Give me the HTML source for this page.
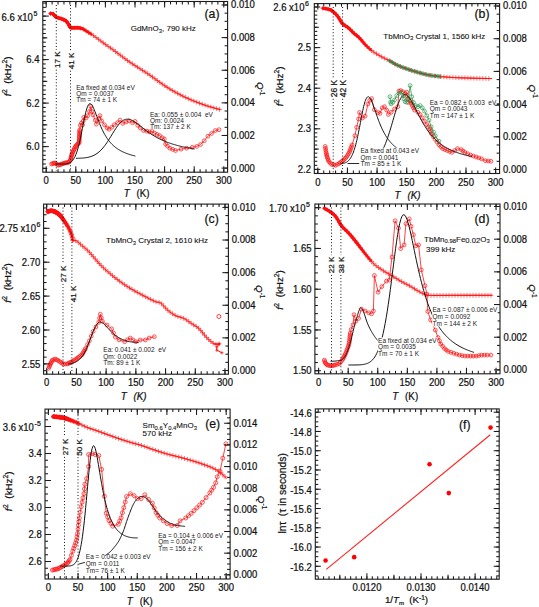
<!DOCTYPE html><html><head><meta charset="utf-8"><style>html,body{margin:0;padding:0;background:#fff;overflow:hidden}svg{display:block}text{white-space:pre;font-family:"Liberation Sans",sans-serif;fill:#111;stroke:#111;stroke-width:0.22px}text.sm{stroke:none;fill:#222}text.md{stroke-width:0.1px}</style></head><body>
<svg xmlns="http://www.w3.org/2000/svg" width="539" height="607" viewBox="0 0 539 607">
<rect width="539" height="607" fill="#fff"/>
<line x1="50.5" y1="13.6" x2="50.67" y2="13.59" stroke="#ff1010" stroke-width="3" stroke-linecap="round"/>
<line x1="50.67" y1="13.59" x2="50.89" y2="13.57" stroke="#ff1010" stroke-width="3" stroke-linecap="round"/>
<line x1="50.89" y1="13.57" x2="51.15" y2="13.53" stroke="#ff1010" stroke-width="3" stroke-linecap="round"/>
<line x1="51.15" y1="13.53" x2="51.44" y2="13.5" stroke="#ff1010" stroke-width="3" stroke-linecap="round"/>
<line x1="51.44" y1="13.5" x2="51.76" y2="13.5" stroke="#ff1010" stroke-width="3" stroke-linecap="round"/>
<line x1="51.76" y1="13.5" x2="52.1" y2="13.53" stroke="#ff1010" stroke-width="3" stroke-linecap="round"/>
<line x1="52.1" y1="13.53" x2="52.45" y2="13.63" stroke="#ff1010" stroke-width="3" stroke-linecap="round"/>
<line x1="52.45" y1="13.63" x2="52.8" y2="13.8" stroke="#ff1010" stroke-width="3" stroke-linecap="round"/>
<line x1="52.8" y1="13.8" x2="53.15" y2="14.07" stroke="#ff1010" stroke-width="3" stroke-linecap="round"/>
<line x1="53.15" y1="14.07" x2="53.5" y2="14.42" stroke="#ff1010" stroke-width="3" stroke-linecap="round"/>
<line x1="53.5" y1="14.42" x2="53.86" y2="14.84" stroke="#ff1010" stroke-width="3" stroke-linecap="round"/>
<line x1="53.86" y1="14.84" x2="54.24" y2="15.29" stroke="#ff1010" stroke-width="3" stroke-linecap="round"/>
<line x1="54.24" y1="15.29" x2="54.65" y2="15.76" stroke="#ff1010" stroke-width="3" stroke-linecap="round"/>
<line x1="54.65" y1="15.76" x2="55.09" y2="16.22" stroke="#ff1010" stroke-width="3" stroke-linecap="round"/>
<line x1="55.09" y1="16.22" x2="55.57" y2="16.64" stroke="#ff1010" stroke-width="3" stroke-linecap="round"/>
<line x1="55.57" y1="16.64" x2="56.1" y2="17" stroke="#ff1010" stroke-width="3" stroke-linecap="round"/>
<line x1="56.1" y1="17" x2="56.7" y2="17.3" stroke="#ff1010" stroke-width="3" stroke-linecap="round"/>
<line x1="56.7" y1="17.3" x2="57.36" y2="17.56" stroke="#ff1010" stroke-width="3" stroke-linecap="round"/>
<line x1="57.36" y1="17.56" x2="58.08" y2="17.79" stroke="#ff1010" stroke-width="3" stroke-linecap="round"/>
<line x1="58.08" y1="17.79" x2="58.83" y2="18.01" stroke="#ff1010" stroke-width="3" stroke-linecap="round"/>
<line x1="58.83" y1="18.01" x2="59.58" y2="18.22" stroke="#ff1010" stroke-width="3" stroke-linecap="round"/>
<line x1="59.58" y1="18.22" x2="60.32" y2="18.43" stroke="#ff1010" stroke-width="3" stroke-linecap="round"/>
<line x1="60.32" y1="18.43" x2="61.04" y2="18.66" stroke="#ff1010" stroke-width="3" stroke-linecap="round"/>
<line x1="61.04" y1="18.66" x2="61.7" y2="18.9" stroke="#ff1010" stroke-width="3" stroke-linecap="round"/>
<line x1="61.7" y1="18.9" x2="62.33" y2="19.15" stroke="#ff1010" stroke-width="3" stroke-linecap="round"/>
<line x1="62.33" y1="19.15" x2="62.94" y2="19.39" stroke="#ff1010" stroke-width="3" stroke-linecap="round"/>
<line x1="62.94" y1="19.39" x2="63.55" y2="19.63" stroke="#ff1010" stroke-width="3" stroke-linecap="round"/>
<line x1="63.55" y1="19.63" x2="64.13" y2="19.87" stroke="#ff1010" stroke-width="3" stroke-linecap="round"/>
<line x1="64.13" y1="19.87" x2="64.69" y2="20.14" stroke="#ff1010" stroke-width="3" stroke-linecap="round"/>
<line x1="64.69" y1="20.14" x2="65.23" y2="20.42" stroke="#ff1010" stroke-width="3" stroke-linecap="round"/>
<line x1="65.23" y1="20.42" x2="65.73" y2="20.74" stroke="#ff1010" stroke-width="3" stroke-linecap="round"/>
<line x1="65.73" y1="20.74" x2="66.2" y2="21.1" stroke="#ff1010" stroke-width="3" stroke-linecap="round"/>
<line x1="66.2" y1="21.1" x2="66.63" y2="21.52" stroke="#ff1010" stroke-width="3" stroke-linecap="round"/>
<line x1="66.63" y1="21.52" x2="67.03" y2="21.99" stroke="#ff1010" stroke-width="3" stroke-linecap="round"/>
<line x1="67.03" y1="21.99" x2="67.39" y2="22.5" stroke="#ff1010" stroke-width="3" stroke-linecap="round"/>
<line x1="67.39" y1="22.5" x2="67.73" y2="23.02" stroke="#ff1010" stroke-width="3" stroke-linecap="round"/>
<line x1="67.73" y1="23.02" x2="68.04" y2="23.56" stroke="#ff1010" stroke-width="3" stroke-linecap="round"/>
<line x1="68.04" y1="23.56" x2="68.34" y2="24.08" stroke="#ff1010" stroke-width="3" stroke-linecap="round"/>
<line x1="68.34" y1="24.08" x2="68.62" y2="24.56" stroke="#ff1010" stroke-width="3" stroke-linecap="round"/>
<line x1="68.62" y1="24.56" x2="68.9" y2="25" stroke="#ff1010" stroke-width="3" stroke-linecap="round"/>
<line x1="68.9" y1="25" x2="69.15" y2="25.4" stroke="#ff1010" stroke-width="3" stroke-linecap="round"/>
<line x1="69.15" y1="25.4" x2="69.36" y2="25.8" stroke="#ff1010" stroke-width="3" stroke-linecap="round"/>
<line x1="69.36" y1="25.8" x2="69.54" y2="26.18" stroke="#ff1010" stroke-width="3" stroke-linecap="round"/>
<line x1="69.54" y1="26.18" x2="69.71" y2="26.53" stroke="#ff1010" stroke-width="3" stroke-linecap="round"/>
<line x1="69.71" y1="26.53" x2="69.89" y2="26.86" stroke="#ff1010" stroke-width="3" stroke-linecap="round"/>
<line x1="69.89" y1="26.86" x2="70.09" y2="27.15" stroke="#ff1010" stroke-width="3" stroke-linecap="round"/>
<line x1="70.09" y1="27.15" x2="70.32" y2="27.4" stroke="#ff1010" stroke-width="3" stroke-linecap="round"/>
<line x1="70.32" y1="27.4" x2="70.6" y2="27.6" stroke="#ff1010" stroke-width="3" stroke-linecap="round"/>
<line x1="70.6" y1="27.6" x2="70.93" y2="27.74" stroke="#ff1010" stroke-width="3" stroke-linecap="round"/>
<line x1="70.93" y1="27.74" x2="71.28" y2="27.82" stroke="#ff1010" stroke-width="3" stroke-linecap="round"/>
<line x1="71.28" y1="27.82" x2="71.67" y2="27.86" stroke="#ff1010" stroke-width="3" stroke-linecap="round"/>
<line x1="71.67" y1="27.86" x2="72.07" y2="27.86" stroke="#ff1010" stroke-width="3" stroke-linecap="round"/>
<line x1="72.07" y1="27.86" x2="72.5" y2="27.85" stroke="#ff1010" stroke-width="3" stroke-linecap="round"/>
<line x1="72.5" y1="27.85" x2="72.95" y2="27.82" stroke="#ff1010" stroke-width="3" stroke-linecap="round"/>
<line x1="72.95" y1="27.82" x2="73.42" y2="27.8" stroke="#ff1010" stroke-width="3" stroke-linecap="round"/>
<line x1="73.42" y1="27.8" x2="73.9" y2="27.8" stroke="#ff1010" stroke-width="3" stroke-linecap="round"/>
<line x1="73.9" y1="27.8" x2="74.41" y2="27.8" stroke="#ff1010" stroke-width="3" stroke-linecap="round"/>
<line x1="74.41" y1="27.8" x2="74.94" y2="27.79" stroke="#ff1010" stroke-width="3" stroke-linecap="round"/>
<line x1="74.94" y1="27.79" x2="75.5" y2="27.77" stroke="#ff1010" stroke-width="3" stroke-linecap="round"/>
<line x1="75.5" y1="27.77" x2="76.08" y2="27.74" stroke="#ff1010" stroke-width="3" stroke-linecap="round"/>
<line x1="76.08" y1="27.74" x2="76.67" y2="27.73" stroke="#ff1010" stroke-width="3" stroke-linecap="round"/>
<line x1="76.67" y1="27.73" x2="77.25" y2="27.73" stroke="#ff1010" stroke-width="3" stroke-linecap="round"/>
<line x1="77.25" y1="27.73" x2="77.83" y2="27.75" stroke="#ff1010" stroke-width="3" stroke-linecap="round"/>
<line x1="77.83" y1="27.75" x2="78.4" y2="27.8" stroke="#ff1010" stroke-width="3" stroke-linecap="round"/>
<line x1="78.4" y1="27.8" x2="78.95" y2="27.87" stroke="#ff1010" stroke-width="2.91" stroke-linecap="round"/>
<line x1="78.95" y1="27.87" x2="79.5" y2="27.96" stroke="#ff1010" stroke-width="2.84" stroke-linecap="round"/>
<line x1="79.5" y1="27.96" x2="80.05" y2="28.06" stroke="#ff1010" stroke-width="2.76" stroke-linecap="round"/>
<line x1="80.05" y1="28.06" x2="80.6" y2="28.18" stroke="#ff1010" stroke-width="2.68" stroke-linecap="round"/>
<line x1="80.6" y1="28.18" x2="81.15" y2="28.31" stroke="#ff1010" stroke-width="2.6" stroke-linecap="round"/>
<line x1="81.15" y1="28.31" x2="81.7" y2="28.48" stroke="#ff1010" stroke-width="2.52" stroke-linecap="round"/>
<line x1="81.7" y1="28.48" x2="82.25" y2="28.67" stroke="#ff1010" stroke-width="2.44" stroke-linecap="round"/>
<line x1="82.25" y1="28.67" x2="82.8" y2="28.9" stroke="#ff1010" stroke-width="2.36" stroke-linecap="round"/>
<line x1="82.8" y1="28.9" x2="83.36" y2="29.17" stroke="#ff1010" stroke-width="2.29" stroke-linecap="round"/>
<line x1="83.36" y1="29.17" x2="83.92" y2="29.48" stroke="#ff1010" stroke-width="2.21" stroke-linecap="round"/>
<line x1="83.92" y1="29.48" x2="84.48" y2="29.83" stroke="#ff1010" stroke-width="2.13" stroke-linecap="round"/>
<line x1="84.48" y1="29.83" x2="85.04" y2="30.19" stroke="#ff1010" stroke-width="2.05" stroke-linecap="round"/>
<line x1="85.04" y1="30.19" x2="85.61" y2="30.58" stroke="#ff1010" stroke-width="1.97" stroke-linecap="round"/>
<line x1="85.61" y1="30.58" x2="86.17" y2="30.96" stroke="#ff1010" stroke-width="1.88" stroke-linecap="round"/>
<line x1="86.17" y1="30.96" x2="86.74" y2="31.34" stroke="#ff1010" stroke-width="1.8" stroke-linecap="round"/>
<line x1="86.74" y1="31.34" x2="87.3" y2="31.7" stroke="#ff1010" stroke-width="1.72" stroke-linecap="round"/>
<line x1="87.3" y1="31.7" x2="87.86" y2="32.04" stroke="#ff1010" stroke-width="1.64" stroke-linecap="round"/>
<line x1="87.86" y1="32.04" x2="88.4" y2="32.37" stroke="#ff1010" stroke-width="1.56" stroke-linecap="round"/>
<line x1="88.4" y1="32.37" x2="88.94" y2="32.7" stroke="#ff1010" stroke-width="1.49" stroke-linecap="round"/>
<line x1="88.94" y1="32.7" x2="89.49" y2="33.03" stroke="#ff1010" stroke-width="1.41" stroke-linecap="round"/>
<line x1="89.49" y1="33.03" x2="90.04" y2="33.37" stroke="#ff1010" stroke-width="1.33" stroke-linecap="round"/>
<line x1="90.04" y1="33.37" x2="90.6" y2="33.72" stroke="#ff1010" stroke-width="1.25" stroke-linecap="round"/>
<line x1="90.6" y1="33.72" x2="91.19" y2="34.1" stroke="#ff1010" stroke-width="1.17" stroke-linecap="round"/>
<line x1="91.19" y1="34.1" x2="91.8" y2="34.5" stroke="#ff1010" stroke-width="1.09" stroke-linecap="round"/>
<path d="M48.75 13.6h3.5M50.5 11.85v3.5M49.94 13.5h3.5M51.69 11.75v3.5M51.08 13.82h3.5M52.83 12.07v3.5M51.95 14.65h3.5M53.7 12.9v3.5M52.73 15.56h3.5M54.48 13.81v3.5M53.57 16.42h3.5M55.32 14.67v3.5M54.55 17.1h3.5M56.3 15.35v3.5M55.65 17.57h3.5M57.4 15.82v3.5M56.79 17.93h3.5M58.54 16.18v3.5M57.95 18.26h3.5M59.7 16.51v3.5M59.1 18.6h3.5M60.85 16.85v3.5M60.23 19.01h3.5M61.98 17.26v3.5M61.34 19.45h3.5M63.09 17.7v3.5M62.45 19.91h3.5M64.2 18.16v3.5M63.52 20.45h3.5M65.27 18.7v3.5M64.5 21.15h3.5M66.25 19.4v3.5M65.31 22.03h3.5M67.06 20.28v3.5M65.98 23.03h3.5M67.73 21.28v3.5M66.58 24.06h3.5M68.33 22.31v3.5M67.2 25.09h3.5M68.95 23.34v3.5M67.77 26.14h3.5M69.52 24.39v3.5M68.37 27.18h3.5M70.12 25.43v3.5M69.37 27.79h3.5M71.12 26.04v3.5M70.57 27.85h3.5M72.32 26.1v3.5M71.76 27.8h3.5M73.51 26.05v3.5M72.96 27.79h3.5M74.71 26.04v3.5M74.16 27.75h3.5M75.91 26v3.5M75.36 27.73h3.5M77.11 25.98v3.5M76.56 27.79h3.5M78.31 26.04v3.5M77.75 27.96h3.5M79.5 26.21v3.5M78.93 28.19h3.5M80.68 26.44v3.5M80.08 28.53h3.5M81.83 26.78v3.5M81.19 28.97h3.5M82.94 27.22v3.5M82.25 29.53h3.5M84 27.78v3.5M83.27 30.17h3.5M85.02 28.42v3.5M84.26 30.85h3.5M86.01 29.1v3.5M85.26 31.51h3.5M87.01 29.76v3.5M86.28 32.15h3.5M88.03 30.4v3.5M87.3 32.77h3.5M89.05 31.02v3.5M88.33 33.39h3.5M90.08 31.64v3.5M89.34 34.03h3.5M91.09 32.28v3.5" stroke="#ff1010" stroke-width="0.6" fill="none"/>
<polyline points="50.5,13.6 50.67,13.59 50.89,13.57 51.15,13.53 51.44,13.5 51.76,13.5 52.1,13.53 52.45,13.63 52.8,13.8 53.15,14.07 53.5,14.42 53.86,14.84 54.24,15.29 54.65,15.76 55.09,16.22 55.57,16.64 56.1,17 56.7,17.3 57.36,17.56 58.08,17.79 58.83,18.01 59.58,18.22 60.32,18.43 61.04,18.66 61.7,18.9 62.33,19.15 62.94,19.39 63.55,19.63 64.13,19.87 64.69,20.14 65.23,20.42 65.73,20.74 66.2,21.1 66.63,21.52 67.03,21.99 67.39,22.5 67.73,23.02 68.04,23.56 68.34,24.08 68.62,24.56 68.9,25 69.15,25.4 69.36,25.8 69.54,26.18 69.71,26.53 69.89,26.86 70.09,27.15 70.32,27.4 70.6,27.6 70.93,27.74 71.28,27.82 71.67,27.86 72.07,27.86 72.5,27.85 72.95,27.82 73.42,27.8 73.9,27.8 74.41,27.8 74.94,27.79 75.5,27.77 76.08,27.74 76.67,27.73 77.25,27.73 77.83,27.75 78.4,27.8 78.95,27.87 79.5,27.96 80.05,28.06 80.6,28.18 81.15,28.31 81.7,28.48 82.25,28.67 82.8,28.9 83.36,29.17 83.92,29.48 84.48,29.83 85.04,30.19 85.61,30.58 86.17,30.96 86.74,31.34 87.3,31.7 87.86,32.04 88.4,32.37 88.94,32.7 89.49,33.03 90.04,33.37 90.6,33.72 91.19,34.1 91.8,34.5 92.43,34.93 93.08,35.37 93.74,35.83 94.41,36.31 95.11,36.81 95.82,37.32 96.55,37.85 97.3,38.4 98.06,38.96 98.81,39.52 99.57,40.1 100.36,40.69 101.18,41.32 102.05,41.97 102.99,42.66 104,43.4 105.07,44.16 106.17,44.94 107.32,45.74 108.53,46.58 109.81,47.47 111.17,48.43 112.63,49.47 114.2,50.6 115.89,51.85 117.69,53.2 119.59,54.64 121.58,56.15 123.62,57.69 125.72,59.25 127.85,60.79 130,62.3 132.19,63.78 134.46,65.26 136.77,66.73 139.13,68.22 141.51,69.71 143.89,71.22 146.26,72.75 148.6,74.3 150.92,75.9 153.23,77.55 155.54,79.22 157.85,80.91 160.16,82.59 162.47,84.22 164.78,85.8 167.1,87.3 169.42,88.73 171.75,90.11 174.07,91.45 176.4,92.75 178.73,94 181.05,95.21 183.38,96.38 185.7,97.5 188.04,98.58 190.4,99.61 192.76,100.6 195.12,101.54 197.46,102.45 199.77,103.31 202.02,104.12 204.2,104.9 206.41,105.65 208.71,106.38 211.02,107.07 213.26,107.71 215.35,108.3 217.22,108.82 218.8,109.26 220,109.6" fill="none" stroke="#ff1010" stroke-width="1.0" stroke-linejoin="round" stroke-linecap="round" />
<path d="M48.1 13.6h4.8M50.5 11.2v4.8M50.89 14.21h4.8M53.29 11.81v4.8M52.92 16.42h4.8M55.32 14.02v4.8M55.57 17.76h4.8M57.97 15.36v4.8M58.45 18.6h4.8M60.85 16.2v4.8M61.25 19.67h4.8M63.65 17.27v4.8M63.85 21.15h4.8M66.25 18.75v4.8M65.63 23.54h4.8M68.03 21.14v4.8M67.12 26.14h4.8M69.52 23.74v4.8M69.32 27.86h4.8M71.72 25.46v4.8M72.31 27.79h4.8M74.71 25.39v4.8M75.31 27.74h4.8M77.71 25.34v4.8M78.28 28.19h4.8M80.68 25.79v4.8M81.08 29.24h4.8M83.48 26.84v4.8M83.61 30.85h4.8M86.01 28.45v4.8M86.14 32.46h4.8M88.54 30.06v4.8M88.69 34.03h4.8M91.09 31.63v4.8M91.17 35.72h4.8M93.57 33.32v4.8M93.61 37.46h4.8M96.01 35.06v4.8M96.03 39.24h4.8M98.43 36.84v4.8M98.43 41.05h4.8M100.83 38.65v4.8M100.83 42.84h4.8M103.23 40.44v4.8M103.27 44.59h4.8M105.67 42.19v4.8M105.73 46.3h4.8M108.13 43.9v4.8M108.19 48.02h4.8M110.59 45.62v4.8M110.64 49.76h4.8M113.04 47.36v4.8M113.06 51.53h4.8M115.46 49.13v4.8M115.46 53.33h4.8M117.86 50.93v4.8M117.85 55.14h4.8M120.25 52.74v4.8M120.24 56.95h4.8M122.64 54.55v4.8M122.64 58.75h4.8M125.04 56.35v4.8M125.07 60.51h4.8M127.47 58.11v4.8M127.52 62.24h4.8M129.92 59.84v4.8M130.01 63.92h4.8M132.41 61.52v4.8M132.52 65.55h4.8M134.92 63.15v4.8M135.06 67.16h4.8M137.46 64.76v4.8M137.59 68.76h4.8M139.99 66.36v4.8M140.13 70.36h4.8M142.53 67.96v4.8M142.66 71.98h4.8M145.06 69.58v4.8M145.17 73.62h4.8M147.57 71.22v4.8M147.65 75.3h4.8M150.05 72.9v4.8M150.11 77.03h4.8M152.51 74.63v4.8M152.54 78.79h4.8M154.94 76.39v4.8M154.96 80.56h4.8M157.36 78.16v4.8M157.39 82.32h4.8M159.79 79.92v4.8M159.83 84.06h4.8M162.23 81.66v4.8M162.31 85.75h4.8M164.71 83.35v4.8M164.83 87.38h4.8M167.23 84.98v4.8M167.39 88.95h4.8M169.79 86.55v4.8M169.97 90.47h4.8M172.37 88.07v4.8M172.58 91.96h4.8M174.98 89.56v4.8M175.21 93.4h4.8M177.61 91v4.8M177.86 94.8h4.8M180.26 92.4v4.8M180.54 96.16h4.8M182.94 93.76v4.8M183.23 97.47h4.8M185.63 95.07v4.8M185.96 98.72h4.8M188.36 96.32v4.8M188.71 99.91h4.8M191.11 97.51v4.8M191.49 101.05h4.8M193.89 98.65v4.8M194.28 102.14h4.8M196.68 99.74v4.8M197.09 103.2h4.8M199.49 100.8v4.8M199.91 104.23h4.8M202.31 101.83v4.8M202.74 105.22h4.8M205.14 102.82v4.8M205.59 106.15h4.8M207.99 103.75v4.8M208.46 107.02h4.8M210.86 104.62v4.8M211.35 107.85h4.8M213.75 105.45v4.8M214.23 108.66h4.8M216.63 106.26v4.8M217.12 109.46h4.8M219.52 107.06v4.8" stroke="#ff1010" stroke-width="0.6" fill="none"/>
<polyline points="51.5,164 54.9,162.9 58.4,165.2 61.8,164 65.3,162.9 68.8,162.3 70.5,160 71.6,155.4 72.8,151.9 74,149.6 75.7,146.1 77.4,144.4 79.1,142.7 79.7,130 80.3,125.4 81.4,123.1 82.6,124.8 83.8,117.3 86.1,117.9 87.8,115.6 89.5,111.5 90.9,106.3 91.8,111.5 93,115 95.3,120.2 96.4,124.2 98.7,119 99.9,115.6 101.6,120.8 104.5,124.8 107.1,127.9 109.1,129.2 111.7,127.3 114.3,124.7 117.5,122.7 120.1,120.1 122.7,123.4 126,122.1 129.2,120.8 132.5,122.7 135.1,121.4 137.7,125.3 140.3,127.9 143.5,130.5 146.8,131.2 149.4,131.8 151.9,131.2 154.5,133.1 157.1,134.4 159.7,135.7 162.3,137.7 164.3,139 165.6,144.2 167.5,146.1 169.9,148.2 175.5,150.5 181,149.2 186.6,148.2 192.2,147.3 196.8,146.4 200.5,144.5 204.2,140.8 207.9,136.2 211.6,133.4 215.3,130.6 219,129.7" fill="none" stroke="#ff1010" stroke-width="0.8" stroke-linejoin="round" stroke-linecap="round" />
<circle cx="51.5" cy="164" r="1.9" fill="none" stroke="#ff1010" stroke-width="0.7"/>
<circle cx="52.63" cy="163.63" r="1.9" fill="none" stroke="#ff1010" stroke-width="0.7"/>
<circle cx="53.77" cy="163.27" r="1.9" fill="none" stroke="#ff1010" stroke-width="0.7"/>
<circle cx="54.9" cy="162.9" r="1.9" fill="none" stroke="#ff1010" stroke-width="0.7"/>
<circle cx="56.07" cy="163.67" r="1.9" fill="none" stroke="#ff1010" stroke-width="0.7"/>
<circle cx="57.23" cy="164.43" r="1.9" fill="none" stroke="#ff1010" stroke-width="0.7"/>
<circle cx="58.4" cy="165.2" r="1.9" fill="none" stroke="#ff1010" stroke-width="0.7"/>
<circle cx="59.53" cy="164.8" r="1.9" fill="none" stroke="#ff1010" stroke-width="0.7"/>
<circle cx="60.67" cy="164.4" r="1.9" fill="none" stroke="#ff1010" stroke-width="0.7"/>
<circle cx="61.8" cy="164" r="1.9" fill="none" stroke="#ff1010" stroke-width="0.7"/>
<circle cx="62.97" cy="163.63" r="1.9" fill="none" stroke="#ff1010" stroke-width="0.7"/>
<circle cx="64.13" cy="163.27" r="1.9" fill="none" stroke="#ff1010" stroke-width="0.7"/>
<circle cx="65.3" cy="162.9" r="1.9" fill="none" stroke="#ff1010" stroke-width="0.7"/>
<circle cx="66.47" cy="162.7" r="1.9" fill="none" stroke="#ff1010" stroke-width="0.7"/>
<circle cx="67.63" cy="162.5" r="1.9" fill="none" stroke="#ff1010" stroke-width="0.7"/>
<circle cx="68.8" cy="162.3" r="1.9" fill="none" stroke="#ff1010" stroke-width="0.7"/>
<circle cx="69.65" cy="161.15" r="1.9" fill="none" stroke="#ff1010" stroke-width="0.7"/>
<circle cx="70.5" cy="160" r="1.9" fill="none" stroke="#ff1010" stroke-width="0.7"/>
<circle cx="70.78" cy="158.85" r="1.9" fill="none" stroke="#ff1010" stroke-width="0.7"/>
<circle cx="71.05" cy="157.7" r="1.9" fill="none" stroke="#ff1010" stroke-width="0.7"/>
<circle cx="71.32" cy="156.55" r="1.9" fill="none" stroke="#ff1010" stroke-width="0.7"/>
<circle cx="71.6" cy="155.4" r="1.9" fill="none" stroke="#ff1010" stroke-width="0.7"/>
<circle cx="72" cy="154.23" r="1.9" fill="none" stroke="#ff1010" stroke-width="0.7"/>
<circle cx="72.4" cy="153.07" r="1.9" fill="none" stroke="#ff1010" stroke-width="0.7"/>
<circle cx="72.8" cy="151.9" r="1.9" fill="none" stroke="#ff1010" stroke-width="0.7"/>
<circle cx="73.4" cy="150.75" r="1.9" fill="none" stroke="#ff1010" stroke-width="0.7"/>
<circle cx="74" cy="149.6" r="1.9" fill="none" stroke="#ff1010" stroke-width="0.7"/>
<circle cx="74.57" cy="148.43" r="1.9" fill="none" stroke="#ff1010" stroke-width="0.7"/>
<circle cx="75.13" cy="147.27" r="1.9" fill="none" stroke="#ff1010" stroke-width="0.7"/>
<circle cx="75.7" cy="146.1" r="1.9" fill="none" stroke="#ff1010" stroke-width="0.7"/>
<circle cx="76.55" cy="145.25" r="1.9" fill="none" stroke="#ff1010" stroke-width="0.7"/>
<circle cx="77.4" cy="144.4" r="1.9" fill="none" stroke="#ff1010" stroke-width="0.7"/>
<circle cx="78.25" cy="143.55" r="1.9" fill="none" stroke="#ff1010" stroke-width="0.7"/>
<circle cx="79.1" cy="142.7" r="1.9" fill="none" stroke="#ff1010" stroke-width="0.7"/>
<circle cx="79.17" cy="141.29" r="1.9" fill="none" stroke="#ff1010" stroke-width="0.7"/>
<circle cx="79.23" cy="139.88" r="1.9" fill="none" stroke="#ff1010" stroke-width="0.7"/>
<circle cx="79.3" cy="138.47" r="1.9" fill="none" stroke="#ff1010" stroke-width="0.7"/>
<circle cx="79.37" cy="137.06" r="1.9" fill="none" stroke="#ff1010" stroke-width="0.7"/>
<circle cx="79.43" cy="135.64" r="1.9" fill="none" stroke="#ff1010" stroke-width="0.7"/>
<circle cx="79.5" cy="134.23" r="1.9" fill="none" stroke="#ff1010" stroke-width="0.7"/>
<circle cx="79.57" cy="132.82" r="1.9" fill="none" stroke="#ff1010" stroke-width="0.7"/>
<circle cx="79.63" cy="131.41" r="1.9" fill="none" stroke="#ff1010" stroke-width="0.7"/>
<circle cx="79.7" cy="130" r="1.9" fill="none" stroke="#ff1010" stroke-width="0.7"/>
<circle cx="80.3" cy="125.4" r="1.9" fill="none" stroke="#ff1010" stroke-width="0.7"/>
<circle cx="81.4" cy="123.1" r="1.9" fill="none" stroke="#ff1010" stroke-width="0.7"/>
<circle cx="82.6" cy="124.8" r="1.9" fill="none" stroke="#ff1010" stroke-width="0.7"/>
<circle cx="83.2" cy="121.05" r="1.9" fill="none" stroke="#ff1010" stroke-width="0.7"/>
<circle cx="83.8" cy="117.3" r="1.9" fill="none" stroke="#ff1010" stroke-width="0.7"/>
<circle cx="86.1" cy="117.9" r="1.9" fill="none" stroke="#ff1010" stroke-width="0.7"/>
<circle cx="87.8" cy="115.6" r="1.9" fill="none" stroke="#ff1010" stroke-width="0.7"/>
<circle cx="89.5" cy="111.5" r="1.9" fill="none" stroke="#ff1010" stroke-width="0.7"/>
<circle cx="90.9" cy="106.3" r="1.9" fill="none" stroke="#ff1010" stroke-width="0.7"/>
<circle cx="91.8" cy="111.5" r="1.9" fill="none" stroke="#ff1010" stroke-width="0.7"/>
<circle cx="93" cy="115" r="1.9" fill="none" stroke="#ff1010" stroke-width="0.7"/>
<circle cx="95.3" cy="120.2" r="1.9" fill="none" stroke="#ff1010" stroke-width="0.7"/>
<circle cx="96.4" cy="124.2" r="1.9" fill="none" stroke="#ff1010" stroke-width="0.7"/>
<circle cx="98.7" cy="119" r="1.9" fill="none" stroke="#ff1010" stroke-width="0.7"/>
<circle cx="99.9" cy="115.6" r="1.9" fill="none" stroke="#ff1010" stroke-width="0.7"/>
<circle cx="101.6" cy="120.8" r="1.9" fill="none" stroke="#ff1010" stroke-width="0.7"/>
<circle cx="104.5" cy="124.8" r="1.9" fill="none" stroke="#ff1010" stroke-width="0.7"/>
<circle cx="107.1" cy="127.9" r="1.9" fill="none" stroke="#ff1010" stroke-width="0.7"/>
<circle cx="109.1" cy="129.2" r="1.9" fill="none" stroke="#ff1010" stroke-width="0.7"/>
<circle cx="111.7" cy="127.3" r="1.9" fill="none" stroke="#ff1010" stroke-width="0.7"/>
<circle cx="114.3" cy="124.7" r="1.9" fill="none" stroke="#ff1010" stroke-width="0.7"/>
<circle cx="117.5" cy="122.7" r="1.9" fill="none" stroke="#ff1010" stroke-width="0.7"/>
<circle cx="120.1" cy="120.1" r="1.9" fill="none" stroke="#ff1010" stroke-width="0.7"/>
<circle cx="122.7" cy="123.4" r="1.9" fill="none" stroke="#ff1010" stroke-width="0.7"/>
<circle cx="126" cy="122.1" r="1.9" fill="none" stroke="#ff1010" stroke-width="0.7"/>
<circle cx="129.2" cy="120.8" r="1.9" fill="none" stroke="#ff1010" stroke-width="0.7"/>
<circle cx="132.5" cy="122.7" r="1.9" fill="none" stroke="#ff1010" stroke-width="0.7"/>
<circle cx="135.1" cy="121.4" r="1.9" fill="none" stroke="#ff1010" stroke-width="0.7"/>
<circle cx="137.7" cy="125.3" r="1.9" fill="none" stroke="#ff1010" stroke-width="0.7"/>
<circle cx="140.3" cy="127.9" r="1.9" fill="none" stroke="#ff1010" stroke-width="0.7"/>
<circle cx="143.5" cy="130.5" r="1.9" fill="none" stroke="#ff1010" stroke-width="0.7"/>
<circle cx="146.8" cy="131.2" r="1.9" fill="none" stroke="#ff1010" stroke-width="0.7"/>
<circle cx="149.4" cy="131.8" r="1.9" fill="none" stroke="#ff1010" stroke-width="0.7"/>
<circle cx="151.9" cy="131.2" r="1.9" fill="none" stroke="#ff1010" stroke-width="0.7"/>
<circle cx="154.5" cy="133.1" r="1.9" fill="none" stroke="#ff1010" stroke-width="0.7"/>
<circle cx="157.1" cy="134.4" r="1.9" fill="none" stroke="#ff1010" stroke-width="0.7"/>
<circle cx="159.7" cy="135.7" r="1.9" fill="none" stroke="#ff1010" stroke-width="0.7"/>
<circle cx="162.3" cy="137.7" r="1.9" fill="none" stroke="#ff1010" stroke-width="0.7"/>
<circle cx="164.3" cy="139" r="1.9" fill="none" stroke="#ff1010" stroke-width="0.7"/>
<circle cx="165.6" cy="144.2" r="1.9" fill="none" stroke="#ff1010" stroke-width="0.7"/>
<circle cx="167.5" cy="146.1" r="1.9" fill="none" stroke="#ff1010" stroke-width="0.7"/>
<circle cx="169.9" cy="148.2" r="1.9" fill="none" stroke="#ff1010" stroke-width="0.7"/>
<circle cx="172.7" cy="149.35" r="1.9" fill="none" stroke="#ff1010" stroke-width="0.7"/>
<circle cx="175.5" cy="150.5" r="1.9" fill="none" stroke="#ff1010" stroke-width="0.7"/>
<circle cx="181" cy="149.2" r="1.9" fill="none" stroke="#ff1010" stroke-width="0.7"/>
<circle cx="186.6" cy="148.2" r="1.9" fill="none" stroke="#ff1010" stroke-width="0.7"/>
<circle cx="192.2" cy="147.3" r="1.9" fill="none" stroke="#ff1010" stroke-width="0.7"/>
<circle cx="196.8" cy="146.4" r="1.9" fill="none" stroke="#ff1010" stroke-width="0.7"/>
<circle cx="200.5" cy="144.5" r="1.9" fill="none" stroke="#ff1010" stroke-width="0.7"/>
<circle cx="204.2" cy="140.8" r="1.9" fill="none" stroke="#ff1010" stroke-width="0.7"/>
<circle cx="207.9" cy="136.2" r="1.9" fill="none" stroke="#ff1010" stroke-width="0.7"/>
<circle cx="211.6" cy="133.4" r="1.9" fill="none" stroke="#ff1010" stroke-width="0.7"/>
<circle cx="215.3" cy="130.6" r="1.9" fill="none" stroke="#ff1010" stroke-width="0.7"/>
<circle cx="219" cy="129.7" r="1.9" fill="none" stroke="#ff1010" stroke-width="0.7"/>
<line x1="322.9" y1="8.2" x2="323.4" y2="8.29" stroke="#ff1010" stroke-width="2.8" stroke-linecap="round"/>
<line x1="323.4" y1="8.29" x2="324.08" y2="8.4" stroke="#ff1010" stroke-width="2.8" stroke-linecap="round"/>
<line x1="324.08" y1="8.4" x2="324.89" y2="8.54" stroke="#ff1010" stroke-width="2.8" stroke-linecap="round"/>
<line x1="324.89" y1="8.54" x2="325.78" y2="8.69" stroke="#ff1010" stroke-width="2.8" stroke-linecap="round"/>
<line x1="325.78" y1="8.69" x2="326.7" y2="8.85" stroke="#ff1010" stroke-width="2.8" stroke-linecap="round"/>
<line x1="326.7" y1="8.85" x2="327.59" y2="9.03" stroke="#ff1010" stroke-width="2.8" stroke-linecap="round"/>
<line x1="327.59" y1="9.03" x2="328.41" y2="9.21" stroke="#ff1010" stroke-width="2.8" stroke-linecap="round"/>
<line x1="328.41" y1="9.21" x2="329.1" y2="9.4" stroke="#ff1010" stroke-width="2.8" stroke-linecap="round"/>
<line x1="329.1" y1="9.4" x2="329.65" y2="9.57" stroke="#ff1010" stroke-width="2.8" stroke-linecap="round"/>
<line x1="329.65" y1="9.57" x2="330.12" y2="9.73" stroke="#ff1010" stroke-width="2.8" stroke-linecap="round"/>
<line x1="330.12" y1="9.73" x2="330.53" y2="9.88" stroke="#ff1010" stroke-width="2.8" stroke-linecap="round"/>
<line x1="330.53" y1="9.88" x2="330.91" y2="10.04" stroke="#ff1010" stroke-width="2.8" stroke-linecap="round"/>
<line x1="330.91" y1="10.04" x2="331.27" y2="10.24" stroke="#ff1010" stroke-width="2.8" stroke-linecap="round"/>
<line x1="331.27" y1="10.24" x2="331.66" y2="10.49" stroke="#ff1010" stroke-width="2.8" stroke-linecap="round"/>
<line x1="331.66" y1="10.49" x2="332.09" y2="10.8" stroke="#ff1010" stroke-width="2.8" stroke-linecap="round"/>
<line x1="332.09" y1="10.8" x2="332.6" y2="11.2" stroke="#ff1010" stroke-width="2.8" stroke-linecap="round"/>
<line x1="332.6" y1="11.2" x2="333.18" y2="11.68" stroke="#ff1010" stroke-width="2.8" stroke-linecap="round"/>
<line x1="333.18" y1="11.68" x2="333.82" y2="12.24" stroke="#ff1010" stroke-width="2.8" stroke-linecap="round"/>
<line x1="333.82" y1="12.24" x2="334.5" y2="12.86" stroke="#ff1010" stroke-width="2.8" stroke-linecap="round"/>
<line x1="334.5" y1="12.86" x2="335.19" y2="13.52" stroke="#ff1010" stroke-width="2.8" stroke-linecap="round"/>
<line x1="335.19" y1="13.52" x2="335.9" y2="14.23" stroke="#ff1010" stroke-width="2.8" stroke-linecap="round"/>
<line x1="335.9" y1="14.23" x2="336.6" y2="14.97" stroke="#ff1010" stroke-width="2.8" stroke-linecap="round"/>
<line x1="336.6" y1="14.97" x2="337.27" y2="15.73" stroke="#ff1010" stroke-width="2.8" stroke-linecap="round"/>
<line x1="337.27" y1="15.73" x2="337.9" y2="16.5" stroke="#ff1010" stroke-width="2.8" stroke-linecap="round"/>
<line x1="337.9" y1="16.5" x2="338.48" y2="17.31" stroke="#ff1010" stroke-width="2.8" stroke-linecap="round"/>
<line x1="338.48" y1="17.31" x2="339.02" y2="18.19" stroke="#ff1010" stroke-width="2.8" stroke-linecap="round"/>
<line x1="339.02" y1="18.19" x2="339.54" y2="19.11" stroke="#ff1010" stroke-width="2.8" stroke-linecap="round"/>
<line x1="339.54" y1="19.11" x2="340.04" y2="20.06" stroke="#ff1010" stroke-width="2.8" stroke-linecap="round"/>
<line x1="340.04" y1="20.06" x2="340.56" y2="20.99" stroke="#ff1010" stroke-width="2.8" stroke-linecap="round"/>
<line x1="340.56" y1="20.99" x2="341.09" y2="21.89" stroke="#ff1010" stroke-width="2.8" stroke-linecap="round"/>
<line x1="341.09" y1="21.89" x2="341.67" y2="22.74" stroke="#ff1010" stroke-width="2.8" stroke-linecap="round"/>
<line x1="341.67" y1="22.74" x2="342.3" y2="23.5" stroke="#ff1010" stroke-width="2.8" stroke-linecap="round"/>
<line x1="342.3" y1="23.5" x2="343" y2="24.17" stroke="#ff1010" stroke-width="2.8" stroke-linecap="round"/>
<line x1="343" y1="24.17" x2="343.74" y2="24.76" stroke="#ff1010" stroke-width="2.8" stroke-linecap="round"/>
<line x1="343.74" y1="24.76" x2="344.53" y2="25.3" stroke="#ff1010" stroke-width="2.8" stroke-linecap="round"/>
<line x1="344.53" y1="25.3" x2="345.34" y2="25.81" stroke="#ff1010" stroke-width="2.8" stroke-linecap="round"/>
<line x1="345.34" y1="25.81" x2="346.16" y2="26.3" stroke="#ff1010" stroke-width="2.8" stroke-linecap="round"/>
<line x1="346.16" y1="26.3" x2="346.97" y2="26.8" stroke="#ff1010" stroke-width="2.8" stroke-linecap="round"/>
<line x1="346.97" y1="26.8" x2="347.76" y2="27.32" stroke="#ff1010" stroke-width="2.8" stroke-linecap="round"/>
<line x1="347.76" y1="27.32" x2="348.5" y2="27.9" stroke="#ff1010" stroke-width="2.8" stroke-linecap="round"/>
<line x1="348.5" y1="27.9" x2="349.21" y2="28.53" stroke="#ff1010" stroke-width="2.8" stroke-linecap="round"/>
<line x1="349.21" y1="28.53" x2="349.89" y2="29.18" stroke="#ff1010" stroke-width="2.8" stroke-linecap="round"/>
<line x1="349.89" y1="29.18" x2="350.55" y2="29.86" stroke="#ff1010" stroke-width="2.8" stroke-linecap="round"/>
<line x1="350.55" y1="29.86" x2="351.21" y2="30.55" stroke="#ff1010" stroke-width="2.8" stroke-linecap="round"/>
<line x1="351.21" y1="30.55" x2="351.85" y2="31.24" stroke="#ff1010" stroke-width="2.8" stroke-linecap="round"/>
<line x1="351.85" y1="31.24" x2="352.5" y2="31.92" stroke="#ff1010" stroke-width="2.8" stroke-linecap="round"/>
<line x1="352.5" y1="31.92" x2="353.14" y2="32.57" stroke="#ff1010" stroke-width="2.8" stroke-linecap="round"/>
<line x1="353.14" y1="32.57" x2="353.8" y2="33.2" stroke="#ff1010" stroke-width="2.8" stroke-linecap="round"/>
<line x1="353.8" y1="33.2" x2="354.45" y2="33.77" stroke="#ff1010" stroke-width="2.8" stroke-linecap="round"/>
<line x1="354.45" y1="33.77" x2="355.09" y2="34.28" stroke="#ff1010" stroke-width="2.8" stroke-linecap="round"/>
<line x1="355.09" y1="34.28" x2="355.71" y2="34.76" stroke="#ff1010" stroke-width="2.8" stroke-linecap="round"/>
<line x1="355.71" y1="34.76" x2="356.34" y2="35.24" stroke="#ff1010" stroke-width="2.8" stroke-linecap="round"/>
<line x1="356.34" y1="35.24" x2="356.99" y2="35.73" stroke="#ff1010" stroke-width="2.8" stroke-linecap="round"/>
<line x1="356.99" y1="35.73" x2="357.66" y2="36.28" stroke="#ff1010" stroke-width="2.8" stroke-linecap="round"/>
<line x1="357.66" y1="36.28" x2="358.36" y2="36.89" stroke="#ff1010" stroke-width="2.75" stroke-linecap="round"/>
<line x1="358.36" y1="36.89" x2="359.1" y2="37.6" stroke="#ff1010" stroke-width="2.66" stroke-linecap="round"/>
<line x1="359.1" y1="37.6" x2="359.89" y2="38.43" stroke="#ff1010" stroke-width="2.57" stroke-linecap="round"/>
<line x1="359.89" y1="38.43" x2="360.73" y2="39.37" stroke="#ff1010" stroke-width="2.47" stroke-linecap="round"/>
<line x1="360.73" y1="39.37" x2="361.6" y2="40.38" stroke="#ff1010" stroke-width="2.36" stroke-linecap="round"/>
<line x1="361.6" y1="40.38" x2="362.49" y2="41.44" stroke="#ff1010" stroke-width="2.25" stroke-linecap="round"/>
<line x1="362.49" y1="41.44" x2="363.39" y2="42.51" stroke="#ff1010" stroke-width="2.13" stroke-linecap="round"/>
<line x1="363.39" y1="42.51" x2="364.3" y2="43.56" stroke="#ff1010" stroke-width="2.02" stroke-linecap="round"/>
<line x1="364.3" y1="43.56" x2="365.21" y2="44.57" stroke="#ff1010" stroke-width="1.9" stroke-linecap="round"/>
<line x1="365.21" y1="44.57" x2="366.1" y2="45.5" stroke="#ff1010" stroke-width="1.78" stroke-linecap="round"/>
<line x1="366.1" y1="45.5" x2="366.97" y2="46.36" stroke="#ff1010" stroke-width="1.67" stroke-linecap="round"/>
<line x1="366.97" y1="46.36" x2="367.83" y2="47.19" stroke="#ff1010" stroke-width="1.56" stroke-linecap="round"/>
<line x1="367.83" y1="47.19" x2="368.68" y2="47.99" stroke="#ff1010" stroke-width="1.45" stroke-linecap="round"/>
<line x1="368.68" y1="47.99" x2="369.54" y2="48.76" stroke="#ff1010" stroke-width="1.34" stroke-linecap="round"/>
<line x1="369.54" y1="48.76" x2="370.41" y2="49.52" stroke="#ff1010" stroke-width="1.23" stroke-linecap="round"/>
<line x1="370.41" y1="49.52" x2="371.3" y2="50.25" stroke="#ff1010" stroke-width="1.12" stroke-linecap="round"/>
<path d="M321.25 8.2h3.3M322.9 6.55v3.3M322.43 8.4h3.3M324.08 6.75v3.3M323.62 8.6h3.3M325.27 6.95v3.3M324.8 8.81h3.3M326.45 7.16v3.3M325.98 9.04h3.3M327.63 7.39v3.3M327.14 9.32h3.3M328.79 7.67v3.3M328.29 9.67h3.3M329.94 8.02v3.3M329.4 10.12h3.3M331.05 8.47v3.3M330.4 10.77h3.3M332.05 9.12v3.3M331.34 11.52h3.3M332.99 9.87v3.3M332.25 12.31h3.3M333.9 10.66v3.3M333.13 13.13h3.3M334.78 11.48v3.3M333.98 13.97h3.3M335.63 12.32v3.3M334.81 14.83h3.3M336.46 13.18v3.3M335.61 15.73h3.3M337.26 14.08v3.3M336.37 16.66h3.3M338.02 15.01v3.3M337.04 17.65h3.3M338.69 16v3.3M337.65 18.69h3.3M339.3 17.04v3.3M338.22 19.74h3.3M339.87 18.09v3.3M338.8 20.79h3.3M340.45 19.14v3.3M339.41 21.83h3.3M341.06 20.18v3.3M340.09 22.82h3.3M341.74 21.17v3.3M340.88 23.72h3.3M342.53 22.07v3.3M341.78 24.51h3.3M343.43 22.86v3.3M342.75 25.21h3.3M344.4 23.56v3.3M343.77 25.85h3.3M345.42 24.2v3.3M344.79 26.47h3.3M346.44 24.82v3.3M345.8 27.12h3.3M347.45 25.47v3.3M346.76 27.83h3.3M348.41 26.18v3.3M347.66 28.63h3.3M349.31 26.98v3.3M348.52 29.47h3.3M350.17 27.82v3.3M349.35 30.33h3.3M351 28.68v3.3M350.17 31.21h3.3M351.82 29.56v3.3M351 32.08h3.3M352.65 30.43v3.3M351.86 32.92h3.3M353.51 31.27v3.3M352.75 33.72h3.3M354.4 32.07v3.3M353.68 34.47h3.3M355.33 32.82v3.3M354.64 35.2h3.3M356.29 33.55v3.3M355.59 35.93h3.3M357.24 34.28v3.3M356.5 36.71h3.3M358.15 35.06v3.3M357.38 37.53h3.3M359.03 35.88v3.3M358.21 38.4h3.3M359.86 36.75v3.3M359.01 39.29h3.3M360.66 37.64v3.3M359.79 40.2h3.3M361.44 38.55v3.3M360.57 41.12h3.3M362.22 39.47v3.3M361.34 42.03h3.3M362.99 40.38v3.3M362.12 42.94h3.3M363.77 41.29v3.3M362.91 43.85h3.3M364.56 42.2v3.3M363.72 44.74h3.3M365.37 43.09v3.3M364.55 45.6h3.3M366.2 43.95v3.3M365.4 46.44h3.3M367.05 44.79v3.3M366.27 47.28h3.3M367.92 45.63v3.3M367.15 48.09h3.3M368.8 46.44v3.3M368.04 48.89h3.3M369.69 47.24v3.3M368.95 49.67h3.3M370.6 48.02v3.3" stroke="#ff1010" stroke-width="0.6" fill="none"/>
<polyline points="322.9,8.2 323.4,8.29 324.08,8.4 324.89,8.54 325.78,8.69 326.7,8.85 327.59,9.03 328.41,9.21 329.1,9.4 329.65,9.57 330.12,9.73 330.53,9.88 330.91,10.04 331.27,10.24 331.66,10.49 332.09,10.8 332.6,11.2 333.18,11.68 333.82,12.24 334.5,12.86 335.19,13.52 335.9,14.23 336.6,14.97 337.27,15.73 337.9,16.5 338.48,17.31 339.02,18.19 339.54,19.11 340.04,20.06 340.56,20.99 341.09,21.89 341.67,22.74 342.3,23.5 343,24.17 343.74,24.76 344.53,25.3 345.34,25.81 346.16,26.3 346.97,26.8 347.76,27.32 348.5,27.9 349.21,28.53 349.89,29.18 350.55,29.86 351.21,30.55 351.85,31.24 352.5,31.92 353.14,32.57 353.8,33.2 354.45,33.77 355.09,34.28 355.71,34.76 356.34,35.24 356.99,35.73 357.66,36.28 358.36,36.89 359.1,37.6 359.89,38.43 360.73,39.37 361.6,40.38 362.49,41.44 363.39,42.51 364.3,43.56 365.21,44.57 366.1,45.5 366.97,46.36 367.83,47.19 368.68,47.99 369.54,48.76 370.41,49.52 371.3,50.25 372.23,50.98 373.2,51.7 374.23,52.42 375.32,53.13 376.45,53.83 377.61,54.52 378.76,55.18 379.89,55.82 380.97,56.43 382,57 382.95,57.51 383.83,57.97 384.68,58.38 385.5,58.78 386.32,59.16 387.17,59.57 388.05,60.01 389,60.5 390,61.05 391.01,61.64 392.05,62.26 393.12,62.9 394.22,63.54 395.37,64.18 396.56,64.81 397.8,65.4 399.12,65.98 400.54,66.55 402.01,67.12 403.52,67.68 405.03,68.22 406.52,68.74 407.95,69.24 409.3,69.7 410.57,70.12 411.78,70.51 412.95,70.88 414.09,71.22 415.22,71.55 416.33,71.86 417.46,72.18 418.6,72.5 419.75,72.83 420.9,73.15 422.05,73.48 423.2,73.79 424.35,74.1 425.5,74.39 426.65,74.66 427.8,74.9 428.98,75.12 430.2,75.32 431.44,75.5 432.68,75.66 433.88,75.81 435.03,75.95 436.11,76.08 437.1,76.2 437.93,76.31 438.6,76.39 439.18,76.47 439.71,76.53 440.27,76.59 440.92,76.65 441.7,76.72 442.7,76.8 443.9,76.89 445.24,76.99 446.7,77.1 448.26,77.21 449.9,77.31 451.58,77.42 453.29,77.51 455,77.6 456.7,77.68 458.4,77.75 460.13,77.81 461.91,77.87 463.76,77.93 465.71,77.98 467.78,78.04 470,78.1 472.55,78.17 475.48,78.24 478.63,78.31 481.84,78.38 484.92,78.45 487.72,78.51 490.07,78.56 491.8,78.6" fill="none" stroke="#ff1010" stroke-width="1.0" stroke-linejoin="round" stroke-linecap="round" />
<path d="M320.5 8.2h4.8M322.9 5.8v4.8M323.46 8.7h4.8M325.86 6.3v4.8M326.39 9.32h4.8M328.79 6.92v4.8M329.16 10.43h4.8M331.56 8.03v4.8M331.5 12.31h4.8M333.9 9.91v4.8M333.65 14.4h4.8M336.05 12v4.8M335.62 16.66h4.8M338.02 14.26v4.8M337.19 19.21h4.8M339.59 16.81v4.8M338.66 21.83h4.8M341.06 19.43v4.8M340.56 24.13h4.8M342.96 21.73v4.8M343.02 25.85h4.8M345.42 23.45v4.8M345.54 27.47h4.8M347.94 25.07v4.8M347.77 29.47h4.8M350.17 27.07v4.8M349.84 31.64h4.8M352.24 29.24v4.8M352 33.72h4.8M354.4 31.32v4.8M354.37 35.56h4.8M356.77 33.16v4.8M356.63 37.53h4.8M359.03 35.13v4.8M358.65 39.74h4.8M361.05 37.34v4.8M360.59 42.03h4.8M362.99 39.63v4.8M362.56 44.29h4.8M364.96 41.89v4.8M364.65 46.44h4.8M367.05 44.04v4.8M366.84 48.5h4.8M369.24 46.1v4.8M369.13 50.43h4.8M371.53 48.03v4.8M371.54 52.22h4.8M373.94 49.82v4.8M374.07 53.84h4.8M376.47 51.44v4.8M376.66 55.35h4.8M379.06 52.95v4.8M379.27 56.82h4.8M381.67 54.42v4.8M381.93 58.21h4.8M384.33 55.81v4.8M384.64 59.51h4.8M387.04 57.11v4.8M387.3 60.89h4.8M389.7 58.49v4.8M389.89 62.4h4.8M392.29 60v4.8M392.48 63.91h4.8M394.88 61.51v4.8M395.15 65.28h4.8M397.55 62.88v4.8M397.91 66.46h4.8M400.31 64.06v4.8M400.71 67.53h4.8M403.11 65.13v4.8M403.53 68.54h4.8M405.93 66.14v4.8M406.37 69.52h4.8M408.77 67.12v4.8M409.22 70.46h4.8M411.62 68.06v4.8M412.09 71.33h4.8M414.49 68.93v4.8M414.97 72.16h4.8M417.37 69.76v4.8M417.86 72.97h4.8M420.26 70.57v4.8M420.75 73.78h4.8M423.15 71.38v4.8M423.66 74.52h4.8M426.06 72.12v4.8M426.59 75.12h4.8M428.99 72.72v4.8M429.56 75.57h4.8M431.96 73.17v4.8M432.54 75.94h4.8M434.94 73.54v4.8M435.52 76.31h4.8M437.92 73.91v4.8M438.5 76.65h4.8M440.9 74.25v4.8M441.49 76.89h4.8M443.89 74.49v4.8M444.48 77.11h4.8M446.88 74.71v4.8M447.47 77.31h4.8M449.87 74.91v4.8M450.47 77.49h4.8M452.87 75.09v4.8M453.46 77.64h4.8M455.86 75.24v4.8M456.46 77.76h4.8M458.86 75.36v4.8M459.46 77.87h4.8M461.86 75.47v4.8M462.46 77.96h4.8M464.86 75.56v4.8M465.46 78.04h4.8M467.86 75.64v4.8M468.45 78.12h4.8M470.85 75.72v4.8M471.45 78.2h4.8M473.85 75.8v4.8M474.45 78.27h4.8M476.85 75.87v4.8M477.45 78.34h4.8M479.85 75.94v4.8M480.45 78.4h4.8M482.85 76v4.8M483.45 78.47h4.8M485.85 76.07v4.8M486.45 78.53h4.8M488.85 76.13v4.8" stroke="#ff1010" stroke-width="0.6" fill="none"/>
<path d="M387 60.5h4M389 58.5v4M388.14 61.13h4M390.14 59.13v4M389.26 61.79h4M391.26 59.79v4M390.37 62.46h4M392.37 60.46v4M391.49 63.12h4M393.49 61.12v4M392.62 63.77h4M394.62 61.77v4M393.76 64.39h4M395.76 62.39v4M394.92 64.98h4M396.92 62.98v4M396.1 65.53h4M398.1 63.53v4M397.29 66.04h4M399.29 64.04v4M398.49 66.53h4M400.49 64.53v4M399.71 67h4M401.71 65v4M400.92 67.46h4M402.92 65.46v4M402.14 67.91h4M404.14 65.91v4M403.37 68.34h4M405.37 66.34v4M404.6 68.77h4M406.6 66.77v4M405.82 69.2h4M407.82 67.2v4M407.05 69.62h4M409.05 67.62v4M408.29 70.03h4M410.29 68.03v4M409.52 70.43h4M411.52 68.43v4M410.76 70.82h4M412.76 68.82v4M412.01 71.19h4M414.01 69.19v4M413.26 71.56h4M415.26 69.56v4M414.51 71.91h4M416.51 69.91v4M415.76 72.26h4M417.76 70.26v4M417.01 72.62h4M419.01 70.62v4M418.26 72.97h4M420.26 70.97v4M419.51 73.33h4M421.51 71.33v4M420.76 73.67h4M422.76 71.67v4M422.02 74.01h4M424.02 72.01v4M423.28 74.33h4M425.28 72.33v4M424.55 74.63h4M426.55 72.63v4M425.82 74.9h4M427.82 72.9v4M427.09 75.14h4M429.09 73.14v4M428.38 75.34h4M430.38 73.34v4M429.67 75.53h4M431.67 73.53v4M430.95 75.7h4M432.95 73.7v4M432.24 75.86h4M434.24 73.86v4M433.54 76.01h4M435.54 74.01v4M434.83 76.17h4M436.83 74.17v4M436.12 76.33h4M438.12 74.33v4M437.41 76.49h4M439.41 74.49v4M438.7 76.63h4M440.7 74.63v4" stroke="#3daa66" stroke-width="1.0" fill="none"/>
<polyline points="389,60.5 390,61.05 391.01,61.64 392.05,62.26 393.12,62.9 394.22,63.54 395.37,64.18 396.56,64.81 397.8,65.4 399.12,65.98 400.54,66.55 402.01,67.12 403.52,67.68 405.03,68.22 406.52,68.74 407.95,69.24 409.3,69.7 410.57,70.12 411.78,70.51 412.95,70.88 414.09,71.22 415.22,71.55 416.33,71.86 417.46,72.18 418.6,72.5 419.75,72.83 420.9,73.15 422.05,73.48 423.2,73.79 424.35,74.1 425.5,74.39 426.65,74.66 427.8,74.9 428.98,75.12 430.2,75.32 431.44,75.5 432.68,75.66 433.88,75.81 435.03,75.95 436.11,76.08 437.1,76.2 437.93,76.31 438.6,76.39 439.18,76.47 439.71,76.53 440.27,76.59 440.92,76.65" fill="none" stroke="#1f6b3a" stroke-width="1.0" stroke-linejoin="round" stroke-linecap="round" />
<path d="M389.11 61.58h3.6M390.91 59.78v3.6M393.6 64.2h3.6M395.4 62.4v3.6M398.32 66.38h3.6M400.12 64.58v3.6M403.19 68.21h3.6M404.99 66.41v3.6M408.11 69.9h3.6M409.91 68.1v3.6M413.07 71.45h3.6M414.87 69.65v3.6M418.08 72.86h3.6M419.88 71.06v3.6M423.09 74.23h3.6M424.89 72.43v3.6M428.18 75.28h3.6M429.98 73.48v3.6M433.34 75.96h3.6M435.14 74.16v3.6M438.5 76.59h3.6M440.3 74.79v3.6" stroke="#e03030" stroke-width="0.7" fill="none"/>
<polyline points="325.2,146.4 326.1,152.4 327.1,157 328.9,161.6 331.7,164.4 335.4,165.3 339.1,163.5 342.8,160.7 346.5,157 349.3,152.4 352.1,144.9 354.9,135.7 356.7,127.3 358.6,119 359.5,112.5 362.3,118 365.1,116.2 367.9,104.1 369.7,100.4 371.6,98.6 374.4,109.7 378.1,112.5 380,113.4 382.2,107.8 384.5,106.7 386.7,110.1 388.4,114.5 391.1,112.3 394.5,109 397.8,106.7 398.9,91.1 400.6,90.6 402.8,91.7 405.1,93.4 406.7,92.2 408.4,102.3 410.1,101.2 412.3,105.6 414.5,110.1 417.9,112.3 420.1,114.5 422.3,117.9 424.5,121.2 426.8,124.5 430.1,128.9 431.5,133.8 435.3,139.4 439,144.9 442.7,148.6 447.3,150.5 451.9,152.4 457.5,148.6 461.2,149.6 464.9,152.4 470.5,155.1 476.1,157 481.6,158.8 485.3,160.7 490.9,161.3" fill="none" stroke="#ff1010" stroke-width="0.8" stroke-linejoin="round" stroke-linecap="round" />
<circle cx="325.2" cy="146.4" r="1.9" fill="none" stroke="#ff1010" stroke-width="0.7"/>
<circle cx="325.5" cy="148.4" r="1.9" fill="none" stroke="#ff1010" stroke-width="0.7"/>
<circle cx="325.8" cy="150.4" r="1.9" fill="none" stroke="#ff1010" stroke-width="0.7"/>
<circle cx="326.1" cy="152.4" r="1.9" fill="none" stroke="#ff1010" stroke-width="0.7"/>
<circle cx="326.43" cy="153.93" r="1.9" fill="none" stroke="#ff1010" stroke-width="0.7"/>
<circle cx="326.77" cy="155.47" r="1.9" fill="none" stroke="#ff1010" stroke-width="0.7"/>
<circle cx="327.1" cy="157" r="1.9" fill="none" stroke="#ff1010" stroke-width="0.7"/>
<circle cx="327.7" cy="158.53" r="1.9" fill="none" stroke="#ff1010" stroke-width="0.7"/>
<circle cx="328.3" cy="160.07" r="1.9" fill="none" stroke="#ff1010" stroke-width="0.7"/>
<circle cx="328.9" cy="161.6" r="1.9" fill="none" stroke="#ff1010" stroke-width="0.7"/>
<circle cx="330.3" cy="163" r="1.9" fill="none" stroke="#ff1010" stroke-width="0.7"/>
<circle cx="331.7" cy="164.4" r="1.9" fill="none" stroke="#ff1010" stroke-width="0.7"/>
<circle cx="333.55" cy="164.85" r="1.9" fill="none" stroke="#ff1010" stroke-width="0.7"/>
<circle cx="335.4" cy="165.3" r="1.9" fill="none" stroke="#ff1010" stroke-width="0.7"/>
<circle cx="337.25" cy="164.4" r="1.9" fill="none" stroke="#ff1010" stroke-width="0.7"/>
<circle cx="339.1" cy="163.5" r="1.9" fill="none" stroke="#ff1010" stroke-width="0.7"/>
<circle cx="340.33" cy="162.57" r="1.9" fill="none" stroke="#ff1010" stroke-width="0.7"/>
<circle cx="341.57" cy="161.63" r="1.9" fill="none" stroke="#ff1010" stroke-width="0.7"/>
<circle cx="342.8" cy="160.7" r="1.9" fill="none" stroke="#ff1010" stroke-width="0.7"/>
<circle cx="344.03" cy="159.47" r="1.9" fill="none" stroke="#ff1010" stroke-width="0.7"/>
<circle cx="345.27" cy="158.23" r="1.9" fill="none" stroke="#ff1010" stroke-width="0.7"/>
<circle cx="346.5" cy="157" r="1.9" fill="none" stroke="#ff1010" stroke-width="0.7"/>
<circle cx="347.43" cy="155.47" r="1.9" fill="none" stroke="#ff1010" stroke-width="0.7"/>
<circle cx="348.37" cy="153.93" r="1.9" fill="none" stroke="#ff1010" stroke-width="0.7"/>
<circle cx="349.3" cy="152.4" r="1.9" fill="none" stroke="#ff1010" stroke-width="0.7"/>
<circle cx="350" cy="150.53" r="1.9" fill="none" stroke="#ff1010" stroke-width="0.7"/>
<circle cx="350.7" cy="148.65" r="1.9" fill="none" stroke="#ff1010" stroke-width="0.7"/>
<circle cx="351.4" cy="146.78" r="1.9" fill="none" stroke="#ff1010" stroke-width="0.7"/>
<circle cx="352.1" cy="144.9" r="1.9" fill="none" stroke="#ff1010" stroke-width="0.7"/>
<circle cx="354.9" cy="135.7" r="1.9" fill="none" stroke="#ff1010" stroke-width="0.7"/>
<circle cx="356.7" cy="127.3" r="1.9" fill="none" stroke="#ff1010" stroke-width="0.7"/>
<circle cx="358.6" cy="119" r="1.9" fill="none" stroke="#ff1010" stroke-width="0.7"/>
<circle cx="359.5" cy="112.5" r="1.9" fill="none" stroke="#ff1010" stroke-width="0.7"/>
<circle cx="362.3" cy="118" r="1.9" fill="none" stroke="#ff1010" stroke-width="0.7"/>
<circle cx="365.1" cy="116.2" r="1.9" fill="none" stroke="#ff1010" stroke-width="0.7"/>
<circle cx="367.9" cy="104.1" r="1.9" fill="none" stroke="#ff1010" stroke-width="0.7"/>
<circle cx="369.7" cy="100.4" r="1.9" fill="none" stroke="#ff1010" stroke-width="0.7"/>
<circle cx="371.6" cy="98.6" r="1.9" fill="none" stroke="#ff1010" stroke-width="0.7"/>
<circle cx="374.4" cy="109.7" r="1.9" fill="none" stroke="#ff1010" stroke-width="0.7"/>
<circle cx="378.1" cy="112.5" r="1.9" fill="none" stroke="#ff1010" stroke-width="0.7"/>
<circle cx="380" cy="113.4" r="1.9" fill="none" stroke="#ff1010" stroke-width="0.7"/>
<circle cx="382.2" cy="107.8" r="1.9" fill="none" stroke="#ff1010" stroke-width="0.7"/>
<circle cx="384.5" cy="106.7" r="1.9" fill="none" stroke="#ff1010" stroke-width="0.7"/>
<circle cx="386.7" cy="110.1" r="1.9" fill="none" stroke="#ff1010" stroke-width="0.7"/>
<circle cx="388.4" cy="114.5" r="1.9" fill="none" stroke="#ff1010" stroke-width="0.7"/>
<circle cx="391.1" cy="112.3" r="1.9" fill="none" stroke="#ff1010" stroke-width="0.7"/>
<circle cx="394.5" cy="109" r="1.9" fill="none" stroke="#ff1010" stroke-width="0.7"/>
<circle cx="397.8" cy="106.7" r="1.9" fill="none" stroke="#ff1010" stroke-width="0.7"/>
<circle cx="398.9" cy="91.1" r="1.9" fill="none" stroke="#ff1010" stroke-width="0.7"/>
<circle cx="400.6" cy="90.6" r="1.9" fill="none" stroke="#ff1010" stroke-width="0.7"/>
<circle cx="402.8" cy="91.7" r="1.9" fill="none" stroke="#ff1010" stroke-width="0.7"/>
<circle cx="405.1" cy="93.4" r="1.9" fill="none" stroke="#ff1010" stroke-width="0.7"/>
<circle cx="406.7" cy="92.2" r="1.9" fill="none" stroke="#ff1010" stroke-width="0.7"/>
<circle cx="407.27" cy="95.57" r="1.9" fill="none" stroke="#ff1010" stroke-width="0.7"/>
<circle cx="407.83" cy="98.93" r="1.9" fill="none" stroke="#ff1010" stroke-width="0.7"/>
<circle cx="408.4" cy="102.3" r="1.9" fill="none" stroke="#ff1010" stroke-width="0.7"/>
<circle cx="410.1" cy="101.2" r="1.9" fill="none" stroke="#ff1010" stroke-width="0.7"/>
<circle cx="411.2" cy="103.4" r="1.9" fill="none" stroke="#ff1010" stroke-width="0.7"/>
<circle cx="412.3" cy="105.6" r="1.9" fill="none" stroke="#ff1010" stroke-width="0.7"/>
<circle cx="413.4" cy="107.85" r="1.9" fill="none" stroke="#ff1010" stroke-width="0.7"/>
<circle cx="414.5" cy="110.1" r="1.9" fill="none" stroke="#ff1010" stroke-width="0.7"/>
<circle cx="417.9" cy="112.3" r="1.9" fill="none" stroke="#ff1010" stroke-width="0.7"/>
<circle cx="420.1" cy="114.5" r="1.9" fill="none" stroke="#ff1010" stroke-width="0.7"/>
<circle cx="422.3" cy="117.9" r="1.9" fill="none" stroke="#ff1010" stroke-width="0.7"/>
<circle cx="424.5" cy="121.2" r="1.9" fill="none" stroke="#ff1010" stroke-width="0.7"/>
<circle cx="426.8" cy="124.5" r="1.9" fill="none" stroke="#ff1010" stroke-width="0.7"/>
<circle cx="428.45" cy="126.7" r="1.9" fill="none" stroke="#ff1010" stroke-width="0.7"/>
<circle cx="430.1" cy="128.9" r="1.9" fill="none" stroke="#ff1010" stroke-width="0.7"/>
<circle cx="430.8" cy="131.35" r="1.9" fill="none" stroke="#ff1010" stroke-width="0.7"/>
<circle cx="431.5" cy="133.8" r="1.9" fill="none" stroke="#ff1010" stroke-width="0.7"/>
<circle cx="433.4" cy="136.6" r="1.9" fill="none" stroke="#ff1010" stroke-width="0.7"/>
<circle cx="435.3" cy="139.4" r="1.9" fill="none" stroke="#ff1010" stroke-width="0.7"/>
<circle cx="437.15" cy="142.15" r="1.9" fill="none" stroke="#ff1010" stroke-width="0.7"/>
<circle cx="439" cy="144.9" r="1.9" fill="none" stroke="#ff1010" stroke-width="0.7"/>
<circle cx="440.85" cy="146.75" r="1.9" fill="none" stroke="#ff1010" stroke-width="0.7"/>
<circle cx="442.7" cy="148.6" r="1.9" fill="none" stroke="#ff1010" stroke-width="0.7"/>
<circle cx="445" cy="149.55" r="1.9" fill="none" stroke="#ff1010" stroke-width="0.7"/>
<circle cx="447.3" cy="150.5" r="1.9" fill="none" stroke="#ff1010" stroke-width="0.7"/>
<circle cx="449.6" cy="151.45" r="1.9" fill="none" stroke="#ff1010" stroke-width="0.7"/>
<circle cx="451.9" cy="152.4" r="1.9" fill="none" stroke="#ff1010" stroke-width="0.7"/>
<circle cx="454.7" cy="150.5" r="1.9" fill="none" stroke="#ff1010" stroke-width="0.7"/>
<circle cx="457.5" cy="148.6" r="1.9" fill="none" stroke="#ff1010" stroke-width="0.7"/>
<circle cx="461.2" cy="149.6" r="1.9" fill="none" stroke="#ff1010" stroke-width="0.7"/>
<circle cx="463.05" cy="151" r="1.9" fill="none" stroke="#ff1010" stroke-width="0.7"/>
<circle cx="464.9" cy="152.4" r="1.9" fill="none" stroke="#ff1010" stroke-width="0.7"/>
<circle cx="467.7" cy="153.75" r="1.9" fill="none" stroke="#ff1010" stroke-width="0.7"/>
<circle cx="470.5" cy="155.1" r="1.9" fill="none" stroke="#ff1010" stroke-width="0.7"/>
<circle cx="473.3" cy="156.05" r="1.9" fill="none" stroke="#ff1010" stroke-width="0.7"/>
<circle cx="476.1" cy="157" r="1.9" fill="none" stroke="#ff1010" stroke-width="0.7"/>
<circle cx="478.85" cy="157.9" r="1.9" fill="none" stroke="#ff1010" stroke-width="0.7"/>
<circle cx="481.6" cy="158.8" r="1.9" fill="none" stroke="#ff1010" stroke-width="0.7"/>
<circle cx="485.3" cy="160.7" r="1.9" fill="none" stroke="#ff1010" stroke-width="0.7"/>
<circle cx="488.1" cy="161" r="1.9" fill="none" stroke="#ff1010" stroke-width="0.7"/>
<circle cx="490.9" cy="161.3" r="1.9" fill="none" stroke="#ff1010" stroke-width="0.7"/>
<polyline points="390,96.7 390.6,102.3 391.1,103.9 392.8,102.3 394.5,100 396.7,95.6 398.9,93.4 401.2,92.2 403.4,95.6 403.9,98.9 405.1,101.7 406.7,102.3 408.4,98.9 410.1,85.6 411.7,96.7 413.4,102.3 415.6,105.6 417.9,106.7 420.1,105.6 422.3,107.8 424.5,111.2 426.8,115.6 429,120.1 431.2,126.8 433.5,132 435.3,135.7 439,141.2" fill="none" stroke="#2e9a50" stroke-width="0.8" stroke-linejoin="round" stroke-linecap="round" />
<circle cx="390" cy="96.7" r="1.9" fill="none" stroke="#2e9a50" stroke-width="0.7"/>
<circle cx="390.6" cy="102.3" r="1.9" fill="none" stroke="#2e9a50" stroke-width="0.7"/>
<circle cx="391.1" cy="103.9" r="1.9" fill="none" stroke="#2e9a50" stroke-width="0.7"/>
<circle cx="392.8" cy="102.3" r="1.9" fill="none" stroke="#2e9a50" stroke-width="0.7"/>
<circle cx="394.5" cy="100" r="1.9" fill="none" stroke="#2e9a50" stroke-width="0.7"/>
<circle cx="396.7" cy="95.6" r="1.9" fill="none" stroke="#2e9a50" stroke-width="0.7"/>
<circle cx="398.9" cy="93.4" r="1.9" fill="none" stroke="#2e9a50" stroke-width="0.7"/>
<circle cx="401.2" cy="92.2" r="1.9" fill="none" stroke="#2e9a50" stroke-width="0.7"/>
<circle cx="403.4" cy="95.6" r="1.9" fill="none" stroke="#2e9a50" stroke-width="0.7"/>
<circle cx="403.9" cy="98.9" r="1.9" fill="none" stroke="#2e9a50" stroke-width="0.7"/>
<circle cx="405.1" cy="101.7" r="1.9" fill="none" stroke="#2e9a50" stroke-width="0.7"/>
<circle cx="406.7" cy="102.3" r="1.9" fill="none" stroke="#2e9a50" stroke-width="0.7"/>
<circle cx="408.4" cy="98.9" r="1.9" fill="none" stroke="#2e9a50" stroke-width="0.7"/>
<circle cx="410.1" cy="85.6" r="1.9" fill="none" stroke="#2e9a50" stroke-width="0.7"/>
<circle cx="411.7" cy="96.7" r="1.9" fill="none" stroke="#2e9a50" stroke-width="0.7"/>
<circle cx="413.4" cy="102.3" r="1.9" fill="none" stroke="#2e9a50" stroke-width="0.7"/>
<circle cx="415.6" cy="105.6" r="1.9" fill="none" stroke="#2e9a50" stroke-width="0.7"/>
<circle cx="417.9" cy="106.7" r="1.9" fill="none" stroke="#2e9a50" stroke-width="0.7"/>
<circle cx="420.1" cy="105.6" r="1.9" fill="none" stroke="#2e9a50" stroke-width="0.7"/>
<circle cx="422.3" cy="107.8" r="1.9" fill="none" stroke="#2e9a50" stroke-width="0.7"/>
<circle cx="424.5" cy="111.2" r="1.9" fill="none" stroke="#2e9a50" stroke-width="0.7"/>
<circle cx="426.8" cy="115.6" r="1.9" fill="none" stroke="#2e9a50" stroke-width="0.7"/>
<circle cx="429" cy="120.1" r="1.9" fill="none" stroke="#2e9a50" stroke-width="0.7"/>
<circle cx="431.2" cy="126.8" r="1.9" fill="none" stroke="#2e9a50" stroke-width="0.7"/>
<circle cx="433.5" cy="132" r="1.9" fill="none" stroke="#2e9a50" stroke-width="0.7"/>
<circle cx="435.3" cy="135.7" r="1.9" fill="none" stroke="#2e9a50" stroke-width="0.7"/>
<circle cx="439" cy="141.2" r="1.9" fill="none" stroke="#2e9a50" stroke-width="0.7"/>
<line x1="47.9" y1="211.5" x2="48.16" y2="211.43" stroke="#ff1010" stroke-width="4.2" stroke-linecap="round"/>
<line x1="48.16" y1="211.43" x2="48.49" y2="211.33" stroke="#ff1010" stroke-width="4.2" stroke-linecap="round"/>
<line x1="48.49" y1="211.33" x2="48.89" y2="211.21" stroke="#ff1010" stroke-width="4.2" stroke-linecap="round"/>
<line x1="48.89" y1="211.21" x2="49.34" y2="211.07" stroke="#ff1010" stroke-width="4.2" stroke-linecap="round"/>
<line x1="49.34" y1="211.07" x2="49.82" y2="210.95" stroke="#ff1010" stroke-width="4.2" stroke-linecap="round"/>
<line x1="49.82" y1="210.95" x2="50.31" y2="210.86" stroke="#ff1010" stroke-width="4.2" stroke-linecap="round"/>
<line x1="50.31" y1="210.86" x2="50.81" y2="210.8" stroke="#ff1010" stroke-width="4.2" stroke-linecap="round"/>
<line x1="50.81" y1="210.8" x2="51.3" y2="210.8" stroke="#ff1010" stroke-width="4.2" stroke-linecap="round"/>
<line x1="51.3" y1="210.8" x2="51.79" y2="210.85" stroke="#ff1010" stroke-width="4.2" stroke-linecap="round"/>
<line x1="51.79" y1="210.85" x2="52.29" y2="210.92" stroke="#ff1010" stroke-width="4.2" stroke-linecap="round"/>
<line x1="52.29" y1="210.92" x2="52.82" y2="211.03" stroke="#ff1010" stroke-width="4.2" stroke-linecap="round"/>
<line x1="52.82" y1="211.03" x2="53.35" y2="211.17" stroke="#ff1010" stroke-width="4.2" stroke-linecap="round"/>
<line x1="53.35" y1="211.17" x2="53.89" y2="211.33" stroke="#ff1010" stroke-width="4.2" stroke-linecap="round"/>
<line x1="53.89" y1="211.33" x2="54.43" y2="211.53" stroke="#ff1010" stroke-width="4.2" stroke-linecap="round"/>
<line x1="54.43" y1="211.53" x2="54.97" y2="211.75" stroke="#ff1010" stroke-width="4.2" stroke-linecap="round"/>
<line x1="54.97" y1="211.75" x2="55.5" y2="212" stroke="#ff1010" stroke-width="4.2" stroke-linecap="round"/>
<line x1="55.5" y1="212" x2="56.03" y2="212.28" stroke="#ff1010" stroke-width="4.2" stroke-linecap="round"/>
<line x1="56.03" y1="212.28" x2="56.57" y2="212.6" stroke="#ff1010" stroke-width="4.2" stroke-linecap="round"/>
<line x1="56.57" y1="212.6" x2="57.11" y2="212.94" stroke="#ff1010" stroke-width="4.2" stroke-linecap="round"/>
<line x1="57.11" y1="212.94" x2="57.66" y2="213.31" stroke="#ff1010" stroke-width="4.2" stroke-linecap="round"/>
<line x1="57.66" y1="213.31" x2="58.19" y2="213.71" stroke="#ff1010" stroke-width="4.2" stroke-linecap="round"/>
<line x1="58.19" y1="213.71" x2="58.71" y2="214.12" stroke="#ff1010" stroke-width="4.2" stroke-linecap="round"/>
<line x1="58.71" y1="214.12" x2="59.22" y2="214.56" stroke="#ff1010" stroke-width="4.2" stroke-linecap="round"/>
<line x1="59.22" y1="214.56" x2="59.7" y2="215" stroke="#ff1010" stroke-width="4.2" stroke-linecap="round"/>
<line x1="59.7" y1="215" x2="60.15" y2="215.46" stroke="#ff1010" stroke-width="4.11" stroke-linecap="round"/>
<line x1="60.15" y1="215.46" x2="60.59" y2="215.95" stroke="#ff1010" stroke-width="4" stroke-linecap="round"/>
<line x1="60.59" y1="215.95" x2="61" y2="216.45" stroke="#ff1010" stroke-width="3.9" stroke-linecap="round"/>
<line x1="61" y1="216.45" x2="61.4" y2="216.97" stroke="#ff1010" stroke-width="3.81" stroke-linecap="round"/>
<line x1="61.4" y1="216.97" x2="61.79" y2="217.51" stroke="#ff1010" stroke-width="3.72" stroke-linecap="round"/>
<line x1="61.79" y1="217.51" x2="62.19" y2="218.07" stroke="#ff1010" stroke-width="3.63" stroke-linecap="round"/>
<line x1="62.19" y1="218.07" x2="62.59" y2="218.63" stroke="#ff1010" stroke-width="3.54" stroke-linecap="round"/>
<line x1="62.59" y1="218.63" x2="63" y2="219.2" stroke="#ff1010" stroke-width="3.45" stroke-linecap="round"/>
<line x1="63" y1="219.2" x2="63.42" y2="219.78" stroke="#ff1010" stroke-width="3.35" stroke-linecap="round"/>
<line x1="63.42" y1="219.78" x2="63.85" y2="220.38" stroke="#ff1010" stroke-width="3.26" stroke-linecap="round"/>
<line x1="63.85" y1="220.38" x2="64.27" y2="220.98" stroke="#ff1010" stroke-width="3.16" stroke-linecap="round"/>
<line x1="64.27" y1="220.98" x2="64.7" y2="221.6" stroke="#ff1010" stroke-width="3.06" stroke-linecap="round"/>
<line x1="64.7" y1="221.6" x2="65.13" y2="222.23" stroke="#ff1010" stroke-width="2.96" stroke-linecap="round"/>
<line x1="65.13" y1="222.23" x2="65.55" y2="222.87" stroke="#ff1010" stroke-width="2.87" stroke-linecap="round"/>
<line x1="65.55" y1="222.87" x2="65.98" y2="223.53" stroke="#ff1010" stroke-width="2.77" stroke-linecap="round"/>
<line x1="65.98" y1="223.53" x2="66.4" y2="224.2" stroke="#ff1010" stroke-width="2.67" stroke-linecap="round"/>
<line x1="66.4" y1="224.2" x2="66.82" y2="224.88" stroke="#ff1010" stroke-width="2.57" stroke-linecap="round"/>
<line x1="66.82" y1="224.88" x2="67.25" y2="225.57" stroke="#ff1010" stroke-width="2.48" stroke-linecap="round"/>
<line x1="67.25" y1="225.57" x2="67.68" y2="226.28" stroke="#ff1010" stroke-width="2.38" stroke-linecap="round"/>
<line x1="67.68" y1="226.28" x2="68.11" y2="226.99" stroke="#ff1010" stroke-width="2.28" stroke-linecap="round"/>
<line x1="68.11" y1="226.99" x2="68.53" y2="227.72" stroke="#ff1010" stroke-width="2.18" stroke-linecap="round"/>
<line x1="68.53" y1="227.72" x2="68.93" y2="228.47" stroke="#ff1010" stroke-width="2.09" stroke-linecap="round"/>
<line x1="68.93" y1="228.47" x2="69.33" y2="229.23" stroke="#ff1010" stroke-width="2" stroke-linecap="round"/>
<line x1="69.33" y1="229.23" x2="69.7" y2="230" stroke="#ff1010" stroke-width="1.91" stroke-linecap="round"/>
<line x1="69.7" y1="230" x2="70.06" y2="230.81" stroke="#ff1010" stroke-width="1.82" stroke-linecap="round"/>
<line x1="70.06" y1="230.81" x2="70.42" y2="231.68" stroke="#ff1010" stroke-width="1.74" stroke-linecap="round"/>
<line x1="70.42" y1="231.68" x2="70.77" y2="232.57" stroke="#ff1010" stroke-width="1.66" stroke-linecap="round"/>
<line x1="70.77" y1="232.57" x2="71.11" y2="233.47" stroke="#ff1010" stroke-width="1.58" stroke-linecap="round"/>
<line x1="71.11" y1="233.47" x2="71.42" y2="234.36" stroke="#ff1010" stroke-width="1.5" stroke-linecap="round"/>
<line x1="71.42" y1="234.36" x2="71.71" y2="235.21" stroke="#ff1010" stroke-width="1.43" stroke-linecap="round"/>
<line x1="71.71" y1="235.21" x2="71.97" y2="236" stroke="#ff1010" stroke-width="1.36" stroke-linecap="round"/>
<line x1="71.97" y1="236" x2="72.2" y2="236.7" stroke="#ff1010" stroke-width="1.3" stroke-linecap="round"/>
<line x1="72.2" y1="236.7" x2="72.36" y2="237.34" stroke="#ff1010" stroke-width="1.25" stroke-linecap="round"/>
<line x1="72.36" y1="237.34" x2="72.46" y2="237.93" stroke="#ff1010" stroke-width="1.21" stroke-linecap="round"/>
<line x1="72.46" y1="237.93" x2="72.51" y2="238.49" stroke="#ff1010" stroke-width="1.19" stroke-linecap="round"/>
<line x1="72.51" y1="238.49" x2="72.54" y2="238.99" stroke="#ff1010" stroke-width="1.18" stroke-linecap="round"/>
<line x1="72.54" y1="238.99" x2="72.58" y2="239.45" stroke="#ff1010" stroke-width="1.17" stroke-linecap="round"/>
<line x1="72.58" y1="239.45" x2="72.66" y2="239.86" stroke="#ff1010" stroke-width="1.16" stroke-linecap="round"/>
<line x1="72.66" y1="239.86" x2="72.79" y2="240.21" stroke="#ff1010" stroke-width="1.14" stroke-linecap="round"/>
<line x1="72.79" y1="240.21" x2="73" y2="240.5" stroke="#ff1010" stroke-width="1.11" stroke-linecap="round"/>
<line x1="73" y1="240.5" x2="73.29" y2="240.69" stroke="#ff1010" stroke-width="1.07" stroke-linecap="round"/>
<path d="M45.55 211.5h4.7M47.9 209.15v4.7M46.7 211.16h4.7M49.05 208.81v4.7M47.87 210.88h4.7M50.22 208.53v4.7M49.06 210.81h4.7M51.41 208.46v4.7M50.25 210.99h4.7M52.6 208.64v4.7M51.41 211.29h4.7M53.76 208.94v4.7M52.53 211.71h4.7M54.88 209.36v4.7M53.61 212.24h4.7M55.96 209.89v4.7M54.64 212.86h4.7M56.99 210.51v4.7M55.62 213.54h4.7M57.97 211.19v4.7M56.56 214.29h4.7M58.91 211.94v4.7M57.45 215.1h4.7M59.8 212.75v4.7M58.26 215.98h4.7M60.61 213.63v4.7M59.01 216.92h4.7M61.36 214.57v4.7M59.71 217.89h4.7M62.06 215.54v4.7M60.41 218.87h4.7M62.76 216.52v4.7M61.11 219.84h4.7M63.46 217.49v4.7M61.81 220.82h4.7M64.16 218.47v4.7M62.49 221.8h4.7M64.84 219.45v4.7M63.16 222.8h4.7M65.51 220.45v4.7M63.8 223.81h4.7M66.15 221.46v4.7M64.44 224.83h4.7M66.79 222.48v4.7M65.07 225.85h4.7M67.42 223.5v4.7M65.69 226.88h4.7M68.04 224.53v4.7M66.28 227.92h4.7M68.63 225.57v4.7M66.85 228.98h4.7M69.2 226.63v4.7M67.38 230.06h4.7M69.73 227.71v4.7M67.85 231.16h4.7M70.2 228.81v4.7M68.3 232.27h4.7M70.65 229.92v4.7M68.73 233.39h4.7M71.08 231.04v4.7M69.13 234.52h4.7M71.48 232.17v4.7M69.51 235.66h4.7M71.86 233.31v4.7M69.88 236.8h4.7M72.23 234.45v4.7M70.11 237.98h4.7M72.46 235.63v4.7M70.21 239.17h4.7M72.56 236.82v4.7M70.52 240.32h4.7M72.87 237.97v4.7" stroke="#ff1010" stroke-width="0.6" fill="none"/>
<polyline points="47.9,211.5 48.16,211.43 48.49,211.33 48.89,211.21 49.34,211.07 49.82,210.95 50.31,210.86 50.81,210.8 51.3,210.8 51.79,210.85 52.29,210.92 52.82,211.03 53.35,211.17 53.89,211.33 54.43,211.53 54.97,211.75 55.5,212 56.03,212.28 56.57,212.6 57.11,212.94 57.66,213.31 58.19,213.71 58.71,214.12 59.22,214.56 59.7,215 60.15,215.46 60.59,215.95 61,216.45 61.4,216.97 61.79,217.51 62.19,218.07 62.59,218.63 63,219.2 63.42,219.78 63.85,220.38 64.27,220.98 64.7,221.6 65.13,222.23 65.55,222.87 65.98,223.53 66.4,224.2 66.82,224.88 67.25,225.57 67.68,226.28 68.11,226.99 68.53,227.72 68.93,228.47 69.33,229.23 69.7,230 70.06,230.81 70.42,231.68 70.77,232.57 71.11,233.47 71.42,234.36 71.71,235.21 71.97,236 72.2,236.7 72.36,237.34 72.46,237.93 72.51,238.49 72.54,238.99 72.58,239.45 72.66,239.86 72.79,240.21 73,240.5 73.29,240.69 73.63,240.75 74.01,240.73 74.44,240.68 74.89,240.62 75.38,240.61 75.88,240.69 76.4,240.9 76.94,241.23 77.5,241.65 78.08,242.13 78.69,242.66 79.33,243.24 79.99,243.85 80.68,244.47 81.4,245.1 82.16,245.74 82.96,246.4 83.79,247.08 84.64,247.79 85.51,248.53 86.39,249.29 87.25,250.08 88.1,250.9 88.94,251.76 89.78,252.66 90.62,253.59 91.46,254.54 92.29,255.51 93.13,256.49 93.97,257.45 94.8,258.4 95.62,259.34 96.41,260.27 97.2,261.21 97.99,262.15 98.8,263.09 99.63,264.02 100.49,264.96 101.4,265.9 102.36,266.84 103.38,267.79 104.42,268.75 105.49,269.7 106.58,270.65 107.66,271.58 108.74,272.5 109.8,273.4 110.82,274.27 111.8,275.1 112.76,275.91 113.73,276.71 114.73,277.52 115.77,278.35 116.89,279.2 118.1,280.1 119.41,281.05 120.8,282.05 122.26,283.08 123.77,284.12 125.31,285.17 126.88,286.21 128.44,287.23 130,288.2 131.56,289.14 133.14,290.06 134.74,290.97 136.35,291.86 137.97,292.73 139.59,293.6 141.2,294.45 142.8,295.3 144.44,296.17 146.16,297.07 147.9,297.98 149.63,298.86 151.3,299.7 152.86,300.48 154.28,301.15 155.5,301.7 156.48,302.06 157.25,302.23 157.85,302.28 158.36,302.27 158.83,302.27 159.32,302.34 159.89,302.57 160.6,303 161.44,303.67 162.34,304.54 163.3,305.53 164.29,306.61 165.3,307.72 166.31,308.81 167.32,309.82 168.3,310.7 169.26,311.48 170.23,312.22 171.19,312.92 172.16,313.57 173.12,314.19 174.08,314.77 175.04,315.3 176,315.8 176.95,316.22 177.9,316.55 178.85,316.81 179.8,317.05 180.75,317.29 181.7,317.55 182.65,317.88 183.6,318.3 184.56,318.81 185.52,319.39 186.48,320.02 187.45,320.69 188.42,321.37 189.38,322.06 190.34,322.74 191.3,323.4 192.25,324.01 193.2,324.58 194.15,325.14 195.1,325.71 196.05,326.3 197,326.95 197.95,327.68 198.9,328.5 199.86,329.46 200.82,330.54 201.78,331.7 202.74,332.92 203.71,334.14 204.67,335.34 205.64,336.47 206.6,337.5 207.58,338.47 208.59,339.43 209.6,340.37 210.61,341.26 211.6,342.08 212.56,342.81 213.46,343.42 214.3,343.9 215.1,344.21 215.88,344.35 216.63,344.37 217.33,344.3 217.98,344.18 218.54,344.05 219.02,343.94 219.4,343.9" fill="none" stroke="#ff1010" stroke-width="1.0" stroke-linejoin="round" stroke-linecap="round" />
<path d="M45.5 211.5h4.8M47.9 209.1v4.8M48.41 210.8h4.8M50.81 208.4v4.8M51.36 211.29h4.8M53.76 208.89v4.8M54.08 212.54h4.8M56.48 210.14v4.8M56.51 214.29h4.8M58.91 211.89v4.8M58.59 216.44h4.8M60.99 214.04v4.8M60.36 218.87h4.8M62.76 216.47v4.8M62.1 221.31h4.8M64.5 218.91v4.8M63.75 223.81h4.8M66.15 221.41v4.8M65.33 226.36h4.8M67.73 223.96v4.8M66.8 228.98h4.8M69.2 226.58v4.8M68.03 231.71h4.8M70.43 229.31v4.8M69.08 234.52h4.8M71.48 232.12v4.8M69.97 237.39h4.8M72.37 234.99v4.8M70.47 240.32h4.8M72.87 237.92v4.8M73.3 240.66h4.8M75.7 238.26v4.8M75.81 242.24h4.8M78.21 239.84v4.8M78.04 244.25h4.8M80.44 241.85v4.8M80.32 246.2h4.8M82.72 243.8v4.8M82.63 248.12h4.8M85.03 245.72v4.8M84.87 250.11h4.8M87.27 247.71v4.8M86.99 252.24h4.8M89.39 249.84v4.8M88.99 254.47h4.8M91.39 252.07v4.8M90.95 256.74h4.8M93.35 254.34v4.8M92.92 259h4.8M95.32 256.6v4.8M94.87 261.29h4.8M97.27 258.89v4.8M96.82 263.56h4.8M99.22 261.16v4.8M98.86 265.76h4.8M101.26 263.36v4.8M101.02 267.84h4.8M103.42 265.44v4.8M103.26 269.84h4.8M105.66 267.44v4.8M105.53 271.8h4.8M107.93 269.4v4.8M107.81 273.75h4.8M110.21 271.35v4.8M110.1 275.69h4.8M112.5 273.29v4.8M112.42 277.59h4.8M114.82 275.19v4.8M114.79 279.42h4.8M117.19 277.02v4.8M117.21 281.2h4.8M119.61 278.8v4.8M119.66 282.94h4.8M122.06 280.54v4.8M122.13 284.64h4.8M124.53 282.24v4.8M124.62 286.31h4.8M127.02 283.91v4.8M127.15 287.92h4.8M129.55 285.52v4.8M129.72 289.47h4.8M132.12 287.07v4.8M132.32 290.96h4.8M134.72 288.56v4.8M134.95 292.4h4.8M137.35 290v4.8M137.6 293.82h4.8M140 291.42v4.8M140.25 295.22h4.8M142.65 292.82v4.8M142.9 296.62h4.8M145.3 294.22v4.8M145.56 298.01h4.8M147.96 295.61v4.8M148.24 299.37h4.8M150.64 296.97v4.8M150.93 300.7h4.8M153.33 298.3v4.8M153.67 301.91h4.8M156.07 299.51v4.8M156.62 302.3h4.8M159.02 299.9v4.8M159.16 303.79h4.8M161.56 301.39v4.8M161.27 305.93h4.8M163.67 303.53v4.8M163.29 308.15h4.8M165.69 305.75v4.8M165.42 310.26h4.8M167.82 307.86v4.8M167.74 312.15h4.8M170.14 309.75v4.8M170.21 313.86h4.8M172.61 311.46v4.8M172.79 315.38h4.8M175.19 312.98v4.8M175.55 316.56h4.8M177.95 314.16v4.8M178.45 317.32h4.8M180.85 314.92v4.8M181.27 318.34h4.8M183.67 315.94v4.8M183.84 319.87h4.8M186.24 317.47v4.8M186.31 321.58h4.8M188.71 319.18v4.8M188.76 323.3h4.8M191.16 320.9v4.8M191.31 324.88h4.8M193.71 322.48v4.8M193.87 326.45h4.8M196.27 324.05v4.8M196.24 328.28h4.8M198.64 325.88v4.8M198.33 330.43h4.8M200.73 328.03v4.8M200.22 332.76h4.8M202.62 330.36v4.8M202.09 335.11h4.8M204.49 332.71v4.8M204.07 337.36h4.8M206.47 334.96v4.8M206.21 339.46h4.8M208.61 337.06v4.8M208.45 341.46h4.8M210.85 339.06v4.8M210.84 343.27h4.8M213.24 340.87v4.8M213.59 344.35h4.8M215.99 341.95v4.8M216.55 343.96h4.8M218.95 341.56v4.8" stroke="#ff1010" stroke-width="0.6" fill="none"/>
<polyline points="214.3,343.9 219.4,343.9 216.8,346.9 216.8,350.2 221.9,352.8" fill="none" stroke="#ff1010" stroke-width="1.0" stroke-linejoin="round" stroke-linecap="round" />
<path d="M217.7 343.9h3.4M219.4 342.2v3.4M215.1 346.9h3.4M216.8 345.2v3.4M215.1 350.2h3.4M216.8 348.5v3.4M220.2 352.8h3.4M221.9 351.1v3.4" stroke="#ff1010" stroke-width="0.7" fill="none"/>
<circle cx="218.9" cy="316.5" r="2.0" fill="none" stroke="#ff1010" stroke-width="0.8"/>
<polyline points="48.6,368.3 50.4,364 52.3,360.3 55.1,359 57.8,360.3 60.6,362.2 63.4,364 67.1,364 70.8,362.2 74.5,360.3 78.3,357.5 82,354.7 85.7,348.2 89.4,340.8 93.1,331.5 95.9,326.9 98.7,322.3 100.3,314.2 102.4,321.3 107,325 111.6,328.8 115.4,337.1 119.1,339.9 124.6,341.7 130.2,338 135.8,341.7 140.2,340 145.3,340 149.2,338 154.3,336.7" fill="none" stroke="#ff1010" stroke-width="0.8" stroke-linejoin="round" stroke-linecap="round" />
<circle cx="48.6" cy="368.3" r="1.9" fill="none" stroke="#ff1010" stroke-width="0.7"/>
<circle cx="49.2" cy="366.87" r="1.9" fill="none" stroke="#ff1010" stroke-width="0.7"/>
<circle cx="49.8" cy="365.43" r="1.9" fill="none" stroke="#ff1010" stroke-width="0.7"/>
<circle cx="50.4" cy="364" r="1.9" fill="none" stroke="#ff1010" stroke-width="0.7"/>
<circle cx="51.03" cy="362.77" r="1.9" fill="none" stroke="#ff1010" stroke-width="0.7"/>
<circle cx="51.67" cy="361.53" r="1.9" fill="none" stroke="#ff1010" stroke-width="0.7"/>
<circle cx="52.3" cy="360.3" r="1.9" fill="none" stroke="#ff1010" stroke-width="0.7"/>
<circle cx="53.7" cy="359.65" r="1.9" fill="none" stroke="#ff1010" stroke-width="0.7"/>
<circle cx="55.1" cy="359" r="1.9" fill="none" stroke="#ff1010" stroke-width="0.7"/>
<circle cx="56.45" cy="359.65" r="1.9" fill="none" stroke="#ff1010" stroke-width="0.7"/>
<circle cx="57.8" cy="360.3" r="1.9" fill="none" stroke="#ff1010" stroke-width="0.7"/>
<circle cx="59.2" cy="361.25" r="1.9" fill="none" stroke="#ff1010" stroke-width="0.7"/>
<circle cx="60.6" cy="362.2" r="1.9" fill="none" stroke="#ff1010" stroke-width="0.7"/>
<circle cx="62" cy="363.1" r="1.9" fill="none" stroke="#ff1010" stroke-width="0.7"/>
<circle cx="63.4" cy="364" r="1.9" fill="none" stroke="#ff1010" stroke-width="0.7"/>
<circle cx="65.25" cy="364" r="1.9" fill="none" stroke="#ff1010" stroke-width="0.7"/>
<circle cx="67.1" cy="364" r="1.9" fill="none" stroke="#ff1010" stroke-width="0.7"/>
<circle cx="68.33" cy="363.4" r="1.9" fill="none" stroke="#ff1010" stroke-width="0.7"/>
<circle cx="69.57" cy="362.8" r="1.9" fill="none" stroke="#ff1010" stroke-width="0.7"/>
<circle cx="70.8" cy="362.2" r="1.9" fill="none" stroke="#ff1010" stroke-width="0.7"/>
<circle cx="72.03" cy="361.57" r="1.9" fill="none" stroke="#ff1010" stroke-width="0.7"/>
<circle cx="73.27" cy="360.93" r="1.9" fill="none" stroke="#ff1010" stroke-width="0.7"/>
<circle cx="74.5" cy="360.3" r="1.9" fill="none" stroke="#ff1010" stroke-width="0.7"/>
<circle cx="75.77" cy="359.37" r="1.9" fill="none" stroke="#ff1010" stroke-width="0.7"/>
<circle cx="77.03" cy="358.43" r="1.9" fill="none" stroke="#ff1010" stroke-width="0.7"/>
<circle cx="78.3" cy="357.5" r="1.9" fill="none" stroke="#ff1010" stroke-width="0.7"/>
<circle cx="79.53" cy="356.57" r="1.9" fill="none" stroke="#ff1010" stroke-width="0.7"/>
<circle cx="80.77" cy="355.63" r="1.9" fill="none" stroke="#ff1010" stroke-width="0.7"/>
<circle cx="82" cy="354.7" r="1.9" fill="none" stroke="#ff1010" stroke-width="0.7"/>
<circle cx="82.92" cy="353.07" r="1.9" fill="none" stroke="#ff1010" stroke-width="0.7"/>
<circle cx="83.85" cy="351.45" r="1.9" fill="none" stroke="#ff1010" stroke-width="0.7"/>
<circle cx="84.78" cy="349.82" r="1.9" fill="none" stroke="#ff1010" stroke-width="0.7"/>
<circle cx="85.7" cy="348.2" r="1.9" fill="none" stroke="#ff1010" stroke-width="0.7"/>
<circle cx="87.55" cy="344.5" r="1.9" fill="none" stroke="#ff1010" stroke-width="0.7"/>
<circle cx="89.4" cy="340.8" r="1.9" fill="none" stroke="#ff1010" stroke-width="0.7"/>
<circle cx="91.25" cy="336.15" r="1.9" fill="none" stroke="#ff1010" stroke-width="0.7"/>
<circle cx="93.1" cy="331.5" r="1.9" fill="none" stroke="#ff1010" stroke-width="0.7"/>
<circle cx="95.9" cy="326.9" r="1.9" fill="none" stroke="#ff1010" stroke-width="0.7"/>
<circle cx="98.7" cy="322.3" r="1.9" fill="none" stroke="#ff1010" stroke-width="0.7"/>
<circle cx="99.5" cy="318.25" r="1.9" fill="none" stroke="#ff1010" stroke-width="0.7"/>
<circle cx="100.3" cy="314.2" r="1.9" fill="none" stroke="#ff1010" stroke-width="0.7"/>
<circle cx="101.35" cy="317.75" r="1.9" fill="none" stroke="#ff1010" stroke-width="0.7"/>
<circle cx="102.4" cy="321.3" r="1.9" fill="none" stroke="#ff1010" stroke-width="0.7"/>
<circle cx="107" cy="325" r="1.9" fill="none" stroke="#ff1010" stroke-width="0.7"/>
<circle cx="111.6" cy="328.8" r="1.9" fill="none" stroke="#ff1010" stroke-width="0.7"/>
<circle cx="113.5" cy="332.95" r="1.9" fill="none" stroke="#ff1010" stroke-width="0.7"/>
<circle cx="115.4" cy="337.1" r="1.9" fill="none" stroke="#ff1010" stroke-width="0.7"/>
<circle cx="119.1" cy="339.9" r="1.9" fill="none" stroke="#ff1010" stroke-width="0.7"/>
<circle cx="124.6" cy="341.7" r="1.9" fill="none" stroke="#ff1010" stroke-width="0.7"/>
<circle cx="127.4" cy="339.85" r="1.9" fill="none" stroke="#ff1010" stroke-width="0.7"/>
<circle cx="130.2" cy="338" r="1.9" fill="none" stroke="#ff1010" stroke-width="0.7"/>
<circle cx="133" cy="339.85" r="1.9" fill="none" stroke="#ff1010" stroke-width="0.7"/>
<circle cx="135.8" cy="341.7" r="1.9" fill="none" stroke="#ff1010" stroke-width="0.7"/>
<circle cx="140.2" cy="340" r="1.9" fill="none" stroke="#ff1010" stroke-width="0.7"/>
<circle cx="145.3" cy="340" r="1.9" fill="none" stroke="#ff1010" stroke-width="0.7"/>
<circle cx="149.2" cy="338" r="1.9" fill="none" stroke="#ff1010" stroke-width="0.7"/>
<circle cx="154.3" cy="336.7" r="1.9" fill="none" stroke="#ff1010" stroke-width="0.7"/>
<line x1="324.3" y1="208.3" x2="324.72" y2="208.54" stroke="#ff1010" stroke-width="2.8" stroke-linecap="round"/>
<line x1="324.72" y1="208.54" x2="325.29" y2="208.84" stroke="#ff1010" stroke-width="2.8" stroke-linecap="round"/>
<line x1="325.29" y1="208.84" x2="325.96" y2="209.2" stroke="#ff1010" stroke-width="2.8" stroke-linecap="round"/>
<line x1="325.96" y1="209.2" x2="326.7" y2="209.61" stroke="#ff1010" stroke-width="2.8" stroke-linecap="round"/>
<line x1="326.7" y1="209.61" x2="327.49" y2="210.06" stroke="#ff1010" stroke-width="2.8" stroke-linecap="round"/>
<line x1="327.49" y1="210.06" x2="328.29" y2="210.53" stroke="#ff1010" stroke-width="2.8" stroke-linecap="round"/>
<line x1="328.29" y1="210.53" x2="329.07" y2="211.01" stroke="#ff1010" stroke-width="2.8" stroke-linecap="round"/>
<line x1="329.07" y1="211.01" x2="329.8" y2="211.5" stroke="#ff1010" stroke-width="2.8" stroke-linecap="round"/>
<line x1="329.8" y1="211.5" x2="330.5" y2="211.99" stroke="#ff1010" stroke-width="2.8" stroke-linecap="round"/>
<line x1="330.5" y1="211.99" x2="331.22" y2="212.48" stroke="#ff1010" stroke-width="2.8" stroke-linecap="round"/>
<line x1="331.22" y1="212.48" x2="331.94" y2="213" stroke="#ff1010" stroke-width="2.8" stroke-linecap="round"/>
<line x1="331.94" y1="213" x2="332.66" y2="213.53" stroke="#ff1010" stroke-width="2.8" stroke-linecap="round"/>
<line x1="332.66" y1="213.53" x2="333.37" y2="214.1" stroke="#ff1010" stroke-width="2.8" stroke-linecap="round"/>
<line x1="333.37" y1="214.1" x2="334.07" y2="214.71" stroke="#ff1010" stroke-width="2.8" stroke-linecap="round"/>
<line x1="334.07" y1="214.71" x2="334.75" y2="215.38" stroke="#ff1010" stroke-width="2.8" stroke-linecap="round"/>
<line x1="334.75" y1="215.38" x2="335.4" y2="216.1" stroke="#ff1010" stroke-width="2.8" stroke-linecap="round"/>
<line x1="335.4" y1="216.1" x2="336.04" y2="216.92" stroke="#ff1010" stroke-width="2.8" stroke-linecap="round"/>
<line x1="336.04" y1="216.92" x2="336.66" y2="217.86" stroke="#ff1010" stroke-width="2.8" stroke-linecap="round"/>
<line x1="336.66" y1="217.86" x2="337.28" y2="218.87" stroke="#ff1010" stroke-width="2.8" stroke-linecap="round"/>
<line x1="337.28" y1="218.87" x2="337.88" y2="219.91" stroke="#ff1010" stroke-width="2.8" stroke-linecap="round"/>
<line x1="337.88" y1="219.91" x2="338.45" y2="220.94" stroke="#ff1010" stroke-width="2.8" stroke-linecap="round"/>
<line x1="338.45" y1="220.94" x2="339" y2="221.92" stroke="#ff1010" stroke-width="2.8" stroke-linecap="round"/>
<line x1="339" y1="221.92" x2="339.52" y2="222.82" stroke="#ff1010" stroke-width="2.8" stroke-linecap="round"/>
<line x1="339.52" y1="222.82" x2="340" y2="223.6" stroke="#ff1010" stroke-width="2.8" stroke-linecap="round"/>
<line x1="340" y1="223.6" x2="340.42" y2="224.23" stroke="#ff1010" stroke-width="2.8" stroke-linecap="round"/>
<line x1="340.42" y1="224.23" x2="340.76" y2="224.75" stroke="#ff1010" stroke-width="2.8" stroke-linecap="round"/>
<line x1="340.76" y1="224.75" x2="341.06" y2="225.19" stroke="#ff1010" stroke-width="2.8" stroke-linecap="round"/>
<line x1="341.06" y1="225.19" x2="341.34" y2="225.58" stroke="#ff1010" stroke-width="2.8" stroke-linecap="round"/>
<line x1="341.34" y1="225.58" x2="341.62" y2="225.95" stroke="#ff1010" stroke-width="2.8" stroke-linecap="round"/>
<line x1="341.62" y1="225.95" x2="341.95" y2="226.34" stroke="#ff1010" stroke-width="2.8" stroke-linecap="round"/>
<line x1="341.95" y1="226.34" x2="342.33" y2="226.78" stroke="#ff1010" stroke-width="2.8" stroke-linecap="round"/>
<line x1="342.33" y1="226.78" x2="342.8" y2="227.3" stroke="#ff1010" stroke-width="2.8" stroke-linecap="round"/>
<line x1="342.8" y1="227.3" x2="343.37" y2="227.89" stroke="#ff1010" stroke-width="2.8" stroke-linecap="round"/>
<line x1="343.37" y1="227.89" x2="344" y2="228.53" stroke="#ff1010" stroke-width="2.8" stroke-linecap="round"/>
<line x1="344" y1="228.53" x2="344.69" y2="229.19" stroke="#ff1010" stroke-width="2.8" stroke-linecap="round"/>
<line x1="344.69" y1="229.19" x2="345.42" y2="229.88" stroke="#ff1010" stroke-width="2.8" stroke-linecap="round"/>
<line x1="345.42" y1="229.88" x2="346.18" y2="230.59" stroke="#ff1010" stroke-width="2.8" stroke-linecap="round"/>
<line x1="346.18" y1="230.59" x2="346.93" y2="231.31" stroke="#ff1010" stroke-width="2.8" stroke-linecap="round"/>
<line x1="346.93" y1="231.31" x2="347.68" y2="232.05" stroke="#ff1010" stroke-width="2.8" stroke-linecap="round"/>
<line x1="347.68" y1="232.05" x2="348.4" y2="232.8" stroke="#ff1010" stroke-width="2.8" stroke-linecap="round"/>
<line x1="348.4" y1="232.8" x2="349.09" y2="233.55" stroke="#ff1010" stroke-width="2.8" stroke-linecap="round"/>
<line x1="349.09" y1="233.55" x2="349.78" y2="234.31" stroke="#ff1010" stroke-width="2.8" stroke-linecap="round"/>
<line x1="349.78" y1="234.31" x2="350.46" y2="235.08" stroke="#ff1010" stroke-width="2.8" stroke-linecap="round"/>
<line x1="350.46" y1="235.08" x2="351.14" y2="235.87" stroke="#ff1010" stroke-width="2.8" stroke-linecap="round"/>
<line x1="351.14" y1="235.87" x2="351.83" y2="236.68" stroke="#ff1010" stroke-width="2.8" stroke-linecap="round"/>
<line x1="351.83" y1="236.68" x2="352.54" y2="237.52" stroke="#ff1010" stroke-width="2.8" stroke-linecap="round"/>
<line x1="352.54" y1="237.52" x2="353.26" y2="238.39" stroke="#ff1010" stroke-width="2.8" stroke-linecap="round"/>
<line x1="353.26" y1="238.39" x2="354" y2="239.3" stroke="#ff1010" stroke-width="2.8" stroke-linecap="round"/>
<line x1="354" y1="239.3" x2="354.77" y2="240.26" stroke="#ff1010" stroke-width="2.8" stroke-linecap="round"/>
<line x1="354.77" y1="240.26" x2="355.56" y2="241.27" stroke="#ff1010" stroke-width="2.8" stroke-linecap="round"/>
<line x1="355.56" y1="241.27" x2="356.37" y2="242.32" stroke="#ff1010" stroke-width="2.8" stroke-linecap="round"/>
<line x1="356.37" y1="242.32" x2="357.19" y2="243.39" stroke="#ff1010" stroke-width="2.8" stroke-linecap="round"/>
<line x1="357.19" y1="243.39" x2="358.02" y2="244.47" stroke="#ff1010" stroke-width="2.8" stroke-linecap="round"/>
<line x1="358.02" y1="244.47" x2="358.85" y2="245.56" stroke="#ff1010" stroke-width="2.73" stroke-linecap="round"/>
<line x1="358.85" y1="245.56" x2="359.68" y2="246.64" stroke="#ff1010" stroke-width="2.62" stroke-linecap="round"/>
<line x1="359.68" y1="246.64" x2="360.5" y2="247.7" stroke="#ff1010" stroke-width="2.51" stroke-linecap="round"/>
<line x1="360.5" y1="247.7" x2="361.31" y2="248.74" stroke="#ff1010" stroke-width="2.41" stroke-linecap="round"/>
<line x1="361.31" y1="248.74" x2="362.1" y2="249.78" stroke="#ff1010" stroke-width="2.3" stroke-linecap="round"/>
<line x1="362.1" y1="249.78" x2="362.9" y2="250.82" stroke="#ff1010" stroke-width="2.2" stroke-linecap="round"/>
<line x1="362.9" y1="250.82" x2="363.69" y2="251.85" stroke="#ff1010" stroke-width="2.1" stroke-linecap="round"/>
<line x1="363.69" y1="251.85" x2="364.5" y2="252.88" stroke="#ff1010" stroke-width="2" stroke-linecap="round"/>
<line x1="364.5" y1="252.88" x2="365.31" y2="253.92" stroke="#ff1010" stroke-width="1.89" stroke-linecap="round"/>
<line x1="365.31" y1="253.92" x2="366.14" y2="254.96" stroke="#ff1010" stroke-width="1.79" stroke-linecap="round"/>
<line x1="366.14" y1="254.96" x2="367" y2="256" stroke="#ff1010" stroke-width="1.68" stroke-linecap="round"/>
<line x1="367" y1="256" x2="367.87" y2="257.06" stroke="#ff1010" stroke-width="1.57" stroke-linecap="round"/>
<line x1="367.87" y1="257.06" x2="368.74" y2="258.14" stroke="#ff1010" stroke-width="1.46" stroke-linecap="round"/>
<line x1="368.74" y1="258.14" x2="369.63" y2="259.23" stroke="#ff1010" stroke-width="1.35" stroke-linecap="round"/>
<line x1="369.63" y1="259.23" x2="370.53" y2="260.31" stroke="#ff1010" stroke-width="1.23" stroke-linecap="round"/>
<line x1="370.53" y1="260.31" x2="371.45" y2="261.38" stroke="#ff1010" stroke-width="1.12" stroke-linecap="round"/>
<path d="M322.65 208.3h3.3M324.3 206.65v3.3M323.7 208.88h3.3M325.35 207.23v3.3M324.76 209.45h3.3M326.41 207.8v3.3M325.8 210.04h3.3M327.45 208.39v3.3M326.84 210.65h3.3M328.49 209v3.3M327.85 211.3h3.3M329.5 209.65v3.3M328.83 211.98h3.3M330.48 210.33v3.3M329.82 212.66h3.3M331.47 211.01v3.3M330.79 213.37h3.3M332.44 211.72v3.3M331.73 214.11h3.3M333.38 212.46v3.3M332.62 214.91h3.3M334.27 213.26v3.3M333.46 215.78h3.3M335.11 214.13v3.3M334.22 216.7h3.3M335.87 215.05v3.3M334.9 217.69h3.3M336.55 216.04v3.3M335.53 218.71h3.3M337.18 217.06v3.3M336.13 219.75h3.3M337.78 218.1v3.3M336.72 220.79h3.3M338.37 219.14v3.3M337.3 221.84h3.3M338.95 220.19v3.3M337.9 222.88h3.3M339.55 221.23v3.3M338.55 223.9h3.3M340.2 222.25v3.3M339.21 224.9h3.3M340.86 223.25v3.3M339.91 225.87h3.3M341.56 224.22v3.3M340.69 226.79h3.3M342.34 225.14v3.3M341.5 227.67h3.3M343.15 226.02v3.3M342.35 228.52h3.3M344 226.87v3.3M343.21 229.35h3.3M344.86 227.7v3.3M344.09 230.17h3.3M345.74 228.52v3.3M344.96 231h3.3M346.61 229.35v3.3M345.81 231.84h3.3M347.46 230.19v3.3M346.65 232.7h3.3M348.3 231.05v3.3M347.47 233.58h3.3M349.12 231.93v3.3M348.27 234.47h3.3M349.92 232.82v3.3M349.06 235.37h3.3M350.71 233.72v3.3M349.84 236.28h3.3M351.49 234.63v3.3M350.62 237.2h3.3M352.27 235.55v3.3M351.38 238.12h3.3M353.03 236.47v3.3M352.14 239.05h3.3M353.79 237.4v3.3M352.9 239.98h3.3M354.55 238.33v3.3M353.64 240.92h3.3M355.29 239.27v3.3M354.38 241.87h3.3M356.03 240.22v3.3M355.11 242.82h3.3M356.76 241.17v3.3M355.84 243.77h3.3M357.49 242.12v3.3M356.57 244.73h3.3M358.22 243.08v3.3M357.3 245.68h3.3M358.95 244.03v3.3M358.03 246.63h3.3M359.68 244.98v3.3M358.76 247.58h3.3M360.41 245.93v3.3M359.49 248.53h3.3M361.14 246.88v3.3M360.23 249.48h3.3M361.88 247.83v3.3M360.96 250.44h3.3M362.61 248.79v3.3M361.69 251.39h3.3M363.34 249.74v3.3M362.42 252.34h3.3M364.07 250.69v3.3M363.16 253.28h3.3M364.81 251.63v3.3M363.91 254.22h3.3M365.56 252.57v3.3M364.66 255.16h3.3M366.31 253.51v3.3M365.42 256.09h3.3M367.07 254.44v3.3M366.18 257.01h3.3M367.83 255.36v3.3M366.94 257.94h3.3M368.59 256.29v3.3M367.69 258.88h3.3M369.34 257.23v3.3M368.46 259.8h3.3M370.11 258.15v3.3M369.23 260.72h3.3M370.88 259.07v3.3" stroke="#ff1010" stroke-width="0.6" fill="none"/>
<polyline points="324.3,208.3 324.72,208.54 325.29,208.84 325.96,209.2 326.7,209.61 327.49,210.06 328.29,210.53 329.07,211.01 329.8,211.5 330.5,211.99 331.22,212.48 331.94,213 332.66,213.53 333.37,214.1 334.07,214.71 334.75,215.38 335.4,216.1 336.04,216.92 336.66,217.86 337.28,218.87 337.88,219.91 338.45,220.94 339,221.92 339.52,222.82 340,223.6 340.42,224.23 340.76,224.75 341.06,225.19 341.34,225.58 341.62,225.95 341.95,226.34 342.33,226.78 342.8,227.3 343.37,227.89 344,228.53 344.69,229.19 345.42,229.88 346.18,230.59 346.93,231.31 347.68,232.05 348.4,232.8 349.09,233.55 349.78,234.31 350.46,235.08 351.14,235.87 351.83,236.68 352.54,237.52 353.26,238.39 354,239.3 354.77,240.26 355.56,241.27 356.37,242.32 357.19,243.39 358.02,244.47 358.85,245.56 359.68,246.64 360.5,247.7 361.31,248.74 362.1,249.78 362.9,250.82 363.69,251.85 364.5,252.88 365.31,253.92 366.14,254.96 367,256 367.87,257.06 368.74,258.14 369.63,259.23 370.53,260.31 371.45,261.38 372.4,262.43 373.38,263.44 374.4,264.4 375.46,265.31 376.57,266.18 377.71,267.02 378.88,267.83 380.06,268.62 381.25,269.39 382.43,270.15 383.6,270.9 384.76,271.63 385.92,272.34 387.08,273.03 388.24,273.71 389.41,274.37 390.57,275.04 391.74,275.71 392.9,276.4 394.08,277.11 395.28,277.84 396.48,278.58 397.69,279.31 398.87,280.03 400.03,280.73 401.14,281.39 402.2,282 403.18,282.54 404.08,283.01 404.93,283.44 405.75,283.85 406.57,284.26 407.42,284.69 408.32,285.16 409.3,285.7 410.38,286.33 411.56,287.03 412.79,287.78 414.05,288.56 415.29,289.32 416.49,290.05 417.6,290.72 418.6,291.3 419.48,291.79 420.29,292.23 421.03,292.63 421.72,292.98 422.36,293.29 422.96,293.58 423.54,293.85 424.1,294.1 424.6,294.33 425,294.54 425.35,294.72 425.68,294.87 426.02,295 426.41,295.11 426.89,295.21 427.5,295.3 428.12,295.37 428.68,295.41 429.24,295.43 429.9,295.43 430.73,295.43 431.8,295.41 433.2,295.4 435,295.4 437.24,295.4 439.86,295.39 442.79,295.37 445.98,295.36 449.36,295.34 452.86,295.32 456.43,295.31 460,295.3 463.87,295.3 468.22,295.29 472.82,295.29 477.46,295.29 481.91,295.3 485.93,295.3 489.3,295.3 491.8,295.3" fill="none" stroke="#ff1010" stroke-width="1.0" stroke-linejoin="round" stroke-linecap="round" />
<path d="M321.9 208.3h4.8M324.3 205.9v4.8M324.53 209.74h4.8M326.93 207.34v4.8M327.1 211.3h4.8M329.5 208.9v4.8M329.56 213.01h4.8M331.96 210.61v4.8M331.87 214.91h4.8M334.27 212.51v4.8M333.81 217.19h4.8M336.21 214.79v4.8M335.38 219.75h4.8M337.78 217.35v4.8M336.85 222.36h4.8M339.25 219.96v4.8M338.46 224.9h4.8M340.86 222.5v4.8M340.34 227.23h4.8M342.74 224.83v4.8M342.46 229.35h4.8M344.86 226.95v4.8M344.64 231.41h4.8M347.04 229.01v4.8M346.72 233.58h4.8M349.12 231.18v4.8M348.7 235.82h4.8M351.1 233.42v4.8M350.63 238.12h4.8M353.03 235.72v4.8M352.52 240.45h4.8M354.92 238.05v4.8M354.36 242.82h4.8M356.76 240.42v4.8M356.18 245.21h4.8M358.58 242.81v4.8M358.01 247.58h4.8M360.41 245.18v4.8M359.84 249.96h4.8M362.24 247.56v4.8M361.67 252.34h4.8M364.07 249.94v4.8M363.53 254.69h4.8M365.93 252.29v4.8M365.43 257.01h4.8M367.83 254.61v4.8M367.32 259.34h4.8M369.72 256.94v4.8M369.27 261.62h4.8M371.67 259.22v4.8M371.35 263.79h4.8M373.75 261.39v4.8M373.62 265.75h4.8M376.02 263.35v4.8M376.03 267.52h4.8M378.43 265.12v4.8M378.53 269.18h4.8M380.93 266.78v4.8M381.05 270.81h4.8M383.45 268.41v4.8M383.6 272.39h4.8M386 269.99v4.8M386.19 273.91h4.8M388.59 271.51v4.8M388.79 275.4h4.8M391.19 273v4.8M391.38 276.93h4.8M393.78 274.53v4.8M393.94 278.49h4.8M396.34 276.09v4.8M396.5 280.05h4.8M398.9 277.65v4.8M399.08 281.58h4.8M401.48 279.18v4.8M401.71 283.03h4.8M404.11 280.63v4.8M404.39 284.37h4.8M406.79 281.97v4.8M407.04 285.78h4.8M409.44 283.38v4.8M409.62 287.31h4.8M412.02 284.91v4.8M412.17 288.88h4.8M414.57 286.48v4.8M414.74 290.44h4.8M417.14 288.04v4.8M417.34 291.93h4.8M419.74 289.53v4.8M420 293.31h4.8M422.4 290.91v4.8M422.71 294.59h4.8M425.11 292.19v4.8M425.59 295.35h4.8M427.99 292.95v4.8M428.59 295.42h4.8M430.99 293.02v4.8M431.59 295.4h4.8M433.99 293v4.8M434.59 295.4h4.8M436.99 293v4.8M437.59 295.39h4.8M439.99 292.99v4.8M440.59 295.37h4.8M442.99 292.97v4.8M443.59 295.36h4.8M445.99 292.96v4.8M446.59 295.34h4.8M448.99 292.94v4.8M449.59 295.33h4.8M451.99 292.93v4.8M452.59 295.31h4.8M454.99 292.91v4.8M455.59 295.31h4.8M457.99 292.91v4.8M458.59 295.3h4.8M460.99 292.9v4.8M461.59 295.3h4.8M463.99 292.9v4.8M464.59 295.29h4.8M466.99 292.89v4.8M467.59 295.29h4.8M469.99 292.89v4.8M470.59 295.29h4.8M472.99 292.89v4.8M473.59 295.29h4.8M475.99 292.89v4.8M476.59 295.29h4.8M478.99 292.89v4.8M479.59 295.3h4.8M481.99 292.9v4.8M482.59 295.3h4.8M484.99 292.9v4.8M485.59 295.3h4.8M487.99 292.9v4.8M488.59 295.3h4.8M490.99 292.9v4.8" stroke="#ff1010" stroke-width="0.6" fill="none"/>
<polyline points="324.3,360.1 325.2,362.9 327.1,364.8 329.8,365.7 332.6,365.7 335.4,364.8 339.1,363.9 342.8,359.2 345.6,353.6 348.4,346.2 349.3,342.5 350.3,333.2 351.2,329.5 353,324.9 354,314.7 355.8,321.2 358.6,318.4 361.4,309.1 365.1,311 368.8,312.8 371.6,313.8 373.4,311 374.4,275.5 378.1,292.2 381.8,286.6 386.4,281.1 389.2,280.1 392,257 395.1,220.8 398.5,228.2 400.7,248.6 404.1,244.9 405.9,223.6 409.3,218.9 411.1,226.3 413.4,234.7 415.8,245.8 418.6,244.9 421.3,269.9 425,285.7 426.9,294.1 427.8,311.5 430.6,319.9 435.3,330.1 438,337.5 440.8,344 444.5,348.6 448.2,351.4 453.8,353.3 459.4,355.1 464.9,356.1 470.5,356.1 476.1,356.1 481.6,355.1 487.2,355.1 490.9,355.1" fill="none" stroke="#ff1010" stroke-width="0.8" stroke-linejoin="round" stroke-linecap="round" />
<circle cx="324.3" cy="360.1" r="1.9" fill="none" stroke="#ff1010" stroke-width="0.7"/>
<circle cx="324.75" cy="361.5" r="1.9" fill="none" stroke="#ff1010" stroke-width="0.7"/>
<circle cx="325.2" cy="362.9" r="1.9" fill="none" stroke="#ff1010" stroke-width="0.7"/>
<circle cx="326.15" cy="363.85" r="1.9" fill="none" stroke="#ff1010" stroke-width="0.7"/>
<circle cx="327.1" cy="364.8" r="1.9" fill="none" stroke="#ff1010" stroke-width="0.7"/>
<circle cx="328.45" cy="365.25" r="1.9" fill="none" stroke="#ff1010" stroke-width="0.7"/>
<circle cx="329.8" cy="365.7" r="1.9" fill="none" stroke="#ff1010" stroke-width="0.7"/>
<circle cx="331.2" cy="365.7" r="1.9" fill="none" stroke="#ff1010" stroke-width="0.7"/>
<circle cx="332.6" cy="365.7" r="1.9" fill="none" stroke="#ff1010" stroke-width="0.7"/>
<circle cx="334" cy="365.25" r="1.9" fill="none" stroke="#ff1010" stroke-width="0.7"/>
<circle cx="335.4" cy="364.8" r="1.9" fill="none" stroke="#ff1010" stroke-width="0.7"/>
<circle cx="337.25" cy="364.35" r="1.9" fill="none" stroke="#ff1010" stroke-width="0.7"/>
<circle cx="339.1" cy="363.9" r="1.9" fill="none" stroke="#ff1010" stroke-width="0.7"/>
<circle cx="340.33" cy="362.33" r="1.9" fill="none" stroke="#ff1010" stroke-width="0.7"/>
<circle cx="341.57" cy="360.77" r="1.9" fill="none" stroke="#ff1010" stroke-width="0.7"/>
<circle cx="342.8" cy="359.2" r="1.9" fill="none" stroke="#ff1010" stroke-width="0.7"/>
<circle cx="343.5" cy="357.8" r="1.9" fill="none" stroke="#ff1010" stroke-width="0.7"/>
<circle cx="344.2" cy="356.4" r="1.9" fill="none" stroke="#ff1010" stroke-width="0.7"/>
<circle cx="344.9" cy="355" r="1.9" fill="none" stroke="#ff1010" stroke-width="0.7"/>
<circle cx="345.6" cy="353.6" r="1.9" fill="none" stroke="#ff1010" stroke-width="0.7"/>
<circle cx="346.3" cy="351.75" r="1.9" fill="none" stroke="#ff1010" stroke-width="0.7"/>
<circle cx="347" cy="349.9" r="1.9" fill="none" stroke="#ff1010" stroke-width="0.7"/>
<circle cx="347.7" cy="348.05" r="1.9" fill="none" stroke="#ff1010" stroke-width="0.7"/>
<circle cx="348.4" cy="346.2" r="1.9" fill="none" stroke="#ff1010" stroke-width="0.7"/>
<circle cx="348.85" cy="344.35" r="1.9" fill="none" stroke="#ff1010" stroke-width="0.7"/>
<circle cx="349.3" cy="342.5" r="1.9" fill="none" stroke="#ff1010" stroke-width="0.7"/>
<circle cx="349.5" cy="340.64" r="1.9" fill="none" stroke="#ff1010" stroke-width="0.7"/>
<circle cx="349.7" cy="338.78" r="1.9" fill="none" stroke="#ff1010" stroke-width="0.7"/>
<circle cx="349.9" cy="336.92" r="1.9" fill="none" stroke="#ff1010" stroke-width="0.7"/>
<circle cx="350.1" cy="335.06" r="1.9" fill="none" stroke="#ff1010" stroke-width="0.7"/>
<circle cx="350.3" cy="333.2" r="1.9" fill="none" stroke="#ff1010" stroke-width="0.7"/>
<circle cx="351.2" cy="329.5" r="1.9" fill="none" stroke="#ff1010" stroke-width="0.7"/>
<circle cx="353" cy="324.9" r="1.9" fill="none" stroke="#ff1010" stroke-width="0.7"/>
<circle cx="354" cy="314.7" r="1.9" fill="none" stroke="#ff1010" stroke-width="0.7"/>
<circle cx="355.8" cy="321.2" r="1.9" fill="none" stroke="#ff1010" stroke-width="0.7"/>
<circle cx="358.6" cy="318.4" r="1.9" fill="none" stroke="#ff1010" stroke-width="0.7"/>
<circle cx="361.4" cy="309.1" r="1.9" fill="none" stroke="#ff1010" stroke-width="0.7"/>
<circle cx="365.1" cy="311" r="1.9" fill="none" stroke="#ff1010" stroke-width="0.7"/>
<circle cx="368.8" cy="312.8" r="1.9" fill="none" stroke="#ff1010" stroke-width="0.7"/>
<circle cx="371.6" cy="313.8" r="1.9" fill="none" stroke="#ff1010" stroke-width="0.7"/>
<circle cx="373.4" cy="311" r="1.9" fill="none" stroke="#ff1010" stroke-width="0.7"/>
<circle cx="374.4" cy="275.5" r="1.9" fill="none" stroke="#ff1010" stroke-width="0.7"/>
<circle cx="378.1" cy="292.2" r="1.9" fill="none" stroke="#ff1010" stroke-width="0.7"/>
<circle cx="381.8" cy="286.6" r="1.9" fill="none" stroke="#ff1010" stroke-width="0.7"/>
<circle cx="386.4" cy="281.1" r="1.9" fill="none" stroke="#ff1010" stroke-width="0.7"/>
<circle cx="389.2" cy="280.1" r="1.9" fill="none" stroke="#ff1010" stroke-width="0.7"/>
<circle cx="392" cy="257" r="1.9" fill="none" stroke="#ff1010" stroke-width="0.7"/>
<circle cx="395.1" cy="220.8" r="1.9" fill="none" stroke="#ff1010" stroke-width="0.7"/>
<circle cx="398.5" cy="228.2" r="1.9" fill="none" stroke="#ff1010" stroke-width="0.7"/>
<circle cx="400.7" cy="248.6" r="1.9" fill="none" stroke="#ff1010" stroke-width="0.7"/>
<circle cx="404.1" cy="244.9" r="1.9" fill="none" stroke="#ff1010" stroke-width="0.7"/>
<circle cx="405.9" cy="223.6" r="1.9" fill="none" stroke="#ff1010" stroke-width="0.7"/>
<circle cx="409.3" cy="218.9" r="1.9" fill="none" stroke="#ff1010" stroke-width="0.7"/>
<circle cx="411.1" cy="226.3" r="1.9" fill="none" stroke="#ff1010" stroke-width="0.7"/>
<circle cx="413.4" cy="234.7" r="1.9" fill="none" stroke="#ff1010" stroke-width="0.7"/>
<circle cx="415.8" cy="245.8" r="1.9" fill="none" stroke="#ff1010" stroke-width="0.7"/>
<circle cx="418.6" cy="244.9" r="1.9" fill="none" stroke="#ff1010" stroke-width="0.7"/>
<circle cx="421.3" cy="269.9" r="1.9" fill="none" stroke="#ff1010" stroke-width="0.7"/>
<circle cx="425" cy="285.7" r="1.9" fill="none" stroke="#ff1010" stroke-width="0.7"/>
<circle cx="426.9" cy="294.1" r="1.9" fill="none" stroke="#ff1010" stroke-width="0.7"/>
<circle cx="427.8" cy="311.5" r="1.9" fill="none" stroke="#ff1010" stroke-width="0.7"/>
<circle cx="430.6" cy="319.9" r="1.9" fill="none" stroke="#ff1010" stroke-width="0.7"/>
<circle cx="435.3" cy="330.1" r="1.9" fill="none" stroke="#ff1010" stroke-width="0.7"/>
<circle cx="438" cy="337.5" r="1.9" fill="none" stroke="#ff1010" stroke-width="0.7"/>
<circle cx="439.4" cy="340.75" r="1.9" fill="none" stroke="#ff1010" stroke-width="0.7"/>
<circle cx="440.8" cy="344" r="1.9" fill="none" stroke="#ff1010" stroke-width="0.7"/>
<circle cx="442.65" cy="346.3" r="1.9" fill="none" stroke="#ff1010" stroke-width="0.7"/>
<circle cx="444.5" cy="348.6" r="1.9" fill="none" stroke="#ff1010" stroke-width="0.7"/>
<circle cx="446.35" cy="350" r="1.9" fill="none" stroke="#ff1010" stroke-width="0.7"/>
<circle cx="448.2" cy="351.4" r="1.9" fill="none" stroke="#ff1010" stroke-width="0.7"/>
<circle cx="451" cy="352.35" r="1.9" fill="none" stroke="#ff1010" stroke-width="0.7"/>
<circle cx="453.8" cy="353.3" r="1.9" fill="none" stroke="#ff1010" stroke-width="0.7"/>
<circle cx="456.6" cy="354.2" r="1.9" fill="none" stroke="#ff1010" stroke-width="0.7"/>
<circle cx="459.4" cy="355.1" r="1.9" fill="none" stroke="#ff1010" stroke-width="0.7"/>
<circle cx="462.15" cy="355.6" r="1.9" fill="none" stroke="#ff1010" stroke-width="0.7"/>
<circle cx="464.9" cy="356.1" r="1.9" fill="none" stroke="#ff1010" stroke-width="0.7"/>
<circle cx="467.7" cy="356.1" r="1.9" fill="none" stroke="#ff1010" stroke-width="0.7"/>
<circle cx="470.5" cy="356.1" r="1.9" fill="none" stroke="#ff1010" stroke-width="0.7"/>
<circle cx="473.3" cy="356.1" r="1.9" fill="none" stroke="#ff1010" stroke-width="0.7"/>
<circle cx="476.1" cy="356.1" r="1.9" fill="none" stroke="#ff1010" stroke-width="0.7"/>
<circle cx="478.85" cy="355.6" r="1.9" fill="none" stroke="#ff1010" stroke-width="0.7"/>
<circle cx="481.6" cy="355.1" r="1.9" fill="none" stroke="#ff1010" stroke-width="0.7"/>
<circle cx="484.4" cy="355.1" r="1.9" fill="none" stroke="#ff1010" stroke-width="0.7"/>
<circle cx="487.2" cy="355.1" r="1.9" fill="none" stroke="#ff1010" stroke-width="0.7"/>
<circle cx="490.9" cy="355.1" r="1.9" fill="none" stroke="#ff1010" stroke-width="0.7"/>
<line x1="53.4" y1="416.6" x2="54.19" y2="416.68" stroke="#ff1010" stroke-width="4.2" stroke-linecap="round"/>
<line x1="54.19" y1="416.68" x2="55.26" y2="416.77" stroke="#ff1010" stroke-width="4.2" stroke-linecap="round"/>
<line x1="55.26" y1="416.77" x2="56.52" y2="416.87" stroke="#ff1010" stroke-width="4.2" stroke-linecap="round"/>
<line x1="56.52" y1="416.87" x2="57.93" y2="416.99" stroke="#ff1010" stroke-width="4.2" stroke-linecap="round"/>
<line x1="57.93" y1="416.99" x2="59.4" y2="417.14" stroke="#ff1010" stroke-width="4.2" stroke-linecap="round"/>
<line x1="59.4" y1="417.14" x2="60.88" y2="417.32" stroke="#ff1010" stroke-width="4.2" stroke-linecap="round"/>
<line x1="60.88" y1="417.32" x2="62.3" y2="417.54" stroke="#ff1010" stroke-width="4.2" stroke-linecap="round"/>
<line x1="62.3" y1="417.54" x2="63.6" y2="417.8" stroke="#ff1010" stroke-width="4.2" stroke-linecap="round"/>
<line x1="63.6" y1="417.8" x2="64.82" y2="418.12" stroke="#ff1010" stroke-width="4.2" stroke-linecap="round"/>
<line x1="64.82" y1="418.12" x2="66.05" y2="418.5" stroke="#ff1010" stroke-width="4.2" stroke-linecap="round"/>
<line x1="66.05" y1="418.5" x2="67.28" y2="418.93" stroke="#ff1010" stroke-width="4.05" stroke-linecap="round"/>
<line x1="67.28" y1="418.93" x2="68.49" y2="419.38" stroke="#ff1010" stroke-width="3.77" stroke-linecap="round"/>
<line x1="68.49" y1="419.38" x2="69.66" y2="419.84" stroke="#ff1010" stroke-width="3.49" stroke-linecap="round"/>
<line x1="69.66" y1="419.84" x2="70.78" y2="420.3" stroke="#ff1010" stroke-width="3.22" stroke-linecap="round"/>
<line x1="70.78" y1="420.3" x2="71.83" y2="420.72" stroke="#ff1010" stroke-width="2.97" stroke-linecap="round"/>
<line x1="71.83" y1="420.72" x2="72.8" y2="421.1" stroke="#ff1010" stroke-width="2.73" stroke-linecap="round"/>
<line x1="72.8" y1="421.1" x2="73.65" y2="421.42" stroke="#ff1010" stroke-width="2.51" stroke-linecap="round"/>
<line x1="73.65" y1="421.42" x2="74.37" y2="421.7" stroke="#ff1010" stroke-width="2.31" stroke-linecap="round"/>
<line x1="74.37" y1="421.7" x2="75" y2="421.95" stroke="#ff1010" stroke-width="2.15" stroke-linecap="round"/>
<line x1="75" y1="421.95" x2="75.59" y2="422.19" stroke="#ff1010" stroke-width="2" stroke-linecap="round"/>
<line x1="75.59" y1="422.19" x2="76.19" y2="422.44" stroke="#ff1010" stroke-width="1.87" stroke-linecap="round"/>
<line x1="76.19" y1="422.44" x2="76.82" y2="422.71" stroke="#ff1010" stroke-width="1.73" stroke-linecap="round"/>
<line x1="76.82" y1="422.71" x2="77.55" y2="423.03" stroke="#ff1010" stroke-width="1.59" stroke-linecap="round"/>
<line x1="77.55" y1="423.03" x2="78.4" y2="423.4" stroke="#ff1010" stroke-width="1.42" stroke-linecap="round"/>
<line x1="78.4" y1="423.4" x2="79.39" y2="423.84" stroke="#ff1010" stroke-width="1.23" stroke-linecap="round"/>
<path d="M51.05 416.6h4.7M53.4 414.25v4.7M52.24 416.71h4.7M54.59 414.36v4.7M53.44 416.81h4.7M55.79 414.46v4.7M54.64 416.91h4.7M56.99 414.56v4.7M55.83 417.02h4.7M58.18 414.67v4.7M57.03 417.14h4.7M59.38 414.79v4.7M58.22 417.29h4.7M60.57 414.94v4.7M59.4 417.46h4.7M61.75 415.11v4.7M60.59 417.67h4.7M62.94 415.32v4.7M61.76 417.93h4.7M64.11 415.58v4.7M62.91 418.25h4.7M65.26 415.9v4.7M64.05 418.62h4.7M66.4 416.27v4.7M65.18 419.02h4.7M67.53 416.67v4.7M66.31 419.45h4.7M68.66 417.1v4.7M67.42 419.89h4.7M69.77 417.54v4.7M68.53 420.34h4.7M70.88 417.99v4.7M69.65 420.79h4.7M72 418.44v4.7M70.77 421.22h4.7M73.12 418.87v4.7M71.89 421.65h4.7M74.24 419.3v4.7M73 422.1h4.7M75.35 419.75v4.7M74.11 422.56h4.7M76.46 420.21v4.7M75.21 423.03h4.7M77.56 420.68v4.7M76.31 423.52h4.7M78.66 421.17v4.7" stroke="#ff1010" stroke-width="0.6" fill="none"/>
<polyline points="53.4,416.6 54.19,416.68 55.26,416.77 56.52,416.87 57.93,416.99 59.4,417.14 60.88,417.32 62.3,417.54 63.6,417.8 64.82,418.12 66.05,418.5 67.28,418.93 68.49,419.38 69.66,419.84 70.78,420.3 71.83,420.72 72.8,421.1 73.65,421.42 74.37,421.7 75,421.95 75.59,422.19 76.19,422.44 76.82,422.71 77.55,423.03 78.4,423.4 79.39,423.84 80.46,424.34 81.62,424.88 82.82,425.44 84.05,426.01 85.29,426.58 86.51,427.11 87.7,427.6 88.86,428.05 90.03,428.47 91.19,428.87 92.36,429.26 93.52,429.64 94.68,430.02 95.84,430.4 97,430.8 98.15,431.21 99.3,431.62 100.45,432.03 101.6,432.44 102.75,432.85 103.9,433.27 105.05,433.68 106.2,434.1 107.36,434.52 108.52,434.95 109.68,435.38 110.84,435.81 112.01,436.24 113.17,436.67 114.34,437.09 115.5,437.5 116.66,437.9 117.83,438.3 118.99,438.7 120.15,439.09 121.31,439.47 122.47,439.85 123.64,440.23 124.8,440.6 125.98,440.97 127.18,441.34 128.39,441.71 129.59,442.08 130.78,442.43 131.94,442.77 133.05,443.1 134.1,443.4 135.04,443.66 135.87,443.87 136.63,444.06 137.37,444.24 138.14,444.43 138.98,444.66 139.95,444.94 141.1,445.3 142.44,445.75 143.93,446.27 145.54,446.85 147.22,447.46 148.96,448.09 150.71,448.72 152.43,449.33 154.1,449.9 155.72,450.44 157.35,450.98 158.97,451.51 160.6,452.03 162.22,452.54 163.85,453.04 165.47,453.53 167.1,454 168.72,454.45 170.35,454.87 171.97,455.28 173.6,455.68 175.22,456.07 176.85,456.47 178.47,456.87 180.1,457.3 181.74,457.74 183.39,458.2 185.06,458.66 186.72,459.13 188.36,459.59 189.98,460.07 191.57,460.53 193.1,461 194.59,461.46 196.05,461.93 197.48,462.39 198.88,462.85 200.25,463.31 201.6,463.77 202.91,464.24 204.2,464.7 205.46,465.16 206.7,465.6 207.9,466.04 209.08,466.49 210.23,466.94 211.35,467.4 212.44,467.89 213.5,468.4 214.53,468.94 215.53,469.49 216.49,470.07 217.43,470.66 218.34,471.26 219.22,471.87 220.07,472.48 220.9,473.1 221.72,473.76 222.56,474.49 223.38,475.24 224.16,475.99 224.89,476.71 225.54,477.35 226.08,477.9 226.5,478.3" fill="none" stroke="#ff1010" stroke-width="1.0" stroke-linejoin="round" stroke-linecap="round" />
<path d="M51 416.6h4.8M53.4 414.2v4.8M53.99 416.86h4.8M56.39 414.46v4.8M56.98 417.14h4.8M59.38 414.74v4.8M59.95 417.55h4.8M62.35 415.15v4.8M62.86 418.25h4.8M65.26 415.85v4.8M65.7 419.23h4.8M68.1 416.83v4.8M68.48 420.34h4.8M70.88 417.94v4.8M71.28 421.43h4.8M73.68 419.03v4.8M74.06 422.56h4.8M76.46 420.16v4.8M76.81 423.76h4.8M79.21 421.36v4.8M79.53 425.03h4.8M81.93 422.63v4.8M82.25 426.29h4.8M84.65 423.89v4.8M85 427.48h4.8M87.4 425.08v4.8M87.81 428.53h4.8M90.21 426.13v4.8M90.66 429.48h4.8M93.06 427.08v4.8M93.5 430.42h4.8M95.9 428.02v4.8M96.34 431.41h4.8M98.74 429.01v4.8M99.16 432.42h4.8M101.56 430.02v4.8M101.98 433.44h4.8M104.38 431.04v4.8M104.8 434.47h4.8M107.2 432.07v4.8M107.62 435.51h4.8M110.02 433.11v4.8M110.43 436.54h4.8M112.83 434.14v4.8M113.26 437.55h4.8M115.66 435.15v4.8M116.09 438.53h4.8M118.49 436.13v4.8M118.94 439.48h4.8M121.34 437.08v4.8M121.79 440.41h4.8M124.19 438.01v4.8M124.66 441.3h4.8M127.06 438.9v4.8M127.53 442.17h4.8M129.93 439.77v4.8M130.4 443.02h4.8M132.8 440.62v4.8M133.29 443.83h4.8M135.69 441.43v4.8M136.2 444.55h4.8M138.6 442.15v4.8M139.07 445.43h4.8M141.47 443.03v4.8M141.91 446.41h4.8M144.31 444.01v4.8M144.73 447.43h4.8M147.13 445.03v4.8M147.55 448.45h4.8M149.95 446.05v4.8M150.38 449.45h4.8M152.78 447.05v4.8M153.22 450.41h4.8M155.62 448.01v4.8M156.07 451.34h4.8M158.47 448.94v4.8M158.93 452.26h4.8M161.33 449.86v4.8M161.79 453.15h4.8M164.19 450.75v4.8M164.67 453.99h4.8M167.07 451.59v4.8M167.57 454.77h4.8M169.97 452.37v4.8M170.48 455.5h4.8M172.88 453.1v4.8M173.4 456.21h4.8M175.8 453.81v4.8M176.31 456.93h4.8M178.71 454.53v4.8M179.2 457.71h4.8M181.6 455.31v4.8M182.1 458.5h4.8M184.5 456.1v4.8M184.99 459.32h4.8M187.39 456.92v4.8M187.87 460.15h4.8M190.27 457.75v4.8M190.74 461.01h4.8M193.14 458.61v4.8M193.6 461.91h4.8M196 459.51v4.8M196.45 462.84h4.8M198.85 460.44v4.8M199.29 463.81h4.8M201.69 461.41v4.8M202.12 464.82h4.8M204.52 462.42v4.8M204.94 465.84h4.8M207.34 463.44v4.8M207.74 466.91h4.8M210.14 464.51v4.8M210.49 468.11h4.8M212.89 465.71v4.8M213.15 469.5h4.8M215.55 467.1v4.8M215.69 471.09h4.8M218.09 468.69v4.8M218.14 472.83h4.8M220.54 470.43v4.8M220.44 474.75h4.8M222.84 472.35v4.8M222.6 476.82h4.8M225 474.42v4.8" stroke="#ff1010" stroke-width="0.6" fill="none"/>
<polyline points="52.4,570.1 58,568.8 63.6,565.7 67.3,563.3 70,559.6 71.4,555.4 72.8,551.2 73.8,548.4 74.7,545.7 75.6,542.9 76.5,540.1 77,536.8 77.5,533.6 78,529.4 78.4,525.3 78.9,521.5 79.3,517.8 80.2,512.2 81.2,506.7 82.1,502.1 83,497.9 84,493.7 84.9,484.2 86.7,478.6 88.6,466.6 88.6,454.5 92.3,453.6 95.1,454.5 98.8,455.5 101.6,469.4 104.4,496.3 106.2,513.2 109,520.6 112.7,526.2 118.3,524.3 121.1,517.8 123.8,507.6 126.6,496.5 130.3,493.7 134.1,495.6 137.4,498.6 141.1,498.6 144.8,494.8 148.6,499.5 152.3,503.2 156,512.5 159.7,518 163.4,520.8 167.1,523.6 171.7,525.5 177.3,525.5 180.1,520.8 185.7,518 191.2,513.4 196.8,507.8 202.4,502.3 206.1,497.6 209.8,493 213.5,487.4 215.7,482.8 217.2,476.8 220,471.2 222.8,458.2 225.9,443.8" fill="none" stroke="#ff1010" stroke-width="0.8" stroke-linejoin="round" stroke-linecap="round" />
<circle cx="52.4" cy="570.1" r="2.0" fill="none" stroke="#ff1010" stroke-width="0.7"/>
<circle cx="53.8" cy="569.77" r="2.0" fill="none" stroke="#ff1010" stroke-width="0.7"/>
<circle cx="55.2" cy="569.45" r="2.0" fill="none" stroke="#ff1010" stroke-width="0.7"/>
<circle cx="56.6" cy="569.12" r="2.0" fill="none" stroke="#ff1010" stroke-width="0.7"/>
<circle cx="58" cy="568.8" r="2.0" fill="none" stroke="#ff1010" stroke-width="0.7"/>
<circle cx="59.4" cy="568.02" r="2.0" fill="none" stroke="#ff1010" stroke-width="0.7"/>
<circle cx="60.8" cy="567.25" r="2.0" fill="none" stroke="#ff1010" stroke-width="0.7"/>
<circle cx="62.2" cy="566.48" r="2.0" fill="none" stroke="#ff1010" stroke-width="0.7"/>
<circle cx="63.6" cy="565.7" r="2.0" fill="none" stroke="#ff1010" stroke-width="0.7"/>
<circle cx="64.83" cy="564.9" r="2.0" fill="none" stroke="#ff1010" stroke-width="0.7"/>
<circle cx="66.07" cy="564.1" r="2.0" fill="none" stroke="#ff1010" stroke-width="0.7"/>
<circle cx="67.3" cy="563.3" r="2.0" fill="none" stroke="#ff1010" stroke-width="0.7"/>
<circle cx="68.2" cy="562.07" r="2.0" fill="none" stroke="#ff1010" stroke-width="0.7"/>
<circle cx="69.1" cy="560.83" r="2.0" fill="none" stroke="#ff1010" stroke-width="0.7"/>
<circle cx="70" cy="559.6" r="2.0" fill="none" stroke="#ff1010" stroke-width="0.7"/>
<circle cx="71.4" cy="555.4" r="2.0" fill="none" stroke="#ff1010" stroke-width="0.7"/>
<circle cx="72.8" cy="551.2" r="2.0" fill="none" stroke="#ff1010" stroke-width="0.7"/>
<circle cx="73.8" cy="548.4" r="2.0" fill="none" stroke="#ff1010" stroke-width="0.7"/>
<circle cx="74.7" cy="545.7" r="2.0" fill="none" stroke="#ff1010" stroke-width="0.7"/>
<circle cx="75.6" cy="542.9" r="2.0" fill="none" stroke="#ff1010" stroke-width="0.7"/>
<circle cx="76.5" cy="540.1" r="2.0" fill="none" stroke="#ff1010" stroke-width="0.7"/>
<circle cx="77" cy="536.8" r="2.0" fill="none" stroke="#ff1010" stroke-width="0.7"/>
<circle cx="77.5" cy="533.6" r="2.0" fill="none" stroke="#ff1010" stroke-width="0.7"/>
<circle cx="78" cy="529.4" r="2.0" fill="none" stroke="#ff1010" stroke-width="0.7"/>
<circle cx="78.4" cy="525.3" r="2.0" fill="none" stroke="#ff1010" stroke-width="0.7"/>
<circle cx="78.9" cy="521.5" r="2.0" fill="none" stroke="#ff1010" stroke-width="0.7"/>
<circle cx="79.3" cy="517.8" r="2.0" fill="none" stroke="#ff1010" stroke-width="0.7"/>
<circle cx="80.2" cy="512.2" r="2.0" fill="none" stroke="#ff1010" stroke-width="0.7"/>
<circle cx="81.2" cy="506.7" r="2.0" fill="none" stroke="#ff1010" stroke-width="0.7"/>
<circle cx="82.1" cy="502.1" r="2.0" fill="none" stroke="#ff1010" stroke-width="0.7"/>
<circle cx="83" cy="497.9" r="2.0" fill="none" stroke="#ff1010" stroke-width="0.7"/>
<circle cx="84" cy="493.7" r="2.0" fill="none" stroke="#ff1010" stroke-width="0.7"/>
<circle cx="84.45" cy="488.95" r="2.0" fill="none" stroke="#ff1010" stroke-width="0.7"/>
<circle cx="84.9" cy="484.2" r="2.0" fill="none" stroke="#ff1010" stroke-width="0.7"/>
<circle cx="86.7" cy="478.6" r="2.0" fill="none" stroke="#ff1010" stroke-width="0.7"/>
<circle cx="88.6" cy="466.6" r="2.0" fill="none" stroke="#ff1010" stroke-width="0.7"/>
<circle cx="88.6" cy="454.5" r="2.0" fill="none" stroke="#ff1010" stroke-width="0.7"/>
<circle cx="92.3" cy="453.6" r="2.0" fill="none" stroke="#ff1010" stroke-width="0.7"/>
<circle cx="95.1" cy="454.5" r="2.0" fill="none" stroke="#ff1010" stroke-width="0.7"/>
<circle cx="98.8" cy="455.5" r="2.0" fill="none" stroke="#ff1010" stroke-width="0.7"/>
<circle cx="101.6" cy="469.4" r="2.0" fill="none" stroke="#ff1010" stroke-width="0.7"/>
<circle cx="104.4" cy="496.3" r="2.0" fill="none" stroke="#ff1010" stroke-width="0.7"/>
<circle cx="106.2" cy="513.2" r="2.0" fill="none" stroke="#ff1010" stroke-width="0.7"/>
<circle cx="107.6" cy="516.9" r="2.0" fill="none" stroke="#ff1010" stroke-width="0.7"/>
<circle cx="109" cy="520.6" r="2.0" fill="none" stroke="#ff1010" stroke-width="0.7"/>
<circle cx="110.85" cy="523.4" r="2.0" fill="none" stroke="#ff1010" stroke-width="0.7"/>
<circle cx="112.7" cy="526.2" r="2.0" fill="none" stroke="#ff1010" stroke-width="0.7"/>
<circle cx="118.3" cy="524.3" r="2.0" fill="none" stroke="#ff1010" stroke-width="0.7"/>
<circle cx="119.7" cy="521.05" r="2.0" fill="none" stroke="#ff1010" stroke-width="0.7"/>
<circle cx="121.1" cy="517.8" r="2.0" fill="none" stroke="#ff1010" stroke-width="0.7"/>
<circle cx="122.45" cy="512.7" r="2.0" fill="none" stroke="#ff1010" stroke-width="0.7"/>
<circle cx="123.8" cy="507.6" r="2.0" fill="none" stroke="#ff1010" stroke-width="0.7"/>
<circle cx="125.2" cy="502.05" r="2.0" fill="none" stroke="#ff1010" stroke-width="0.7"/>
<circle cx="126.6" cy="496.5" r="2.0" fill="none" stroke="#ff1010" stroke-width="0.7"/>
<circle cx="130.3" cy="493.7" r="2.0" fill="none" stroke="#ff1010" stroke-width="0.7"/>
<circle cx="134.1" cy="495.6" r="2.0" fill="none" stroke="#ff1010" stroke-width="0.7"/>
<circle cx="137.4" cy="498.6" r="2.0" fill="none" stroke="#ff1010" stroke-width="0.7"/>
<circle cx="141.1" cy="498.6" r="2.0" fill="none" stroke="#ff1010" stroke-width="0.7"/>
<circle cx="144.8" cy="494.8" r="2.0" fill="none" stroke="#ff1010" stroke-width="0.7"/>
<circle cx="148.6" cy="499.5" r="2.0" fill="none" stroke="#ff1010" stroke-width="0.7"/>
<circle cx="152.3" cy="503.2" r="2.0" fill="none" stroke="#ff1010" stroke-width="0.7"/>
<circle cx="154.15" cy="507.85" r="2.0" fill="none" stroke="#ff1010" stroke-width="0.7"/>
<circle cx="156" cy="512.5" r="2.0" fill="none" stroke="#ff1010" stroke-width="0.7"/>
<circle cx="157.85" cy="515.25" r="2.0" fill="none" stroke="#ff1010" stroke-width="0.7"/>
<circle cx="159.7" cy="518" r="2.0" fill="none" stroke="#ff1010" stroke-width="0.7"/>
<circle cx="163.4" cy="520.8" r="2.0" fill="none" stroke="#ff1010" stroke-width="0.7"/>
<circle cx="167.1" cy="523.6" r="2.0" fill="none" stroke="#ff1010" stroke-width="0.7"/>
<circle cx="171.7" cy="525.5" r="2.0" fill="none" stroke="#ff1010" stroke-width="0.7"/>
<circle cx="177.3" cy="525.5" r="2.0" fill="none" stroke="#ff1010" stroke-width="0.7"/>
<circle cx="180.1" cy="520.8" r="2.0" fill="none" stroke="#ff1010" stroke-width="0.7"/>
<circle cx="185.7" cy="518" r="2.0" fill="none" stroke="#ff1010" stroke-width="0.7"/>
<circle cx="188.45" cy="515.7" r="2.0" fill="none" stroke="#ff1010" stroke-width="0.7"/>
<circle cx="191.2" cy="513.4" r="2.0" fill="none" stroke="#ff1010" stroke-width="0.7"/>
<circle cx="194" cy="510.6" r="2.0" fill="none" stroke="#ff1010" stroke-width="0.7"/>
<circle cx="196.8" cy="507.8" r="2.0" fill="none" stroke="#ff1010" stroke-width="0.7"/>
<circle cx="199.6" cy="505.05" r="2.0" fill="none" stroke="#ff1010" stroke-width="0.7"/>
<circle cx="202.4" cy="502.3" r="2.0" fill="none" stroke="#ff1010" stroke-width="0.7"/>
<circle cx="206.1" cy="497.6" r="2.0" fill="none" stroke="#ff1010" stroke-width="0.7"/>
<circle cx="209.8" cy="493" r="2.0" fill="none" stroke="#ff1010" stroke-width="0.7"/>
<circle cx="211.65" cy="490.2" r="2.0" fill="none" stroke="#ff1010" stroke-width="0.7"/>
<circle cx="213.5" cy="487.4" r="2.0" fill="none" stroke="#ff1010" stroke-width="0.7"/>
<circle cx="215.7" cy="482.8" r="2.0" fill="none" stroke="#ff1010" stroke-width="0.7"/>
<circle cx="217.2" cy="476.8" r="2.0" fill="none" stroke="#ff1010" stroke-width="0.7"/>
<circle cx="220" cy="471.2" r="2.0" fill="none" stroke="#ff1010" stroke-width="0.7"/>
<circle cx="222.8" cy="458.2" r="2.0" fill="none" stroke="#ff1010" stroke-width="0.7"/>
<circle cx="225.9" cy="443.8" r="2.0" fill="none" stroke="#ff1010" stroke-width="0.7"/>
<polyline points="56.09,164.02 56.74,164.02 57.4,164.02 58.06,164.02 58.72,164.02 59.37,164.02 60.03,164.02 60.69,164.02 61.35,164.02 62,164.01 62.66,164.01 63.32,163.99 63.98,163.97 64.64,163.94 65.29,163.9 65.95,163.84 66.61,163.76 67.27,163.64 67.92,163.49 68.58,163.29 69.24,163.04 69.9,162.72 70.55,162.32 71.21,161.83 71.87,161.24 72.53,160.53 73.18,159.68 73.84,158.69 74.5,157.54 75.16,156.22 75.81,154.71 76.47,152.99 77.13,151.07 77.79,148.93 78.45,146.57 79.1,143.99 79.76,141.21 80.42,138.24 81.08,135.1 81.73,131.84 82.39,128.5 83.05,125.12 83.71,121.79 84.36,118.56 85.02,115.51 85.68,112.7 86.34,110.2 86.99,108.07 87.65,106.34 88.31,105.04 88.97,104.18 89.62,103.74 90.28,103.71 90.94,104.05 91.6,104.71 92.26,105.66 92.91,106.85 93.57,108.22 94.23,109.74 94.89,111.37 95.54,113.07 96.2,114.8 96.86,116.56 97.52,118.31 98.17,120.03 98.83,121.73 99.49,123.38 100.15,124.98 100.8,126.52 101.46,128 102.12,129.43 102.78,130.79 103.43,132.09 104.09,133.33 104.75,134.51 105.41,135.64 106.07,136.71 106.72,137.73 107.38,138.69 108.04,139.61 108.7,140.49 109.35,141.32 110.01,142.11 110.67,142.86 111.33,143.57 111.98,144.25 112.64,144.9 113.3,145.52 113.96,146.1 114.61,146.66 115.27,147.2 115.93,147.7 116.59,148.19 117.24,148.65 117.9,149.09 118.56,149.52 119.22,149.92 119.87,150.31 120.53,150.68 121.19,151.03 121.85,151.37 122.51,151.7 123.16,152.01 123.82,152.31 124.48,152.59 125.14,152.87 125.79,153.13 126.45,153.39 127.11,153.63 127.77,153.87 128.42,154.1 129.08,154.31 129.74,154.52 130.4,154.73 131.05,154.92 131.71,155.11 132.37,155.29 133.03,155.47 133.68,155.64 134.34,155.8 135,155.96" fill="none" stroke="#111" stroke-width="1.0" stroke-linejoin="round" stroke-linecap="round" />
<polyline points="76.39,158.28 77.37,158.27 78.36,158.25 79.34,158.22 80.32,158.19 81.3,158.14 82.28,158.08 83.26,158.01 84.25,157.91 85.23,157.8 86.21,157.66 87.19,157.49 88.17,157.3 89.15,157.06 90.14,156.79 91.12,156.48 92.1,156.12 93.08,155.71 94.06,155.24 95.04,154.71 96.03,154.12 97.01,153.47 97.99,152.74 98.97,151.94 99.95,151.06 100.94,150.11 101.92,149.08 102.9,147.96 103.88,146.77 104.86,145.5 105.84,144.16 106.83,142.76 107.81,141.28 108.79,139.76 109.77,138.19 110.75,136.6 111.73,134.98 112.72,133.37 113.7,131.76 114.68,130.19 115.66,128.68 116.64,127.22 117.62,125.86 118.61,124.59 119.59,123.44 120.57,122.41 121.55,121.52 122.53,120.77 123.52,120.17 124.5,119.71 125.48,119.39 126.46,119.22 127.44,119.17 128.42,119.25 129.41,119.44 130.39,119.73 131.37,120.12 132.35,120.58 133.33,121.12 134.31,121.71 135.3,122.36 136.28,123.04 137.26,123.75 138.24,124.49 139.22,125.24 140.2,126 141.19,126.77 142.17,127.54 143.15,128.3 144.13,129.06 145.11,129.8 146.1,130.54 147.08,131.26 148.06,131.96 149.04,132.65 150.02,133.32 151,133.97 151.99,134.61 152.97,135.23 153.95,135.82 154.93,136.4 155.91,136.96 156.89,137.5 157.88,138.03 158.86,138.54 159.84,139.03 160.82,139.5 161.8,139.96 162.78,140.4 163.77,140.83 164.75,141.24 165.73,141.64 166.71,142.02 167.69,142.4 168.67,142.76 169.66,143.1 170.64,143.44 171.62,143.76 172.6,144.08 173.58,144.38 174.57,144.67 175.55,144.95 176.53,145.23 177.51,145.49 178.49,145.75 179.47,146 180.46,146.24 181.44,146.47 182.42,146.7 183.4,146.91 184.38,147.13 185.36,147.33 186.35,147.53 187.33,147.72 188.31,147.91 189.29,148.09 190.27,148.27 191.25,148.44 192.24,148.6 193.22,148.77 194.2,148.92" fill="none" stroke="#111" stroke-width="1.0" stroke-linejoin="round" stroke-linecap="round" />
<polyline points="340.92,163.65 341.38,163.61 341.85,163.56 342.31,163.5 342.78,163.44 343.24,163.35 343.71,163.26 344.17,163.14 344.63,163 345.1,162.84 345.56,162.66 346.03,162.44 346.49,162.2 346.96,161.91 347.42,161.59 347.88,161.23 348.35,160.82 348.81,160.36 349.28,159.84 349.74,159.26 350.21,158.63 350.67,157.92 351.14,157.14 351.6,156.28 352.06,155.35 352.53,154.33 352.99,153.22 353.46,152.01 353.92,150.71 354.39,149.31 354.85,147.81 355.31,146.21 355.78,144.5 356.24,142.69 356.71,140.78 357.17,138.77 357.64,136.67 358.1,134.49 358.56,132.22 359.03,129.89 359.49,127.5 359.96,125.07 360.42,122.62 360.89,120.16 361.35,117.73 361.82,115.32 362.28,112.98 362.74,110.73 363.21,108.58 363.67,106.56 364.14,104.7 364.6,103 365.07,101.49 365.53,100.17 365.99,99.07 366.46,98.18 366.92,97.5 367.39,97.04 367.85,96.79 368.32,96.75 368.78,96.9 369.25,97.23 369.71,97.72 370.17,98.37 370.64,99.15 371.1,100.05 371.57,101.06 372.03,102.15 372.5,103.32 372.96,104.55 373.42,105.82 373.89,107.13 374.35,108.46 374.82,109.81 375.28,111.17 375.75,112.52 376.21,113.87 376.67,115.2 377.14,116.52 377.6,117.81 378.07,119.09 378.53,120.33 379,121.55 379.46,122.74 379.93,123.9 380.39,125.02 380.85,126.11 381.32,127.17 381.78,128.2 382.25,129.2 382.71,130.16 383.18,131.09 383.64,132 384.1,132.87 384.57,133.71 385.03,134.52 385.5,135.31 385.96,136.07 386.43,136.8 386.89,137.51 387.36,138.19 387.82,138.85 388.28,139.49 388.75,140.1 389.21,140.7 389.68,141.27 390.14,141.83 390.61,142.36 391.07,142.88 391.53,143.38 392,143.86 392.46,144.33 392.93,144.78 393.39,145.21 393.86,145.64 394.32,146.04 394.78,146.44 395.25,146.82 395.71,147.19 396.18,147.55 396.64,147.89" fill="none" stroke="#111" stroke-width="1.0" stroke-linejoin="round" stroke-linecap="round" />
<polyline points="381.82,151.47 382.57,150.07 383.31,148.56 384.06,146.94 384.81,145.23 385.55,143.4 386.3,141.47 387.04,139.44 387.79,137.3 388.54,135.07 389.28,132.76 390.03,130.37 390.77,127.91 391.52,125.4 392.27,122.85 393.01,120.29 393.76,117.73 394.5,115.19 395.25,112.71 396,110.3 396.74,107.98 397.49,105.79 398.23,103.75 398.98,101.88 399.72,100.19 400.47,98.72 401.22,97.46 401.96,96.42 402.71,95.62 403.45,95.06 404.2,94.73 404.95,94.62 405.69,94.72 406.44,95.03 407.18,95.53 407.93,96.21 408.68,97.03 409.42,98 410.17,99.08 410.91,100.27 411.66,101.54 412.41,102.89 413.15,104.28 413.9,105.72 414.64,107.19 415.39,108.68 416.14,110.17 416.88,111.66 417.63,113.15 418.37,114.62 419.12,116.07 419.87,117.5 420.61,118.9 421.36,120.27 422.1,121.6 422.85,122.9 423.6,124.17 424.34,125.4 425.09,126.59 425.83,127.75 426.58,128.87 427.32,129.95 428.07,131 428.82,132.01 429.56,132.98 430.31,133.93 431.05,134.83 431.8,135.71 432.55,136.56 433.29,137.37 434.04,138.16 434.78,138.91 435.53,139.64 436.28,140.34 437.02,141.02 437.77,141.68 438.51,142.31 439.26,142.91 440.01,143.5 440.75,144.06 441.5,144.61 442.24,145.13 442.99,145.64 443.74,146.13 444.48,146.6 445.23,147.06 445.97,147.5 446.72,147.92 447.47,148.33 448.21,148.73 448.96,149.11 449.7,149.48 450.45,149.84 451.19,150.19 451.94,150.52 452.69,150.85 453.43,151.16 454.18,151.46 454.92,151.76 455.67,152.04 456.42,152.32 457.16,152.59 457.91,152.85 458.65,153.1 459.4,153.34 460.15,153.58 460.89,153.81 461.64,154.03 462.38,154.24 463.13,154.45 463.88,154.66 464.62,154.85 465.37,155.04 466.11,155.23 466.86,155.41 467.61,155.59 468.35,155.76 469.1,155.93 469.84,156.09 470.59,156.24 471.34,156.4" fill="none" stroke="#111" stroke-width="1.0" stroke-linejoin="round" stroke-linecap="round" />
<polyline points="68.69,363.94 69.27,363.92 69.85,363.9 70.43,363.88 71.01,363.73 71.59,363.57 72.17,363.4 72.75,363.22 73.32,363.02 73.9,362.81 74.48,362.58 75.06,362.33 75.64,362.05 76.22,361.75 76.8,361.42 77.38,361.06 77.96,360.66 78.54,360.22 79.12,359.75 79.7,359.22 80.28,358.65 80.86,358.03 81.44,357.35 82.02,356.61 82.6,355.81 83.18,354.94 83.75,354.01 84.33,353.02 84.91,351.95 85.49,350.81 86.07,349.6 86.65,348.33 87.23,346.99 87.81,345.59 88.39,344.14 88.97,342.64 89.55,341.1 90.13,339.53 90.71,337.95 91.29,336.36 91.87,334.79 92.45,333.25 93.03,331.76 93.61,330.33 94.18,328.97 94.76,327.71 95.34,326.56 95.92,325.53 96.5,324.62 97.08,323.85 97.66,323.22 98.24,322.73 98.82,322.37 99.4,322.15 99.98,322.05 100.56,322.07 101.14,322.19 101.72,322.41 102.3,322.72 102.88,323.11 103.46,323.56 104.04,324.06 104.61,324.6 105.19,325.19 105.77,325.79 106.35,326.42 106.93,327.06 107.51,327.7 108.09,328.34 108.67,328.98 109.25,329.62 109.83,330.24 110.41,330.85 110.99,331.45 111.57,332.03 112.15,332.6 112.73,333.14 113.31,333.67 113.89,334.17 114.47,334.66 115.04,335.13 115.62,335.58 116.2,336 116.78,336.41 117.36,336.81 117.94,337.18 118.52,337.54 119.1,337.87 119.68,338.2 120.26,338.5 120.84,338.79 121.42,339.07 122,339.33 122.58,339.58 123.16,339.81 123.74,340.03 124.32,340.24 124.9,340.44 125.47,340.62 126.05,340.8 126.63,340.96 127.21,341.12 127.79,341.26 128.37,341.4 128.95,341.52 129.53,341.64 130.11,341.75 130.69,341.85 131.27,341.95 131.85,342.03 132.43,342.11 133.01,342.19 133.59,342.26 134.17,342.32 134.75,342.37 135.32,342.42 135.9,342.47 136.48,342.51 137.06,342.54 137.64,342.57 138.22,342.6" fill="none" stroke="#111" stroke-width="1.0" stroke-linejoin="round" stroke-linecap="round" />
<polyline points="330.8,361.3 331.37,361.27 332.16,361.24 333.09,361.21 334.09,361.16 335.08,361.09 336,361 336.87,360.9 337.76,360.8 338.64,360.67 339.49,360.53 340.28,360.34 341,360.1 341.62,359.82 342.17,359.51 342.66,359.16 343.11,358.76 343.55,358.31 344,357.8 344.45,357.22 344.89,356.57 345.31,355.88 345.72,355.14 346.12,354.37 346.5,353.6 346.86,352.81 347.21,352 347.54,351.16 347.87,350.3 348.18,349.41 348.5,348.5 348.81,347.57 349.11,346.61 349.41,345.64 349.7,344.63 350,343.59 350.3,342.5 350.61,341.36 350.93,340.17 351.25,338.94 351.57,337.7 351.89,336.44 352.2,335.2 352.5,333.96 352.8,332.7 353.1,331.44 353.4,330.19 353.7,328.93 354,327.7 354.31,326.47 354.63,325.23 354.95,323.99 355.27,322.79 355.59,321.62 355.9,320.5 356.21,319.44 356.52,318.42 356.82,317.44 357.13,316.5 357.42,315.59 357.7,314.7 357.97,313.82 358.23,312.96 358.48,312.12 358.73,311.34 358.97,310.63 359.2,310 359.43,309.46 359.65,308.98 359.86,308.57 360.07,308.23 360.29,307.98 360.5,307.8 360.72,307.71 360.93,307.72 361.14,307.8 361.36,307.95 361.58,308.15 361.8,308.4 362.02,308.69 362.24,309.03 362.47,309.42 362.7,309.88 362.94,310.4 363.2,311 363.47,311.68 363.76,312.45 364.06,313.28 364.37,314.16 364.68,315.08 365,316 365.31,316.96 365.63,317.96 365.95,318.99 366.28,320.04 366.63,321.08 367,322.1 367.4,323.1 367.81,324.11 368.24,325.11 368.69,326.09 369.14,327.06 369.6,328 370.07,328.92 370.55,329.83 371.04,330.71 371.54,331.57 372.02,332.41 372.5,333.2 372.96,333.96 373.41,334.67 373.85,335.36 374.29,336.03 374.74,336.67 375.2,337.3 375.67,337.92 376.15,338.51 376.64,339.09 377.13,339.64 377.61,340.18 378.1,340.7 378.62,341.22 379.17,341.75 379.73,342.26 380.25,342.73 380.68,343.11 381,343.4" fill="none" stroke="#111" stroke-width="1.0" stroke-linejoin="round" stroke-linecap="round" />
<polyline points="348.77,365 349.81,365 350.85,364.99 351.89,364.99 352.93,364.99 353.97,364.98 355.01,364.97 356.05,364.96 357.09,364.94 358.13,364.91 359.17,364.86 360.21,364.8 361.25,364.72 362.29,364.61 363.33,364.47 364.37,364.28 365.41,364.04 366.45,363.73 367.49,363.35 368.53,362.87 369.57,362.28 370.61,361.56 371.65,360.69 372.69,359.66 373.73,358.42 374.77,356.96 375.81,355.25 376.85,353.26 377.89,350.95 378.93,348.3 379.97,345.28 381.01,341.85 382.05,337.97 383.09,333.63 384.13,328.8 385.17,323.47 386.21,317.61 387.25,311.25 388.29,304.39 389.33,297.08 390.37,289.37 391.41,281.35 392.45,273.12 393.49,264.83 394.53,256.63 395.57,248.71 396.61,241.25 397.65,234.43 398.69,228.44 399.73,223.42 400.77,219.49 401.81,216.71 402.85,215.12 403.89,214.68 404.93,215.33 405.97,216.97 407.01,219.48 408.05,222.73 409.09,226.57 410.13,230.87 411.17,235.51 412.21,240.37 413.25,245.36 414.29,250.39 415.33,255.4 416.37,260.34 417.41,265.15 418.45,269.82 419.49,274.33 420.53,278.65 421.57,282.78 422.61,286.71 423.65,290.45 424.69,294 425.73,297.36 426.77,300.54 427.81,303.55 428.85,306.38 429.89,309.06 430.93,311.59 431.97,313.98 433.01,316.23 434.05,318.36 435.09,320.37 436.13,322.26 437.17,324.06 438.21,325.75 439.25,327.35 440.29,328.86 441.33,330.29 442.37,331.65 443.41,332.93 444.45,334.15 445.49,335.3 446.53,336.39 447.57,337.43 448.61,338.42 449.65,339.36 450.69,340.25 451.73,341.09 452.77,341.9 453.81,342.67 454.85,343.4 455.89,344.1 456.93,344.77 457.97,345.4 459.01,346.01 460.05,346.59 461.09,347.14 462.13,347.68 463.17,348.18 464.21,348.67 465.25,349.13 466.29,349.58 467.33,350.01 468.37,350.42 469.41,350.81 470.45,351.19 471.49,351.55 472.53,351.9 473.57,352.24" fill="none" stroke="#111" stroke-width="1.0" stroke-linejoin="round" stroke-linecap="round" />
<polyline points="60.84,566.14 61.48,566.14 62.12,566.14 62.75,566.14 63.39,566.14 64.03,566.14 64.66,566.14 65.3,566.13 65.94,566.13 66.57,566.12 67.21,566.11 67.85,566.09 68.49,566.06 69.12,566.01 69.76,565.94 70.4,565.85 71.03,565.72 71.67,565.55 72.31,565.32 72.94,565.01 73.58,564.62 74.22,564.13 74.86,563.5 75.49,562.73 76.13,561.79 76.77,560.64 77.4,559.26 78.04,557.63 78.68,555.7 79.31,553.44 79.95,550.83 80.59,547.82 81.22,544.39 81.86,540.51 82.5,536.16 83.14,531.32 83.77,526.01 84.41,520.22 85.05,514 85.68,507.41 86.32,500.51 86.96,493.44 87.59,486.31 88.23,479.31 88.87,472.6 89.5,466.37 90.14,460.7 90.78,455.7 91.42,451.65 92.05,448.63 92.69,446.67 93.33,445.75 93.96,445.83 94.6,446.81 95.24,448.56 95.87,450.97 96.51,453.9 97.15,457.22 97.78,460.83 98.42,464.6 99.06,468.47 99.7,472.36 100.33,476.21 100.97,479.97 101.61,483.62 102.24,487.14 102.88,490.5 103.52,493.69 104.15,496.72 104.79,499.59 105.43,502.29 106.07,504.82 106.7,507.2 107.34,509.44 107.98,511.52 108.61,513.48 109.25,515.3 109.89,517.01 110.52,518.6 111.16,520.08 111.8,521.47 112.43,522.76 113.07,523.96 113.71,525.08 114.35,526.12 114.98,527.1 115.62,528 116.26,528.84 116.89,529.63 117.53,530.36 118.17,531.03 118.8,531.66 119.44,532.25 120.08,532.79 120.71,533.29 121.35,533.76 121.99,534.19 122.63,534.58 123.26,534.95 123.9,535.29 124.54,535.6 125.17,535.88 125.81,536.14 126.45,536.38 127.08,536.6 127.72,536.79 128.36,536.97 128.99,537.13 129.63,537.27 130.27,537.39 130.91,537.5 131.54,537.6 132.18,537.68 132.82,537.75 133.45,537.8 134.09,537.85 134.73,537.88 135.36,537.9 136,537.91 136.64,537.91 137.28,537.91" fill="none" stroke="#111" stroke-width="1.0" stroke-linejoin="round" stroke-linecap="round" />
<polyline points="105.6,555.3 106.13,554.91 106.87,554.39 107.74,553.76 108.68,553.06 109.62,552.29 110.5,551.5 111.35,550.63 112.23,549.66 113.12,548.63 113.98,547.59 114.78,546.6 115.5,545.7 116.12,544.92 116.66,544.21 117.15,543.56 117.6,542.91 118.05,542.23 118.5,541.5 118.95,540.72 119.39,539.93 119.81,539.12 120.23,538.27 120.65,537.36 121.1,536.4 121.57,535.37 122.06,534.27 122.55,533.13 123.04,531.95 123.53,530.73 124,529.5 124.45,528.23 124.88,526.91 125.3,525.57 125.72,524.21 126.15,522.85 126.6,521.5 127.07,520.15 127.55,518.79 128.04,517.43 128.54,516.08 129.02,514.76 129.5,513.5 129.97,512.27 130.43,511.06 130.89,509.88 131.34,508.74 131.78,507.68 132.2,506.7 132.61,505.81 133,505 133.38,504.26 133.75,503.57 134.12,502.92 134.5,502.3 134.88,501.71 135.27,501.16 135.66,500.65 136.04,500.17 136.42,499.73 136.8,499.3 137.17,498.89 137.54,498.51 137.91,498.16 138.28,497.84 138.64,497.55 139,497.3 139.35,497.08 139.7,496.9 140.04,496.76 140.38,496.64 140.73,496.56 141.1,496.5 141.47,496.47 141.85,496.46 142.23,496.49 142.63,496.55 143.05,496.65 143.5,496.8 143.99,496.99 144.52,497.23 145.08,497.51 145.63,497.83 146.18,498.19 146.7,498.6 147.19,499.07 147.66,499.59 148.12,500.16 148.58,500.76 149.04,501.38 149.5,502 149.97,502.63 150.44,503.3 150.91,503.98 151.37,504.66 151.84,505.34 152.3,506 152.75,506.65 153.2,507.29 153.65,507.93 154.1,508.56 154.55,509.18 155,509.8 155.46,510.41 155.91,511.02 156.37,511.62 156.83,512.22 157.31,512.81 157.8,513.4 158.31,513.99 158.83,514.57 159.37,515.15 159.91,515.72 160.46,516.27 161,516.8 161.55,517.31 162.1,517.8 162.65,518.27 163.2,518.73 163.75,519.17 164.3,519.6 164.84,520.01 165.37,520.4 165.9,520.77 166.43,521.13 166.96,521.47 167.5,521.8 168.04,522.12 168.58,522.42 169.12,522.71 169.67,522.99 170.23,523.25 170.8,523.5 171.39,523.73 172,523.95 172.62,524.16 173.25,524.35 173.88,524.53 174.5,524.7 175.12,524.86 175.75,525.01 176.37,525.14 177,525.27 177.61,525.39 178.2,525.5 178.77,525.6 179.33,525.69 179.88,525.78 180.42,525.85 180.96,525.93 181.5,526 182.08,526.08 182.69,526.16 183.31,526.23 183.87,526.3 184.35,526.36 184.7,526.4" fill="none" stroke="#111" stroke-width="1.0" stroke-linejoin="round" stroke-linecap="round" />
<line x1="46.2" y1="172.2" x2="46.2" y2="169.2" stroke="#1a1a1a" stroke-width="1.05"/>
<line x1="46.2" y1="1.5" x2="46.2" y2="4.5" stroke="#1a1a1a" stroke-width="1.05"/>
<line x1="52.12" y1="172.2" x2="52.12" y2="169.2" stroke="#1a1a1a" stroke-width="1.05"/>
<line x1="52.12" y1="1.5" x2="52.12" y2="4.5" stroke="#1a1a1a" stroke-width="1.05"/>
<line x1="58.04" y1="172.2" x2="58.04" y2="169.2" stroke="#1a1a1a" stroke-width="1.05"/>
<line x1="58.04" y1="1.5" x2="58.04" y2="4.5" stroke="#1a1a1a" stroke-width="1.05"/>
<line x1="63.96" y1="172.2" x2="63.96" y2="169.2" stroke="#1a1a1a" stroke-width="1.05"/>
<line x1="63.96" y1="1.5" x2="63.96" y2="4.5" stroke="#1a1a1a" stroke-width="1.05"/>
<line x1="69.88" y1="172.2" x2="69.88" y2="169.2" stroke="#1a1a1a" stroke-width="1.05"/>
<line x1="69.88" y1="1.5" x2="69.88" y2="4.5" stroke="#1a1a1a" stroke-width="1.05"/>
<line x1="75.8" y1="172.2" x2="75.8" y2="169.2" stroke="#1a1a1a" stroke-width="1.05"/>
<line x1="75.8" y1="1.5" x2="75.8" y2="4.5" stroke="#1a1a1a" stroke-width="1.05"/>
<line x1="81.72" y1="172.2" x2="81.72" y2="169.2" stroke="#1a1a1a" stroke-width="1.05"/>
<line x1="81.72" y1="1.5" x2="81.72" y2="4.5" stroke="#1a1a1a" stroke-width="1.05"/>
<line x1="87.64" y1="172.2" x2="87.64" y2="169.2" stroke="#1a1a1a" stroke-width="1.05"/>
<line x1="87.64" y1="1.5" x2="87.64" y2="4.5" stroke="#1a1a1a" stroke-width="1.05"/>
<line x1="93.56" y1="172.2" x2="93.56" y2="169.2" stroke="#1a1a1a" stroke-width="1.05"/>
<line x1="93.56" y1="1.5" x2="93.56" y2="4.5" stroke="#1a1a1a" stroke-width="1.05"/>
<line x1="99.48" y1="172.2" x2="99.48" y2="169.2" stroke="#1a1a1a" stroke-width="1.05"/>
<line x1="99.48" y1="1.5" x2="99.48" y2="4.5" stroke="#1a1a1a" stroke-width="1.05"/>
<line x1="105.4" y1="172.2" x2="105.4" y2="169.2" stroke="#1a1a1a" stroke-width="1.05"/>
<line x1="105.4" y1="1.5" x2="105.4" y2="4.5" stroke="#1a1a1a" stroke-width="1.05"/>
<line x1="111.32" y1="172.2" x2="111.32" y2="169.2" stroke="#1a1a1a" stroke-width="1.05"/>
<line x1="111.32" y1="1.5" x2="111.32" y2="4.5" stroke="#1a1a1a" stroke-width="1.05"/>
<line x1="117.24" y1="172.2" x2="117.24" y2="169.2" stroke="#1a1a1a" stroke-width="1.05"/>
<line x1="117.24" y1="1.5" x2="117.24" y2="4.5" stroke="#1a1a1a" stroke-width="1.05"/>
<line x1="123.16" y1="172.2" x2="123.16" y2="169.2" stroke="#1a1a1a" stroke-width="1.05"/>
<line x1="123.16" y1="1.5" x2="123.16" y2="4.5" stroke="#1a1a1a" stroke-width="1.05"/>
<line x1="129.08" y1="172.2" x2="129.08" y2="169.2" stroke="#1a1a1a" stroke-width="1.05"/>
<line x1="129.08" y1="1.5" x2="129.08" y2="4.5" stroke="#1a1a1a" stroke-width="1.05"/>
<line x1="135" y1="172.2" x2="135" y2="169.2" stroke="#1a1a1a" stroke-width="1.05"/>
<line x1="135" y1="1.5" x2="135" y2="4.5" stroke="#1a1a1a" stroke-width="1.05"/>
<line x1="140.92" y1="172.2" x2="140.92" y2="169.2" stroke="#1a1a1a" stroke-width="1.05"/>
<line x1="140.92" y1="1.5" x2="140.92" y2="4.5" stroke="#1a1a1a" stroke-width="1.05"/>
<line x1="146.84" y1="172.2" x2="146.84" y2="169.2" stroke="#1a1a1a" stroke-width="1.05"/>
<line x1="146.84" y1="1.5" x2="146.84" y2="4.5" stroke="#1a1a1a" stroke-width="1.05"/>
<line x1="152.76" y1="172.2" x2="152.76" y2="169.2" stroke="#1a1a1a" stroke-width="1.05"/>
<line x1="152.76" y1="1.5" x2="152.76" y2="4.5" stroke="#1a1a1a" stroke-width="1.05"/>
<line x1="158.68" y1="172.2" x2="158.68" y2="169.2" stroke="#1a1a1a" stroke-width="1.05"/>
<line x1="158.68" y1="1.5" x2="158.68" y2="4.5" stroke="#1a1a1a" stroke-width="1.05"/>
<line x1="164.6" y1="172.2" x2="164.6" y2="169.2" stroke="#1a1a1a" stroke-width="1.05"/>
<line x1="164.6" y1="1.5" x2="164.6" y2="4.5" stroke="#1a1a1a" stroke-width="1.05"/>
<line x1="170.52" y1="172.2" x2="170.52" y2="169.2" stroke="#1a1a1a" stroke-width="1.05"/>
<line x1="170.52" y1="1.5" x2="170.52" y2="4.5" stroke="#1a1a1a" stroke-width="1.05"/>
<line x1="176.44" y1="172.2" x2="176.44" y2="169.2" stroke="#1a1a1a" stroke-width="1.05"/>
<line x1="176.44" y1="1.5" x2="176.44" y2="4.5" stroke="#1a1a1a" stroke-width="1.05"/>
<line x1="182.36" y1="172.2" x2="182.36" y2="169.2" stroke="#1a1a1a" stroke-width="1.05"/>
<line x1="182.36" y1="1.5" x2="182.36" y2="4.5" stroke="#1a1a1a" stroke-width="1.05"/>
<line x1="188.28" y1="172.2" x2="188.28" y2="169.2" stroke="#1a1a1a" stroke-width="1.05"/>
<line x1="188.28" y1="1.5" x2="188.28" y2="4.5" stroke="#1a1a1a" stroke-width="1.05"/>
<line x1="194.2" y1="172.2" x2="194.2" y2="169.2" stroke="#1a1a1a" stroke-width="1.05"/>
<line x1="194.2" y1="1.5" x2="194.2" y2="4.5" stroke="#1a1a1a" stroke-width="1.05"/>
<line x1="200.12" y1="172.2" x2="200.12" y2="169.2" stroke="#1a1a1a" stroke-width="1.05"/>
<line x1="200.12" y1="1.5" x2="200.12" y2="4.5" stroke="#1a1a1a" stroke-width="1.05"/>
<line x1="206.04" y1="172.2" x2="206.04" y2="169.2" stroke="#1a1a1a" stroke-width="1.05"/>
<line x1="206.04" y1="1.5" x2="206.04" y2="4.5" stroke="#1a1a1a" stroke-width="1.05"/>
<line x1="211.96" y1="172.2" x2="211.96" y2="169.2" stroke="#1a1a1a" stroke-width="1.05"/>
<line x1="211.96" y1="1.5" x2="211.96" y2="4.5" stroke="#1a1a1a" stroke-width="1.05"/>
<line x1="217.88" y1="172.2" x2="217.88" y2="169.2" stroke="#1a1a1a" stroke-width="1.05"/>
<line x1="217.88" y1="1.5" x2="217.88" y2="4.5" stroke="#1a1a1a" stroke-width="1.05"/>
<line x1="223.8" y1="172.2" x2="223.8" y2="169.2" stroke="#1a1a1a" stroke-width="1.05"/>
<line x1="223.8" y1="1.5" x2="223.8" y2="4.5" stroke="#1a1a1a" stroke-width="1.05"/>
<line x1="46.2" y1="172.2" x2="46.2" y2="166.2" stroke="#1a1a1a" stroke-width="1.05"/>
<line x1="46.2" y1="1.5" x2="46.2" y2="7.5" stroke="#1a1a1a" stroke-width="1.05"/>
<line x1="75.8" y1="172.2" x2="75.8" y2="166.2" stroke="#1a1a1a" stroke-width="1.05"/>
<line x1="75.8" y1="1.5" x2="75.8" y2="7.5" stroke="#1a1a1a" stroke-width="1.05"/>
<line x1="105.4" y1="172.2" x2="105.4" y2="166.2" stroke="#1a1a1a" stroke-width="1.05"/>
<line x1="105.4" y1="1.5" x2="105.4" y2="7.5" stroke="#1a1a1a" stroke-width="1.05"/>
<line x1="135" y1="172.2" x2="135" y2="166.2" stroke="#1a1a1a" stroke-width="1.05"/>
<line x1="135" y1="1.5" x2="135" y2="7.5" stroke="#1a1a1a" stroke-width="1.05"/>
<line x1="164.6" y1="172.2" x2="164.6" y2="166.2" stroke="#1a1a1a" stroke-width="1.05"/>
<line x1="164.6" y1="1.5" x2="164.6" y2="7.5" stroke="#1a1a1a" stroke-width="1.05"/>
<line x1="194.2" y1="172.2" x2="194.2" y2="166.2" stroke="#1a1a1a" stroke-width="1.05"/>
<line x1="194.2" y1="1.5" x2="194.2" y2="7.5" stroke="#1a1a1a" stroke-width="1.05"/>
<line x1="223.8" y1="172.2" x2="223.8" y2="166.2" stroke="#1a1a1a" stroke-width="1.05"/>
<line x1="223.8" y1="1.5" x2="223.8" y2="7.5" stroke="#1a1a1a" stroke-width="1.05"/>
<line x1="42.8" y1="168.35" x2="45.8" y2="168.35" stroke="#1a1a1a" stroke-width="1.05"/>
<line x1="42.8" y1="164" x2="45.8" y2="164" stroke="#1a1a1a" stroke-width="1.05"/>
<line x1="42.8" y1="159.65" x2="45.8" y2="159.65" stroke="#1a1a1a" stroke-width="1.05"/>
<line x1="42.8" y1="155.3" x2="45.8" y2="155.3" stroke="#1a1a1a" stroke-width="1.05"/>
<line x1="42.8" y1="150.95" x2="45.8" y2="150.95" stroke="#1a1a1a" stroke-width="1.05"/>
<line x1="42.8" y1="146.6" x2="45.8" y2="146.6" stroke="#1a1a1a" stroke-width="1.05"/>
<line x1="42.8" y1="142.25" x2="45.8" y2="142.25" stroke="#1a1a1a" stroke-width="1.05"/>
<line x1="42.8" y1="137.9" x2="45.8" y2="137.9" stroke="#1a1a1a" stroke-width="1.05"/>
<line x1="42.8" y1="133.55" x2="45.8" y2="133.55" stroke="#1a1a1a" stroke-width="1.05"/>
<line x1="42.8" y1="129.2" x2="45.8" y2="129.2" stroke="#1a1a1a" stroke-width="1.05"/>
<line x1="42.8" y1="124.85" x2="45.8" y2="124.85" stroke="#1a1a1a" stroke-width="1.05"/>
<line x1="42.8" y1="120.5" x2="45.8" y2="120.5" stroke="#1a1a1a" stroke-width="1.05"/>
<line x1="42.8" y1="116.15" x2="45.8" y2="116.15" stroke="#1a1a1a" stroke-width="1.05"/>
<line x1="42.8" y1="111.8" x2="45.8" y2="111.8" stroke="#1a1a1a" stroke-width="1.05"/>
<line x1="42.8" y1="107.45" x2="45.8" y2="107.45" stroke="#1a1a1a" stroke-width="1.05"/>
<line x1="42.8" y1="103.1" x2="45.8" y2="103.1" stroke="#1a1a1a" stroke-width="1.05"/>
<line x1="42.8" y1="98.75" x2="45.8" y2="98.75" stroke="#1a1a1a" stroke-width="1.05"/>
<line x1="42.8" y1="94.4" x2="45.8" y2="94.4" stroke="#1a1a1a" stroke-width="1.05"/>
<line x1="42.8" y1="90.05" x2="45.8" y2="90.05" stroke="#1a1a1a" stroke-width="1.05"/>
<line x1="42.8" y1="85.7" x2="45.8" y2="85.7" stroke="#1a1a1a" stroke-width="1.05"/>
<line x1="42.8" y1="81.35" x2="45.8" y2="81.35" stroke="#1a1a1a" stroke-width="1.05"/>
<line x1="42.8" y1="77" x2="45.8" y2="77" stroke="#1a1a1a" stroke-width="1.05"/>
<line x1="42.8" y1="72.65" x2="45.8" y2="72.65" stroke="#1a1a1a" stroke-width="1.05"/>
<line x1="42.8" y1="68.3" x2="45.8" y2="68.3" stroke="#1a1a1a" stroke-width="1.05"/>
<line x1="42.8" y1="63.95" x2="45.8" y2="63.95" stroke="#1a1a1a" stroke-width="1.05"/>
<line x1="42.8" y1="59.6" x2="45.8" y2="59.6" stroke="#1a1a1a" stroke-width="1.05"/>
<line x1="42.8" y1="55.25" x2="45.8" y2="55.25" stroke="#1a1a1a" stroke-width="1.05"/>
<line x1="42.8" y1="50.9" x2="45.8" y2="50.9" stroke="#1a1a1a" stroke-width="1.05"/>
<line x1="42.8" y1="46.55" x2="45.8" y2="46.55" stroke="#1a1a1a" stroke-width="1.05"/>
<line x1="42.8" y1="42.2" x2="45.8" y2="42.2" stroke="#1a1a1a" stroke-width="1.05"/>
<line x1="42.8" y1="37.85" x2="45.8" y2="37.85" stroke="#1a1a1a" stroke-width="1.05"/>
<line x1="42.8" y1="33.5" x2="45.8" y2="33.5" stroke="#1a1a1a" stroke-width="1.05"/>
<line x1="42.8" y1="29.15" x2="45.8" y2="29.15" stroke="#1a1a1a" stroke-width="1.05"/>
<line x1="42.8" y1="24.8" x2="45.8" y2="24.8" stroke="#1a1a1a" stroke-width="1.05"/>
<line x1="42.8" y1="20.45" x2="45.8" y2="20.45" stroke="#1a1a1a" stroke-width="1.05"/>
<line x1="42.8" y1="16.1" x2="45.8" y2="16.1" stroke="#1a1a1a" stroke-width="1.05"/>
<line x1="42.8" y1="11.75" x2="45.8" y2="11.75" stroke="#1a1a1a" stroke-width="1.05"/>
<line x1="42.8" y1="7.4" x2="45.8" y2="7.4" stroke="#1a1a1a" stroke-width="1.05"/>
<line x1="42.8" y1="3.05" x2="45.8" y2="3.05" stroke="#1a1a1a" stroke-width="1.05"/>
<line x1="42.8" y1="168.35" x2="47.3" y2="168.35" stroke="#1a1a1a" stroke-width="1.05"/>
<line x1="42.8" y1="124.85" x2="47.3" y2="124.85" stroke="#1a1a1a" stroke-width="1.05"/>
<line x1="42.8" y1="81.35" x2="47.3" y2="81.35" stroke="#1a1a1a" stroke-width="1.05"/>
<line x1="42.8" y1="37.85" x2="47.3" y2="37.85" stroke="#1a1a1a" stroke-width="1.05"/>
<line x1="42.8" y1="146.6" x2="48.8" y2="146.6" stroke="#1a1a1a" stroke-width="1.05"/>
<line x1="42.8" y1="103.1" x2="48.8" y2="103.1" stroke="#1a1a1a" stroke-width="1.05"/>
<line x1="42.8" y1="59.6" x2="48.8" y2="59.6" stroke="#1a1a1a" stroke-width="1.05"/>
<line x1="42.8" y1="16.1" x2="48.8" y2="16.1" stroke="#1a1a1a" stroke-width="1.05"/>
<line x1="227.6" y1="168.1" x2="224.6" y2="168.1" stroke="#1a1a1a" stroke-width="1.05"/>
<line x1="227.6" y1="159.94" x2="224.6" y2="159.94" stroke="#1a1a1a" stroke-width="1.05"/>
<line x1="227.6" y1="151.79" x2="224.6" y2="151.79" stroke="#1a1a1a" stroke-width="1.05"/>
<line x1="227.6" y1="143.63" x2="224.6" y2="143.63" stroke="#1a1a1a" stroke-width="1.05"/>
<line x1="227.6" y1="135.48" x2="224.6" y2="135.48" stroke="#1a1a1a" stroke-width="1.05"/>
<line x1="227.6" y1="127.32" x2="224.6" y2="127.32" stroke="#1a1a1a" stroke-width="1.05"/>
<line x1="227.6" y1="119.17" x2="224.6" y2="119.17" stroke="#1a1a1a" stroke-width="1.05"/>
<line x1="227.6" y1="111.01" x2="224.6" y2="111.01" stroke="#1a1a1a" stroke-width="1.05"/>
<line x1="227.6" y1="102.86" x2="224.6" y2="102.86" stroke="#1a1a1a" stroke-width="1.05"/>
<line x1="227.6" y1="94.7" x2="224.6" y2="94.7" stroke="#1a1a1a" stroke-width="1.05"/>
<line x1="227.6" y1="86.55" x2="224.6" y2="86.55" stroke="#1a1a1a" stroke-width="1.05"/>
<line x1="227.6" y1="78.39" x2="224.6" y2="78.39" stroke="#1a1a1a" stroke-width="1.05"/>
<line x1="227.6" y1="70.24" x2="224.6" y2="70.24" stroke="#1a1a1a" stroke-width="1.05"/>
<line x1="227.6" y1="62.08" x2="224.6" y2="62.08" stroke="#1a1a1a" stroke-width="1.05"/>
<line x1="227.6" y1="53.93" x2="224.6" y2="53.93" stroke="#1a1a1a" stroke-width="1.05"/>
<line x1="227.6" y1="45.78" x2="224.6" y2="45.78" stroke="#1a1a1a" stroke-width="1.05"/>
<line x1="227.6" y1="37.62" x2="224.6" y2="37.62" stroke="#1a1a1a" stroke-width="1.05"/>
<line x1="227.6" y1="29.46" x2="224.6" y2="29.46" stroke="#1a1a1a" stroke-width="1.05"/>
<line x1="227.6" y1="21.31" x2="224.6" y2="21.31" stroke="#1a1a1a" stroke-width="1.05"/>
<line x1="227.6" y1="13.16" x2="224.6" y2="13.16" stroke="#1a1a1a" stroke-width="1.05"/>
<line x1="227.6" y1="5" x2="224.6" y2="5" stroke="#1a1a1a" stroke-width="1.05"/>
<line x1="227.6" y1="168.1" x2="221.6" y2="168.1" stroke="#1a1a1a" stroke-width="1.05"/>
<line x1="227.6" y1="135.48" x2="221.6" y2="135.48" stroke="#1a1a1a" stroke-width="1.05"/>
<line x1="227.6" y1="102.86" x2="221.6" y2="102.86" stroke="#1a1a1a" stroke-width="1.05"/>
<line x1="227.6" y1="70.24" x2="221.6" y2="70.24" stroke="#1a1a1a" stroke-width="1.05"/>
<line x1="227.6" y1="37.62" x2="221.6" y2="37.62" stroke="#1a1a1a" stroke-width="1.05"/>
<line x1="227.6" y1="5" x2="221.6" y2="5" stroke="#1a1a1a" stroke-width="1.05"/>
<rect x="42.8" y="1.5" width="184.8" height="170.7" fill="none" stroke="#1a1a1a" stroke-width="1.1"/>
<text transform="translate(46.2,184.2) scale(1,1.08)" font-size="9.5" text-anchor="middle" >0</text>
<text transform="translate(75.8,184.2) scale(1,1.08)" font-size="9.5" text-anchor="middle" >50</text>
<text transform="translate(105.4,184.2) scale(1,1.08)" font-size="9.5" text-anchor="middle" >100</text>
<text transform="translate(135,184.2) scale(1,1.08)" font-size="9.5" text-anchor="middle" >150</text>
<text transform="translate(164.6,184.2) scale(1,1.08)" font-size="9.5" text-anchor="middle" >200</text>
<text transform="translate(194.2,184.2) scale(1,1.08)" font-size="9.5" text-anchor="middle" >250</text>
<text transform="translate(223.8,184.2) scale(1,1.08)" font-size="9.5" text-anchor="middle" >300</text>
<text transform="translate(231,171.5) scale(1,1.08)" font-size="9.5" text-anchor="start" >0.000</text>
<text transform="translate(231,138.88) scale(1,1.08)" font-size="9.5" text-anchor="start" >0.002</text>
<text transform="translate(231,106.26) scale(1,1.08)" font-size="9.5" text-anchor="start" >0.004</text>
<text transform="translate(231,73.64) scale(1,1.08)" font-size="9.5" text-anchor="start" >0.006</text>
<text transform="translate(231,41.02) scale(1,1.08)" font-size="9.5" text-anchor="start" >0.008</text>
<text transform="translate(231,8.4) scale(1,1.08)" font-size="9.5" text-anchor="start" >0.010</text>
<text transform="translate(39.5,150.2) scale(1,1.08)" font-size="9.5" text-anchor="end" >6.0</text>
<text transform="translate(39.5,106.7) scale(1,1.08)" font-size="9.5" text-anchor="end" >6.2</text>
<text transform="translate(39.5,63.2) scale(1,1.08)" font-size="9.5" text-anchor="end" >6.4</text>
<text transform="translate(136.6,196.9) scale(1,1.03)" font-size="9.8" text-anchor="middle" ><tspan font-style="italic">T</tspan>  (K)</text>
<text transform="translate(37.3,20.6) scale(1,1.08)" font-size="9.5" text-anchor="end" >6.6 x10<tspan dx="0.7" dy="-4.6" font-size="7.0">5</tspan></text>
<line x1="317.8" y1="173.5" x2="317.8" y2="170.5" stroke="#1a1a1a" stroke-width="1.05"/>
<line x1="317.8" y1="3.6" x2="317.8" y2="6.6" stroke="#1a1a1a" stroke-width="1.05"/>
<line x1="323.73" y1="173.5" x2="323.73" y2="170.5" stroke="#1a1a1a" stroke-width="1.05"/>
<line x1="323.73" y1="3.6" x2="323.73" y2="6.6" stroke="#1a1a1a" stroke-width="1.05"/>
<line x1="329.66" y1="173.5" x2="329.66" y2="170.5" stroke="#1a1a1a" stroke-width="1.05"/>
<line x1="329.66" y1="3.6" x2="329.66" y2="6.6" stroke="#1a1a1a" stroke-width="1.05"/>
<line x1="335.58" y1="173.5" x2="335.58" y2="170.5" stroke="#1a1a1a" stroke-width="1.05"/>
<line x1="335.58" y1="3.6" x2="335.58" y2="6.6" stroke="#1a1a1a" stroke-width="1.05"/>
<line x1="341.51" y1="173.5" x2="341.51" y2="170.5" stroke="#1a1a1a" stroke-width="1.05"/>
<line x1="341.51" y1="3.6" x2="341.51" y2="6.6" stroke="#1a1a1a" stroke-width="1.05"/>
<line x1="347.44" y1="173.5" x2="347.44" y2="170.5" stroke="#1a1a1a" stroke-width="1.05"/>
<line x1="347.44" y1="3.6" x2="347.44" y2="6.6" stroke="#1a1a1a" stroke-width="1.05"/>
<line x1="353.37" y1="173.5" x2="353.37" y2="170.5" stroke="#1a1a1a" stroke-width="1.05"/>
<line x1="353.37" y1="3.6" x2="353.37" y2="6.6" stroke="#1a1a1a" stroke-width="1.05"/>
<line x1="359.3" y1="173.5" x2="359.3" y2="170.5" stroke="#1a1a1a" stroke-width="1.05"/>
<line x1="359.3" y1="3.6" x2="359.3" y2="6.6" stroke="#1a1a1a" stroke-width="1.05"/>
<line x1="365.22" y1="173.5" x2="365.22" y2="170.5" stroke="#1a1a1a" stroke-width="1.05"/>
<line x1="365.22" y1="3.6" x2="365.22" y2="6.6" stroke="#1a1a1a" stroke-width="1.05"/>
<line x1="371.15" y1="173.5" x2="371.15" y2="170.5" stroke="#1a1a1a" stroke-width="1.05"/>
<line x1="371.15" y1="3.6" x2="371.15" y2="6.6" stroke="#1a1a1a" stroke-width="1.05"/>
<line x1="377.08" y1="173.5" x2="377.08" y2="170.5" stroke="#1a1a1a" stroke-width="1.05"/>
<line x1="377.08" y1="3.6" x2="377.08" y2="6.6" stroke="#1a1a1a" stroke-width="1.05"/>
<line x1="383.01" y1="173.5" x2="383.01" y2="170.5" stroke="#1a1a1a" stroke-width="1.05"/>
<line x1="383.01" y1="3.6" x2="383.01" y2="6.6" stroke="#1a1a1a" stroke-width="1.05"/>
<line x1="388.94" y1="173.5" x2="388.94" y2="170.5" stroke="#1a1a1a" stroke-width="1.05"/>
<line x1="388.94" y1="3.6" x2="388.94" y2="6.6" stroke="#1a1a1a" stroke-width="1.05"/>
<line x1="394.86" y1="173.5" x2="394.86" y2="170.5" stroke="#1a1a1a" stroke-width="1.05"/>
<line x1="394.86" y1="3.6" x2="394.86" y2="6.6" stroke="#1a1a1a" stroke-width="1.05"/>
<line x1="400.79" y1="173.5" x2="400.79" y2="170.5" stroke="#1a1a1a" stroke-width="1.05"/>
<line x1="400.79" y1="3.6" x2="400.79" y2="6.6" stroke="#1a1a1a" stroke-width="1.05"/>
<line x1="406.72" y1="173.5" x2="406.72" y2="170.5" stroke="#1a1a1a" stroke-width="1.05"/>
<line x1="406.72" y1="3.6" x2="406.72" y2="6.6" stroke="#1a1a1a" stroke-width="1.05"/>
<line x1="412.65" y1="173.5" x2="412.65" y2="170.5" stroke="#1a1a1a" stroke-width="1.05"/>
<line x1="412.65" y1="3.6" x2="412.65" y2="6.6" stroke="#1a1a1a" stroke-width="1.05"/>
<line x1="418.58" y1="173.5" x2="418.58" y2="170.5" stroke="#1a1a1a" stroke-width="1.05"/>
<line x1="418.58" y1="3.6" x2="418.58" y2="6.6" stroke="#1a1a1a" stroke-width="1.05"/>
<line x1="424.5" y1="173.5" x2="424.5" y2="170.5" stroke="#1a1a1a" stroke-width="1.05"/>
<line x1="424.5" y1="3.6" x2="424.5" y2="6.6" stroke="#1a1a1a" stroke-width="1.05"/>
<line x1="430.43" y1="173.5" x2="430.43" y2="170.5" stroke="#1a1a1a" stroke-width="1.05"/>
<line x1="430.43" y1="3.6" x2="430.43" y2="6.6" stroke="#1a1a1a" stroke-width="1.05"/>
<line x1="436.36" y1="173.5" x2="436.36" y2="170.5" stroke="#1a1a1a" stroke-width="1.05"/>
<line x1="436.36" y1="3.6" x2="436.36" y2="6.6" stroke="#1a1a1a" stroke-width="1.05"/>
<line x1="442.29" y1="173.5" x2="442.29" y2="170.5" stroke="#1a1a1a" stroke-width="1.05"/>
<line x1="442.29" y1="3.6" x2="442.29" y2="6.6" stroke="#1a1a1a" stroke-width="1.05"/>
<line x1="448.22" y1="173.5" x2="448.22" y2="170.5" stroke="#1a1a1a" stroke-width="1.05"/>
<line x1="448.22" y1="3.6" x2="448.22" y2="6.6" stroke="#1a1a1a" stroke-width="1.05"/>
<line x1="454.14" y1="173.5" x2="454.14" y2="170.5" stroke="#1a1a1a" stroke-width="1.05"/>
<line x1="454.14" y1="3.6" x2="454.14" y2="6.6" stroke="#1a1a1a" stroke-width="1.05"/>
<line x1="460.07" y1="173.5" x2="460.07" y2="170.5" stroke="#1a1a1a" stroke-width="1.05"/>
<line x1="460.07" y1="3.6" x2="460.07" y2="6.6" stroke="#1a1a1a" stroke-width="1.05"/>
<line x1="466" y1="173.5" x2="466" y2="170.5" stroke="#1a1a1a" stroke-width="1.05"/>
<line x1="466" y1="3.6" x2="466" y2="6.6" stroke="#1a1a1a" stroke-width="1.05"/>
<line x1="471.93" y1="173.5" x2="471.93" y2="170.5" stroke="#1a1a1a" stroke-width="1.05"/>
<line x1="471.93" y1="3.6" x2="471.93" y2="6.6" stroke="#1a1a1a" stroke-width="1.05"/>
<line x1="477.86" y1="173.5" x2="477.86" y2="170.5" stroke="#1a1a1a" stroke-width="1.05"/>
<line x1="477.86" y1="3.6" x2="477.86" y2="6.6" stroke="#1a1a1a" stroke-width="1.05"/>
<line x1="483.78" y1="173.5" x2="483.78" y2="170.5" stroke="#1a1a1a" stroke-width="1.05"/>
<line x1="483.78" y1="3.6" x2="483.78" y2="6.6" stroke="#1a1a1a" stroke-width="1.05"/>
<line x1="489.71" y1="173.5" x2="489.71" y2="170.5" stroke="#1a1a1a" stroke-width="1.05"/>
<line x1="489.71" y1="3.6" x2="489.71" y2="6.6" stroke="#1a1a1a" stroke-width="1.05"/>
<line x1="495.64" y1="173.5" x2="495.64" y2="170.5" stroke="#1a1a1a" stroke-width="1.05"/>
<line x1="495.64" y1="3.6" x2="495.64" y2="6.6" stroke="#1a1a1a" stroke-width="1.05"/>
<line x1="317.8" y1="173.5" x2="317.8" y2="167.5" stroke="#1a1a1a" stroke-width="1.05"/>
<line x1="317.8" y1="3.6" x2="317.8" y2="9.6" stroke="#1a1a1a" stroke-width="1.05"/>
<line x1="347.44" y1="173.5" x2="347.44" y2="167.5" stroke="#1a1a1a" stroke-width="1.05"/>
<line x1="347.44" y1="3.6" x2="347.44" y2="9.6" stroke="#1a1a1a" stroke-width="1.05"/>
<line x1="377.08" y1="173.5" x2="377.08" y2="167.5" stroke="#1a1a1a" stroke-width="1.05"/>
<line x1="377.08" y1="3.6" x2="377.08" y2="9.6" stroke="#1a1a1a" stroke-width="1.05"/>
<line x1="406.72" y1="173.5" x2="406.72" y2="167.5" stroke="#1a1a1a" stroke-width="1.05"/>
<line x1="406.72" y1="3.6" x2="406.72" y2="9.6" stroke="#1a1a1a" stroke-width="1.05"/>
<line x1="436.36" y1="173.5" x2="436.36" y2="167.5" stroke="#1a1a1a" stroke-width="1.05"/>
<line x1="436.36" y1="3.6" x2="436.36" y2="9.6" stroke="#1a1a1a" stroke-width="1.05"/>
<line x1="466" y1="173.5" x2="466" y2="167.5" stroke="#1a1a1a" stroke-width="1.05"/>
<line x1="466" y1="3.6" x2="466" y2="9.6" stroke="#1a1a1a" stroke-width="1.05"/>
<line x1="495.64" y1="173.5" x2="495.64" y2="167.5" stroke="#1a1a1a" stroke-width="1.05"/>
<line x1="495.64" y1="3.6" x2="495.64" y2="9.6" stroke="#1a1a1a" stroke-width="1.05"/>
<line x1="314.3" y1="173.46" x2="317.3" y2="173.46" stroke="#1a1a1a" stroke-width="1.05"/>
<line x1="314.3" y1="169.4" x2="317.3" y2="169.4" stroke="#1a1a1a" stroke-width="1.05"/>
<line x1="314.3" y1="165.34" x2="317.3" y2="165.34" stroke="#1a1a1a" stroke-width="1.05"/>
<line x1="314.3" y1="161.28" x2="317.3" y2="161.28" stroke="#1a1a1a" stroke-width="1.05"/>
<line x1="314.3" y1="157.22" x2="317.3" y2="157.22" stroke="#1a1a1a" stroke-width="1.05"/>
<line x1="314.3" y1="153.16" x2="317.3" y2="153.16" stroke="#1a1a1a" stroke-width="1.05"/>
<line x1="314.3" y1="149.1" x2="317.3" y2="149.1" stroke="#1a1a1a" stroke-width="1.05"/>
<line x1="314.3" y1="145.04" x2="317.3" y2="145.04" stroke="#1a1a1a" stroke-width="1.05"/>
<line x1="314.3" y1="140.98" x2="317.3" y2="140.98" stroke="#1a1a1a" stroke-width="1.05"/>
<line x1="314.3" y1="136.92" x2="317.3" y2="136.92" stroke="#1a1a1a" stroke-width="1.05"/>
<line x1="314.3" y1="132.86" x2="317.3" y2="132.86" stroke="#1a1a1a" stroke-width="1.05"/>
<line x1="314.3" y1="128.8" x2="317.3" y2="128.8" stroke="#1a1a1a" stroke-width="1.05"/>
<line x1="314.3" y1="124.74" x2="317.3" y2="124.74" stroke="#1a1a1a" stroke-width="1.05"/>
<line x1="314.3" y1="120.68" x2="317.3" y2="120.68" stroke="#1a1a1a" stroke-width="1.05"/>
<line x1="314.3" y1="116.62" x2="317.3" y2="116.62" stroke="#1a1a1a" stroke-width="1.05"/>
<line x1="314.3" y1="112.56" x2="317.3" y2="112.56" stroke="#1a1a1a" stroke-width="1.05"/>
<line x1="314.3" y1="108.5" x2="317.3" y2="108.5" stroke="#1a1a1a" stroke-width="1.05"/>
<line x1="314.3" y1="104.44" x2="317.3" y2="104.44" stroke="#1a1a1a" stroke-width="1.05"/>
<line x1="314.3" y1="100.38" x2="317.3" y2="100.38" stroke="#1a1a1a" stroke-width="1.05"/>
<line x1="314.3" y1="96.32" x2="317.3" y2="96.32" stroke="#1a1a1a" stroke-width="1.05"/>
<line x1="314.3" y1="92.26" x2="317.3" y2="92.26" stroke="#1a1a1a" stroke-width="1.05"/>
<line x1="314.3" y1="88.2" x2="317.3" y2="88.2" stroke="#1a1a1a" stroke-width="1.05"/>
<line x1="314.3" y1="84.14" x2="317.3" y2="84.14" stroke="#1a1a1a" stroke-width="1.05"/>
<line x1="314.3" y1="80.08" x2="317.3" y2="80.08" stroke="#1a1a1a" stroke-width="1.05"/>
<line x1="314.3" y1="76.02" x2="317.3" y2="76.02" stroke="#1a1a1a" stroke-width="1.05"/>
<line x1="314.3" y1="71.96" x2="317.3" y2="71.96" stroke="#1a1a1a" stroke-width="1.05"/>
<line x1="314.3" y1="67.9" x2="317.3" y2="67.9" stroke="#1a1a1a" stroke-width="1.05"/>
<line x1="314.3" y1="63.84" x2="317.3" y2="63.84" stroke="#1a1a1a" stroke-width="1.05"/>
<line x1="314.3" y1="59.78" x2="317.3" y2="59.78" stroke="#1a1a1a" stroke-width="1.05"/>
<line x1="314.3" y1="55.72" x2="317.3" y2="55.72" stroke="#1a1a1a" stroke-width="1.05"/>
<line x1="314.3" y1="51.66" x2="317.3" y2="51.66" stroke="#1a1a1a" stroke-width="1.05"/>
<line x1="314.3" y1="47.6" x2="317.3" y2="47.6" stroke="#1a1a1a" stroke-width="1.05"/>
<line x1="314.3" y1="43.54" x2="317.3" y2="43.54" stroke="#1a1a1a" stroke-width="1.05"/>
<line x1="314.3" y1="39.48" x2="317.3" y2="39.48" stroke="#1a1a1a" stroke-width="1.05"/>
<line x1="314.3" y1="35.42" x2="317.3" y2="35.42" stroke="#1a1a1a" stroke-width="1.05"/>
<line x1="314.3" y1="31.36" x2="317.3" y2="31.36" stroke="#1a1a1a" stroke-width="1.05"/>
<line x1="314.3" y1="27.3" x2="317.3" y2="27.3" stroke="#1a1a1a" stroke-width="1.05"/>
<line x1="314.3" y1="23.24" x2="317.3" y2="23.24" stroke="#1a1a1a" stroke-width="1.05"/>
<line x1="314.3" y1="19.18" x2="317.3" y2="19.18" stroke="#1a1a1a" stroke-width="1.05"/>
<line x1="314.3" y1="15.12" x2="317.3" y2="15.12" stroke="#1a1a1a" stroke-width="1.05"/>
<line x1="314.3" y1="11.06" x2="317.3" y2="11.06" stroke="#1a1a1a" stroke-width="1.05"/>
<line x1="314.3" y1="7" x2="317.3" y2="7" stroke="#1a1a1a" stroke-width="1.05"/>
<line x1="314.3" y1="149.1" x2="318.8" y2="149.1" stroke="#1a1a1a" stroke-width="1.05"/>
<line x1="314.3" y1="108.5" x2="318.8" y2="108.5" stroke="#1a1a1a" stroke-width="1.05"/>
<line x1="314.3" y1="67.9" x2="318.8" y2="67.9" stroke="#1a1a1a" stroke-width="1.05"/>
<line x1="314.3" y1="27.3" x2="318.8" y2="27.3" stroke="#1a1a1a" stroke-width="1.05"/>
<line x1="314.3" y1="169.4" x2="320.3" y2="169.4" stroke="#1a1a1a" stroke-width="1.05"/>
<line x1="314.3" y1="128.8" x2="320.3" y2="128.8" stroke="#1a1a1a" stroke-width="1.05"/>
<line x1="314.3" y1="88.2" x2="320.3" y2="88.2" stroke="#1a1a1a" stroke-width="1.05"/>
<line x1="314.3" y1="47.6" x2="320.3" y2="47.6" stroke="#1a1a1a" stroke-width="1.05"/>
<line x1="314.3" y1="7" x2="320.3" y2="7" stroke="#1a1a1a" stroke-width="1.05"/>
<line x1="499.6" y1="169.5" x2="496.6" y2="169.5" stroke="#1a1a1a" stroke-width="1.05"/>
<line x1="499.6" y1="161.32" x2="496.6" y2="161.32" stroke="#1a1a1a" stroke-width="1.05"/>
<line x1="499.6" y1="153.15" x2="496.6" y2="153.15" stroke="#1a1a1a" stroke-width="1.05"/>
<line x1="499.6" y1="144.97" x2="496.6" y2="144.97" stroke="#1a1a1a" stroke-width="1.05"/>
<line x1="499.6" y1="136.8" x2="496.6" y2="136.8" stroke="#1a1a1a" stroke-width="1.05"/>
<line x1="499.6" y1="128.62" x2="496.6" y2="128.62" stroke="#1a1a1a" stroke-width="1.05"/>
<line x1="499.6" y1="120.45" x2="496.6" y2="120.45" stroke="#1a1a1a" stroke-width="1.05"/>
<line x1="499.6" y1="112.28" x2="496.6" y2="112.28" stroke="#1a1a1a" stroke-width="1.05"/>
<line x1="499.6" y1="104.1" x2="496.6" y2="104.1" stroke="#1a1a1a" stroke-width="1.05"/>
<line x1="499.6" y1="95.92" x2="496.6" y2="95.92" stroke="#1a1a1a" stroke-width="1.05"/>
<line x1="499.6" y1="87.75" x2="496.6" y2="87.75" stroke="#1a1a1a" stroke-width="1.05"/>
<line x1="499.6" y1="79.58" x2="496.6" y2="79.58" stroke="#1a1a1a" stroke-width="1.05"/>
<line x1="499.6" y1="71.4" x2="496.6" y2="71.4" stroke="#1a1a1a" stroke-width="1.05"/>
<line x1="499.6" y1="63.22" x2="496.6" y2="63.22" stroke="#1a1a1a" stroke-width="1.05"/>
<line x1="499.6" y1="55.05" x2="496.6" y2="55.05" stroke="#1a1a1a" stroke-width="1.05"/>
<line x1="499.6" y1="46.88" x2="496.6" y2="46.88" stroke="#1a1a1a" stroke-width="1.05"/>
<line x1="499.6" y1="38.7" x2="496.6" y2="38.7" stroke="#1a1a1a" stroke-width="1.05"/>
<line x1="499.6" y1="30.52" x2="496.6" y2="30.52" stroke="#1a1a1a" stroke-width="1.05"/>
<line x1="499.6" y1="22.35" x2="496.6" y2="22.35" stroke="#1a1a1a" stroke-width="1.05"/>
<line x1="499.6" y1="14.18" x2="496.6" y2="14.18" stroke="#1a1a1a" stroke-width="1.05"/>
<line x1="499.6" y1="6" x2="496.6" y2="6" stroke="#1a1a1a" stroke-width="1.05"/>
<line x1="499.6" y1="169.5" x2="493.6" y2="169.5" stroke="#1a1a1a" stroke-width="1.05"/>
<line x1="499.6" y1="136.8" x2="493.6" y2="136.8" stroke="#1a1a1a" stroke-width="1.05"/>
<line x1="499.6" y1="104.1" x2="493.6" y2="104.1" stroke="#1a1a1a" stroke-width="1.05"/>
<line x1="499.6" y1="71.4" x2="493.6" y2="71.4" stroke="#1a1a1a" stroke-width="1.05"/>
<line x1="499.6" y1="38.7" x2="493.6" y2="38.7" stroke="#1a1a1a" stroke-width="1.05"/>
<line x1="499.6" y1="6" x2="493.6" y2="6" stroke="#1a1a1a" stroke-width="1.05"/>
<rect x="314.3" y="3.6" width="185.3" height="169.9" fill="none" stroke="#1a1a1a" stroke-width="1.1"/>
<text transform="translate(317.8,185.5) scale(1,1.08)" font-size="9.5" text-anchor="middle" >0</text>
<text transform="translate(347.44,185.5) scale(1,1.08)" font-size="9.5" text-anchor="middle" >50</text>
<text transform="translate(377.08,185.5) scale(1,1.08)" font-size="9.5" text-anchor="middle" >100</text>
<text transform="translate(406.72,185.5) scale(1,1.08)" font-size="9.5" text-anchor="middle" >150</text>
<text transform="translate(436.36,185.5) scale(1,1.08)" font-size="9.5" text-anchor="middle" >200</text>
<text transform="translate(466,185.5) scale(1,1.08)" font-size="9.5" text-anchor="middle" >250</text>
<text transform="translate(495.64,185.5) scale(1,1.08)" font-size="9.5" text-anchor="middle" >300</text>
<text transform="translate(503,172.9) scale(1,1.08)" font-size="9.5" text-anchor="start" >0.000</text>
<text transform="translate(503,140.2) scale(1,1.08)" font-size="9.5" text-anchor="start" >0.002</text>
<text transform="translate(503,107.5) scale(1,1.08)" font-size="9.5" text-anchor="start" >0.004</text>
<text transform="translate(503,74.8) scale(1,1.08)" font-size="9.5" text-anchor="start" >0.006</text>
<text transform="translate(503,42.1) scale(1,1.08)" font-size="9.5" text-anchor="start" >0.008</text>
<text transform="translate(503,9.4) scale(1,1.08)" font-size="9.5" text-anchor="start" >0.010</text>
<text transform="translate(311,173) scale(1,1.08)" font-size="9.5" text-anchor="end" >2.2</text>
<text transform="translate(311,132.4) scale(1,1.08)" font-size="9.5" text-anchor="end" >2.3</text>
<text transform="translate(311,91.8) scale(1,1.08)" font-size="9.5" text-anchor="end" >2.4</text>
<text transform="translate(311,51.2) scale(1,1.08)" font-size="9.5" text-anchor="end" >2.5</text>
<text transform="translate(407.5,198.6) scale(1,1.03)" font-size="9.8" text-anchor="middle" ><tspan font-style="italic">T  (K)</tspan></text>
<text transform="translate(309,11.3) scale(1,1.08)" font-size="9.5" text-anchor="end" >2.6 x10<tspan dx="0.7" dy="-4.6" font-size="7.0">6</tspan></text>
<line x1="46.7" y1="374.2" x2="46.7" y2="371.2" stroke="#1a1a1a" stroke-width="1.05"/>
<line x1="46.7" y1="204.1" x2="46.7" y2="207.1" stroke="#1a1a1a" stroke-width="1.05"/>
<line x1="52.64" y1="374.2" x2="52.64" y2="371.2" stroke="#1a1a1a" stroke-width="1.05"/>
<line x1="52.64" y1="204.1" x2="52.64" y2="207.1" stroke="#1a1a1a" stroke-width="1.05"/>
<line x1="58.59" y1="374.2" x2="58.59" y2="371.2" stroke="#1a1a1a" stroke-width="1.05"/>
<line x1="58.59" y1="204.1" x2="58.59" y2="207.1" stroke="#1a1a1a" stroke-width="1.05"/>
<line x1="64.53" y1="374.2" x2="64.53" y2="371.2" stroke="#1a1a1a" stroke-width="1.05"/>
<line x1="64.53" y1="204.1" x2="64.53" y2="207.1" stroke="#1a1a1a" stroke-width="1.05"/>
<line x1="70.47" y1="374.2" x2="70.47" y2="371.2" stroke="#1a1a1a" stroke-width="1.05"/>
<line x1="70.47" y1="204.1" x2="70.47" y2="207.1" stroke="#1a1a1a" stroke-width="1.05"/>
<line x1="76.42" y1="374.2" x2="76.42" y2="371.2" stroke="#1a1a1a" stroke-width="1.05"/>
<line x1="76.42" y1="204.1" x2="76.42" y2="207.1" stroke="#1a1a1a" stroke-width="1.05"/>
<line x1="82.36" y1="374.2" x2="82.36" y2="371.2" stroke="#1a1a1a" stroke-width="1.05"/>
<line x1="82.36" y1="204.1" x2="82.36" y2="207.1" stroke="#1a1a1a" stroke-width="1.05"/>
<line x1="88.3" y1="374.2" x2="88.3" y2="371.2" stroke="#1a1a1a" stroke-width="1.05"/>
<line x1="88.3" y1="204.1" x2="88.3" y2="207.1" stroke="#1a1a1a" stroke-width="1.05"/>
<line x1="94.24" y1="374.2" x2="94.24" y2="371.2" stroke="#1a1a1a" stroke-width="1.05"/>
<line x1="94.24" y1="204.1" x2="94.24" y2="207.1" stroke="#1a1a1a" stroke-width="1.05"/>
<line x1="100.19" y1="374.2" x2="100.19" y2="371.2" stroke="#1a1a1a" stroke-width="1.05"/>
<line x1="100.19" y1="204.1" x2="100.19" y2="207.1" stroke="#1a1a1a" stroke-width="1.05"/>
<line x1="106.13" y1="374.2" x2="106.13" y2="371.2" stroke="#1a1a1a" stroke-width="1.05"/>
<line x1="106.13" y1="204.1" x2="106.13" y2="207.1" stroke="#1a1a1a" stroke-width="1.05"/>
<line x1="112.07" y1="374.2" x2="112.07" y2="371.2" stroke="#1a1a1a" stroke-width="1.05"/>
<line x1="112.07" y1="204.1" x2="112.07" y2="207.1" stroke="#1a1a1a" stroke-width="1.05"/>
<line x1="118.02" y1="374.2" x2="118.02" y2="371.2" stroke="#1a1a1a" stroke-width="1.05"/>
<line x1="118.02" y1="204.1" x2="118.02" y2="207.1" stroke="#1a1a1a" stroke-width="1.05"/>
<line x1="123.96" y1="374.2" x2="123.96" y2="371.2" stroke="#1a1a1a" stroke-width="1.05"/>
<line x1="123.96" y1="204.1" x2="123.96" y2="207.1" stroke="#1a1a1a" stroke-width="1.05"/>
<line x1="129.9" y1="374.2" x2="129.9" y2="371.2" stroke="#1a1a1a" stroke-width="1.05"/>
<line x1="129.9" y1="204.1" x2="129.9" y2="207.1" stroke="#1a1a1a" stroke-width="1.05"/>
<line x1="135.85" y1="374.2" x2="135.85" y2="371.2" stroke="#1a1a1a" stroke-width="1.05"/>
<line x1="135.85" y1="204.1" x2="135.85" y2="207.1" stroke="#1a1a1a" stroke-width="1.05"/>
<line x1="141.79" y1="374.2" x2="141.79" y2="371.2" stroke="#1a1a1a" stroke-width="1.05"/>
<line x1="141.79" y1="204.1" x2="141.79" y2="207.1" stroke="#1a1a1a" stroke-width="1.05"/>
<line x1="147.73" y1="374.2" x2="147.73" y2="371.2" stroke="#1a1a1a" stroke-width="1.05"/>
<line x1="147.73" y1="204.1" x2="147.73" y2="207.1" stroke="#1a1a1a" stroke-width="1.05"/>
<line x1="153.67" y1="374.2" x2="153.67" y2="371.2" stroke="#1a1a1a" stroke-width="1.05"/>
<line x1="153.67" y1="204.1" x2="153.67" y2="207.1" stroke="#1a1a1a" stroke-width="1.05"/>
<line x1="159.62" y1="374.2" x2="159.62" y2="371.2" stroke="#1a1a1a" stroke-width="1.05"/>
<line x1="159.62" y1="204.1" x2="159.62" y2="207.1" stroke="#1a1a1a" stroke-width="1.05"/>
<line x1="165.56" y1="374.2" x2="165.56" y2="371.2" stroke="#1a1a1a" stroke-width="1.05"/>
<line x1="165.56" y1="204.1" x2="165.56" y2="207.1" stroke="#1a1a1a" stroke-width="1.05"/>
<line x1="171.5" y1="374.2" x2="171.5" y2="371.2" stroke="#1a1a1a" stroke-width="1.05"/>
<line x1="171.5" y1="204.1" x2="171.5" y2="207.1" stroke="#1a1a1a" stroke-width="1.05"/>
<line x1="177.45" y1="374.2" x2="177.45" y2="371.2" stroke="#1a1a1a" stroke-width="1.05"/>
<line x1="177.45" y1="204.1" x2="177.45" y2="207.1" stroke="#1a1a1a" stroke-width="1.05"/>
<line x1="183.39" y1="374.2" x2="183.39" y2="371.2" stroke="#1a1a1a" stroke-width="1.05"/>
<line x1="183.39" y1="204.1" x2="183.39" y2="207.1" stroke="#1a1a1a" stroke-width="1.05"/>
<line x1="189.33" y1="374.2" x2="189.33" y2="371.2" stroke="#1a1a1a" stroke-width="1.05"/>
<line x1="189.33" y1="204.1" x2="189.33" y2="207.1" stroke="#1a1a1a" stroke-width="1.05"/>
<line x1="195.28" y1="374.2" x2="195.28" y2="371.2" stroke="#1a1a1a" stroke-width="1.05"/>
<line x1="195.28" y1="204.1" x2="195.28" y2="207.1" stroke="#1a1a1a" stroke-width="1.05"/>
<line x1="201.22" y1="374.2" x2="201.22" y2="371.2" stroke="#1a1a1a" stroke-width="1.05"/>
<line x1="201.22" y1="204.1" x2="201.22" y2="207.1" stroke="#1a1a1a" stroke-width="1.05"/>
<line x1="207.16" y1="374.2" x2="207.16" y2="371.2" stroke="#1a1a1a" stroke-width="1.05"/>
<line x1="207.16" y1="204.1" x2="207.16" y2="207.1" stroke="#1a1a1a" stroke-width="1.05"/>
<line x1="213.1" y1="374.2" x2="213.1" y2="371.2" stroke="#1a1a1a" stroke-width="1.05"/>
<line x1="213.1" y1="204.1" x2="213.1" y2="207.1" stroke="#1a1a1a" stroke-width="1.05"/>
<line x1="219.05" y1="374.2" x2="219.05" y2="371.2" stroke="#1a1a1a" stroke-width="1.05"/>
<line x1="219.05" y1="204.1" x2="219.05" y2="207.1" stroke="#1a1a1a" stroke-width="1.05"/>
<line x1="224.99" y1="374.2" x2="224.99" y2="371.2" stroke="#1a1a1a" stroke-width="1.05"/>
<line x1="224.99" y1="204.1" x2="224.99" y2="207.1" stroke="#1a1a1a" stroke-width="1.05"/>
<line x1="46.7" y1="374.2" x2="46.7" y2="368.2" stroke="#1a1a1a" stroke-width="1.05"/>
<line x1="46.7" y1="204.1" x2="46.7" y2="210.1" stroke="#1a1a1a" stroke-width="1.05"/>
<line x1="76.42" y1="374.2" x2="76.42" y2="368.2" stroke="#1a1a1a" stroke-width="1.05"/>
<line x1="76.42" y1="204.1" x2="76.42" y2="210.1" stroke="#1a1a1a" stroke-width="1.05"/>
<line x1="106.13" y1="374.2" x2="106.13" y2="368.2" stroke="#1a1a1a" stroke-width="1.05"/>
<line x1="106.13" y1="204.1" x2="106.13" y2="210.1" stroke="#1a1a1a" stroke-width="1.05"/>
<line x1="135.85" y1="374.2" x2="135.85" y2="368.2" stroke="#1a1a1a" stroke-width="1.05"/>
<line x1="135.85" y1="204.1" x2="135.85" y2="210.1" stroke="#1a1a1a" stroke-width="1.05"/>
<line x1="165.56" y1="374.2" x2="165.56" y2="368.2" stroke="#1a1a1a" stroke-width="1.05"/>
<line x1="165.56" y1="204.1" x2="165.56" y2="210.1" stroke="#1a1a1a" stroke-width="1.05"/>
<line x1="195.28" y1="374.2" x2="195.28" y2="368.2" stroke="#1a1a1a" stroke-width="1.05"/>
<line x1="195.28" y1="204.1" x2="195.28" y2="210.1" stroke="#1a1a1a" stroke-width="1.05"/>
<line x1="224.99" y1="374.2" x2="224.99" y2="368.2" stroke="#1a1a1a" stroke-width="1.05"/>
<line x1="224.99" y1="204.1" x2="224.99" y2="210.1" stroke="#1a1a1a" stroke-width="1.05"/>
<line x1="43.6" y1="370.68" x2="46.6" y2="370.68" stroke="#1a1a1a" stroke-width="1.05"/>
<line x1="43.6" y1="363.9" x2="46.6" y2="363.9" stroke="#1a1a1a" stroke-width="1.05"/>
<line x1="43.6" y1="357.12" x2="46.6" y2="357.12" stroke="#1a1a1a" stroke-width="1.05"/>
<line x1="43.6" y1="350.34" x2="46.6" y2="350.34" stroke="#1a1a1a" stroke-width="1.05"/>
<line x1="43.6" y1="343.56" x2="46.6" y2="343.56" stroke="#1a1a1a" stroke-width="1.05"/>
<line x1="43.6" y1="336.78" x2="46.6" y2="336.78" stroke="#1a1a1a" stroke-width="1.05"/>
<line x1="43.6" y1="330" x2="46.6" y2="330" stroke="#1a1a1a" stroke-width="1.05"/>
<line x1="43.6" y1="323.22" x2="46.6" y2="323.22" stroke="#1a1a1a" stroke-width="1.05"/>
<line x1="43.6" y1="316.44" x2="46.6" y2="316.44" stroke="#1a1a1a" stroke-width="1.05"/>
<line x1="43.6" y1="309.66" x2="46.6" y2="309.66" stroke="#1a1a1a" stroke-width="1.05"/>
<line x1="43.6" y1="302.88" x2="46.6" y2="302.88" stroke="#1a1a1a" stroke-width="1.05"/>
<line x1="43.6" y1="296.1" x2="46.6" y2="296.1" stroke="#1a1a1a" stroke-width="1.05"/>
<line x1="43.6" y1="289.32" x2="46.6" y2="289.32" stroke="#1a1a1a" stroke-width="1.05"/>
<line x1="43.6" y1="282.54" x2="46.6" y2="282.54" stroke="#1a1a1a" stroke-width="1.05"/>
<line x1="43.6" y1="275.76" x2="46.6" y2="275.76" stroke="#1a1a1a" stroke-width="1.05"/>
<line x1="43.6" y1="268.98" x2="46.6" y2="268.98" stroke="#1a1a1a" stroke-width="1.05"/>
<line x1="43.6" y1="262.2" x2="46.6" y2="262.2" stroke="#1a1a1a" stroke-width="1.05"/>
<line x1="43.6" y1="255.42" x2="46.6" y2="255.42" stroke="#1a1a1a" stroke-width="1.05"/>
<line x1="43.6" y1="248.64" x2="46.6" y2="248.64" stroke="#1a1a1a" stroke-width="1.05"/>
<line x1="43.6" y1="241.86" x2="46.6" y2="241.86" stroke="#1a1a1a" stroke-width="1.05"/>
<line x1="43.6" y1="235.08" x2="46.6" y2="235.08" stroke="#1a1a1a" stroke-width="1.05"/>
<line x1="43.6" y1="228.3" x2="46.6" y2="228.3" stroke="#1a1a1a" stroke-width="1.05"/>
<line x1="43.6" y1="221.52" x2="46.6" y2="221.52" stroke="#1a1a1a" stroke-width="1.05"/>
<line x1="43.6" y1="214.74" x2="46.6" y2="214.74" stroke="#1a1a1a" stroke-width="1.05"/>
<line x1="43.6" y1="207.96" x2="46.6" y2="207.96" stroke="#1a1a1a" stroke-width="1.05"/>
<line x1="43.6" y1="363.9" x2="49.6" y2="363.9" stroke="#1a1a1a" stroke-width="1.05"/>
<line x1="43.6" y1="330" x2="49.6" y2="330" stroke="#1a1a1a" stroke-width="1.05"/>
<line x1="43.6" y1="296.1" x2="49.6" y2="296.1" stroke="#1a1a1a" stroke-width="1.05"/>
<line x1="43.6" y1="262.2" x2="49.6" y2="262.2" stroke="#1a1a1a" stroke-width="1.05"/>
<line x1="43.6" y1="228.3" x2="49.6" y2="228.3" stroke="#1a1a1a" stroke-width="1.05"/>
<line x1="228.4" y1="370.5" x2="225.4" y2="370.5" stroke="#1a1a1a" stroke-width="1.05"/>
<line x1="228.4" y1="362.35" x2="225.4" y2="362.35" stroke="#1a1a1a" stroke-width="1.05"/>
<line x1="228.4" y1="354.19" x2="225.4" y2="354.19" stroke="#1a1a1a" stroke-width="1.05"/>
<line x1="228.4" y1="346.04" x2="225.4" y2="346.04" stroke="#1a1a1a" stroke-width="1.05"/>
<line x1="228.4" y1="337.88" x2="225.4" y2="337.88" stroke="#1a1a1a" stroke-width="1.05"/>
<line x1="228.4" y1="329.73" x2="225.4" y2="329.73" stroke="#1a1a1a" stroke-width="1.05"/>
<line x1="228.4" y1="321.57" x2="225.4" y2="321.57" stroke="#1a1a1a" stroke-width="1.05"/>
<line x1="228.4" y1="313.42" x2="225.4" y2="313.42" stroke="#1a1a1a" stroke-width="1.05"/>
<line x1="228.4" y1="305.26" x2="225.4" y2="305.26" stroke="#1a1a1a" stroke-width="1.05"/>
<line x1="228.4" y1="297.11" x2="225.4" y2="297.11" stroke="#1a1a1a" stroke-width="1.05"/>
<line x1="228.4" y1="288.95" x2="225.4" y2="288.95" stroke="#1a1a1a" stroke-width="1.05"/>
<line x1="228.4" y1="280.8" x2="225.4" y2="280.8" stroke="#1a1a1a" stroke-width="1.05"/>
<line x1="228.4" y1="272.64" x2="225.4" y2="272.64" stroke="#1a1a1a" stroke-width="1.05"/>
<line x1="228.4" y1="264.49" x2="225.4" y2="264.49" stroke="#1a1a1a" stroke-width="1.05"/>
<line x1="228.4" y1="256.33" x2="225.4" y2="256.33" stroke="#1a1a1a" stroke-width="1.05"/>
<line x1="228.4" y1="248.18" x2="225.4" y2="248.18" stroke="#1a1a1a" stroke-width="1.05"/>
<line x1="228.4" y1="240.02" x2="225.4" y2="240.02" stroke="#1a1a1a" stroke-width="1.05"/>
<line x1="228.4" y1="231.86" x2="225.4" y2="231.86" stroke="#1a1a1a" stroke-width="1.05"/>
<line x1="228.4" y1="223.71" x2="225.4" y2="223.71" stroke="#1a1a1a" stroke-width="1.05"/>
<line x1="228.4" y1="215.56" x2="225.4" y2="215.56" stroke="#1a1a1a" stroke-width="1.05"/>
<line x1="228.4" y1="207.4" x2="225.4" y2="207.4" stroke="#1a1a1a" stroke-width="1.05"/>
<line x1="228.4" y1="370.5" x2="222.4" y2="370.5" stroke="#1a1a1a" stroke-width="1.05"/>
<line x1="228.4" y1="337.88" x2="222.4" y2="337.88" stroke="#1a1a1a" stroke-width="1.05"/>
<line x1="228.4" y1="305.26" x2="222.4" y2="305.26" stroke="#1a1a1a" stroke-width="1.05"/>
<line x1="228.4" y1="272.64" x2="222.4" y2="272.64" stroke="#1a1a1a" stroke-width="1.05"/>
<line x1="228.4" y1="240.02" x2="222.4" y2="240.02" stroke="#1a1a1a" stroke-width="1.05"/>
<line x1="228.4" y1="207.4" x2="222.4" y2="207.4" stroke="#1a1a1a" stroke-width="1.05"/>
<rect x="43.6" y="204.1" width="184.8" height="170.1" fill="none" stroke="#1a1a1a" stroke-width="1.1"/>
<text transform="translate(46.7,386.2) scale(1,1.08)" font-size="9.5" text-anchor="middle" >0</text>
<text transform="translate(76.42,386.2) scale(1,1.08)" font-size="9.5" text-anchor="middle" >50</text>
<text transform="translate(106.13,386.2) scale(1,1.08)" font-size="9.5" text-anchor="middle" >100</text>
<text transform="translate(135.85,386.2) scale(1,1.08)" font-size="9.5" text-anchor="middle" >150</text>
<text transform="translate(165.56,386.2) scale(1,1.08)" font-size="9.5" text-anchor="middle" >200</text>
<text transform="translate(195.28,386.2) scale(1,1.08)" font-size="9.5" text-anchor="middle" >250</text>
<text transform="translate(224.99,386.2) scale(1,1.08)" font-size="9.5" text-anchor="middle" >300</text>
<text transform="translate(231.8,373.9) scale(1,1.08)" font-size="9.5" text-anchor="start" >0.000</text>
<text transform="translate(231.8,341.28) scale(1,1.08)" font-size="9.5" text-anchor="start" >0.002</text>
<text transform="translate(231.8,308.66) scale(1,1.08)" font-size="9.5" text-anchor="start" >0.004</text>
<text transform="translate(231.8,276.04) scale(1,1.08)" font-size="9.5" text-anchor="start" >0.006</text>
<text transform="translate(231.8,243.42) scale(1,1.08)" font-size="9.5" text-anchor="start" >0.008</text>
<text transform="translate(231.8,210.8) scale(1,1.08)" font-size="9.5" text-anchor="start" >0.010</text>
<text transform="translate(40.3,367.5) scale(1,1.08)" font-size="9.5" text-anchor="end" >2.55</text>
<text transform="translate(40.3,333.6) scale(1,1.08)" font-size="9.5" text-anchor="end" >2.60</text>
<text transform="translate(40.3,299.7) scale(1,1.08)" font-size="9.5" text-anchor="end" >2.65</text>
<text transform="translate(40.3,265.8) scale(1,1.08)" font-size="9.5" text-anchor="end" >2.70</text>
<text transform="translate(133.6,400) scale(1,1.03)" font-size="9.8" text-anchor="middle" ><tspan font-style="italic">T  (K)</tspan></text>
<text transform="translate(40.5,232.4) scale(1,1.08)" font-size="9.5" text-anchor="end" >2.75 x10<tspan dx="0.7" dy="-4.6" font-size="7.0">6</tspan></text>
<line x1="318.6" y1="373.8" x2="318.6" y2="370.8" stroke="#1a1a1a" stroke-width="1.05"/>
<line x1="318.6" y1="204" x2="318.6" y2="207" stroke="#1a1a1a" stroke-width="1.05"/>
<line x1="324.52" y1="373.8" x2="324.52" y2="370.8" stroke="#1a1a1a" stroke-width="1.05"/>
<line x1="324.52" y1="204" x2="324.52" y2="207" stroke="#1a1a1a" stroke-width="1.05"/>
<line x1="330.43" y1="373.8" x2="330.43" y2="370.8" stroke="#1a1a1a" stroke-width="1.05"/>
<line x1="330.43" y1="204" x2="330.43" y2="207" stroke="#1a1a1a" stroke-width="1.05"/>
<line x1="336.35" y1="373.8" x2="336.35" y2="370.8" stroke="#1a1a1a" stroke-width="1.05"/>
<line x1="336.35" y1="204" x2="336.35" y2="207" stroke="#1a1a1a" stroke-width="1.05"/>
<line x1="342.26" y1="373.8" x2="342.26" y2="370.8" stroke="#1a1a1a" stroke-width="1.05"/>
<line x1="342.26" y1="204" x2="342.26" y2="207" stroke="#1a1a1a" stroke-width="1.05"/>
<line x1="348.18" y1="373.8" x2="348.18" y2="370.8" stroke="#1a1a1a" stroke-width="1.05"/>
<line x1="348.18" y1="204" x2="348.18" y2="207" stroke="#1a1a1a" stroke-width="1.05"/>
<line x1="354.09" y1="373.8" x2="354.09" y2="370.8" stroke="#1a1a1a" stroke-width="1.05"/>
<line x1="354.09" y1="204" x2="354.09" y2="207" stroke="#1a1a1a" stroke-width="1.05"/>
<line x1="360" y1="373.8" x2="360" y2="370.8" stroke="#1a1a1a" stroke-width="1.05"/>
<line x1="360" y1="204" x2="360" y2="207" stroke="#1a1a1a" stroke-width="1.05"/>
<line x1="365.92" y1="373.8" x2="365.92" y2="370.8" stroke="#1a1a1a" stroke-width="1.05"/>
<line x1="365.92" y1="204" x2="365.92" y2="207" stroke="#1a1a1a" stroke-width="1.05"/>
<line x1="371.84" y1="373.8" x2="371.84" y2="370.8" stroke="#1a1a1a" stroke-width="1.05"/>
<line x1="371.84" y1="204" x2="371.84" y2="207" stroke="#1a1a1a" stroke-width="1.05"/>
<line x1="377.75" y1="373.8" x2="377.75" y2="370.8" stroke="#1a1a1a" stroke-width="1.05"/>
<line x1="377.75" y1="204" x2="377.75" y2="207" stroke="#1a1a1a" stroke-width="1.05"/>
<line x1="383.67" y1="373.8" x2="383.67" y2="370.8" stroke="#1a1a1a" stroke-width="1.05"/>
<line x1="383.67" y1="204" x2="383.67" y2="207" stroke="#1a1a1a" stroke-width="1.05"/>
<line x1="389.58" y1="373.8" x2="389.58" y2="370.8" stroke="#1a1a1a" stroke-width="1.05"/>
<line x1="389.58" y1="204" x2="389.58" y2="207" stroke="#1a1a1a" stroke-width="1.05"/>
<line x1="395.5" y1="373.8" x2="395.5" y2="370.8" stroke="#1a1a1a" stroke-width="1.05"/>
<line x1="395.5" y1="204" x2="395.5" y2="207" stroke="#1a1a1a" stroke-width="1.05"/>
<line x1="401.41" y1="373.8" x2="401.41" y2="370.8" stroke="#1a1a1a" stroke-width="1.05"/>
<line x1="401.41" y1="204" x2="401.41" y2="207" stroke="#1a1a1a" stroke-width="1.05"/>
<line x1="407.33" y1="373.8" x2="407.33" y2="370.8" stroke="#1a1a1a" stroke-width="1.05"/>
<line x1="407.33" y1="204" x2="407.33" y2="207" stroke="#1a1a1a" stroke-width="1.05"/>
<line x1="413.24" y1="373.8" x2="413.24" y2="370.8" stroke="#1a1a1a" stroke-width="1.05"/>
<line x1="413.24" y1="204" x2="413.24" y2="207" stroke="#1a1a1a" stroke-width="1.05"/>
<line x1="419.16" y1="373.8" x2="419.16" y2="370.8" stroke="#1a1a1a" stroke-width="1.05"/>
<line x1="419.16" y1="204" x2="419.16" y2="207" stroke="#1a1a1a" stroke-width="1.05"/>
<line x1="425.07" y1="373.8" x2="425.07" y2="370.8" stroke="#1a1a1a" stroke-width="1.05"/>
<line x1="425.07" y1="204" x2="425.07" y2="207" stroke="#1a1a1a" stroke-width="1.05"/>
<line x1="430.99" y1="373.8" x2="430.99" y2="370.8" stroke="#1a1a1a" stroke-width="1.05"/>
<line x1="430.99" y1="204" x2="430.99" y2="207" stroke="#1a1a1a" stroke-width="1.05"/>
<line x1="436.9" y1="373.8" x2="436.9" y2="370.8" stroke="#1a1a1a" stroke-width="1.05"/>
<line x1="436.9" y1="204" x2="436.9" y2="207" stroke="#1a1a1a" stroke-width="1.05"/>
<line x1="442.82" y1="373.8" x2="442.82" y2="370.8" stroke="#1a1a1a" stroke-width="1.05"/>
<line x1="442.82" y1="204" x2="442.82" y2="207" stroke="#1a1a1a" stroke-width="1.05"/>
<line x1="448.73" y1="373.8" x2="448.73" y2="370.8" stroke="#1a1a1a" stroke-width="1.05"/>
<line x1="448.73" y1="204" x2="448.73" y2="207" stroke="#1a1a1a" stroke-width="1.05"/>
<line x1="454.65" y1="373.8" x2="454.65" y2="370.8" stroke="#1a1a1a" stroke-width="1.05"/>
<line x1="454.65" y1="204" x2="454.65" y2="207" stroke="#1a1a1a" stroke-width="1.05"/>
<line x1="460.56" y1="373.8" x2="460.56" y2="370.8" stroke="#1a1a1a" stroke-width="1.05"/>
<line x1="460.56" y1="204" x2="460.56" y2="207" stroke="#1a1a1a" stroke-width="1.05"/>
<line x1="466.48" y1="373.8" x2="466.48" y2="370.8" stroke="#1a1a1a" stroke-width="1.05"/>
<line x1="466.48" y1="204" x2="466.48" y2="207" stroke="#1a1a1a" stroke-width="1.05"/>
<line x1="472.39" y1="373.8" x2="472.39" y2="370.8" stroke="#1a1a1a" stroke-width="1.05"/>
<line x1="472.39" y1="204" x2="472.39" y2="207" stroke="#1a1a1a" stroke-width="1.05"/>
<line x1="478.31" y1="373.8" x2="478.31" y2="370.8" stroke="#1a1a1a" stroke-width="1.05"/>
<line x1="478.31" y1="204" x2="478.31" y2="207" stroke="#1a1a1a" stroke-width="1.05"/>
<line x1="484.22" y1="373.8" x2="484.22" y2="370.8" stroke="#1a1a1a" stroke-width="1.05"/>
<line x1="484.22" y1="204" x2="484.22" y2="207" stroke="#1a1a1a" stroke-width="1.05"/>
<line x1="490.13" y1="373.8" x2="490.13" y2="370.8" stroke="#1a1a1a" stroke-width="1.05"/>
<line x1="490.13" y1="204" x2="490.13" y2="207" stroke="#1a1a1a" stroke-width="1.05"/>
<line x1="496.05" y1="373.8" x2="496.05" y2="370.8" stroke="#1a1a1a" stroke-width="1.05"/>
<line x1="496.05" y1="204" x2="496.05" y2="207" stroke="#1a1a1a" stroke-width="1.05"/>
<line x1="318.6" y1="373.8" x2="318.6" y2="367.8" stroke="#1a1a1a" stroke-width="1.05"/>
<line x1="318.6" y1="204" x2="318.6" y2="210" stroke="#1a1a1a" stroke-width="1.05"/>
<line x1="348.18" y1="373.8" x2="348.18" y2="367.8" stroke="#1a1a1a" stroke-width="1.05"/>
<line x1="348.18" y1="204" x2="348.18" y2="210" stroke="#1a1a1a" stroke-width="1.05"/>
<line x1="377.75" y1="373.8" x2="377.75" y2="367.8" stroke="#1a1a1a" stroke-width="1.05"/>
<line x1="377.75" y1="204" x2="377.75" y2="210" stroke="#1a1a1a" stroke-width="1.05"/>
<line x1="407.33" y1="373.8" x2="407.33" y2="367.8" stroke="#1a1a1a" stroke-width="1.05"/>
<line x1="407.33" y1="204" x2="407.33" y2="210" stroke="#1a1a1a" stroke-width="1.05"/>
<line x1="436.9" y1="373.8" x2="436.9" y2="367.8" stroke="#1a1a1a" stroke-width="1.05"/>
<line x1="436.9" y1="204" x2="436.9" y2="210" stroke="#1a1a1a" stroke-width="1.05"/>
<line x1="466.48" y1="373.8" x2="466.48" y2="367.8" stroke="#1a1a1a" stroke-width="1.05"/>
<line x1="466.48" y1="204" x2="466.48" y2="210" stroke="#1a1a1a" stroke-width="1.05"/>
<line x1="496.05" y1="373.8" x2="496.05" y2="367.8" stroke="#1a1a1a" stroke-width="1.05"/>
<line x1="496.05" y1="204" x2="496.05" y2="210" stroke="#1a1a1a" stroke-width="1.05"/>
<line x1="314.9" y1="370.7" x2="317.9" y2="370.7" stroke="#1a1a1a" stroke-width="1.05"/>
<line x1="314.9" y1="362.55" x2="317.9" y2="362.55" stroke="#1a1a1a" stroke-width="1.05"/>
<line x1="314.9" y1="354.4" x2="317.9" y2="354.4" stroke="#1a1a1a" stroke-width="1.05"/>
<line x1="314.9" y1="346.25" x2="317.9" y2="346.25" stroke="#1a1a1a" stroke-width="1.05"/>
<line x1="314.9" y1="338.1" x2="317.9" y2="338.1" stroke="#1a1a1a" stroke-width="1.05"/>
<line x1="314.9" y1="329.95" x2="317.9" y2="329.95" stroke="#1a1a1a" stroke-width="1.05"/>
<line x1="314.9" y1="321.8" x2="317.9" y2="321.8" stroke="#1a1a1a" stroke-width="1.05"/>
<line x1="314.9" y1="313.65" x2="317.9" y2="313.65" stroke="#1a1a1a" stroke-width="1.05"/>
<line x1="314.9" y1="305.5" x2="317.9" y2="305.5" stroke="#1a1a1a" stroke-width="1.05"/>
<line x1="314.9" y1="297.35" x2="317.9" y2="297.35" stroke="#1a1a1a" stroke-width="1.05"/>
<line x1="314.9" y1="289.2" x2="317.9" y2="289.2" stroke="#1a1a1a" stroke-width="1.05"/>
<line x1="314.9" y1="281.05" x2="317.9" y2="281.05" stroke="#1a1a1a" stroke-width="1.05"/>
<line x1="314.9" y1="272.9" x2="317.9" y2="272.9" stroke="#1a1a1a" stroke-width="1.05"/>
<line x1="314.9" y1="264.75" x2="317.9" y2="264.75" stroke="#1a1a1a" stroke-width="1.05"/>
<line x1="314.9" y1="256.6" x2="317.9" y2="256.6" stroke="#1a1a1a" stroke-width="1.05"/>
<line x1="314.9" y1="248.45" x2="317.9" y2="248.45" stroke="#1a1a1a" stroke-width="1.05"/>
<line x1="314.9" y1="240.3" x2="317.9" y2="240.3" stroke="#1a1a1a" stroke-width="1.05"/>
<line x1="314.9" y1="232.15" x2="317.9" y2="232.15" stroke="#1a1a1a" stroke-width="1.05"/>
<line x1="314.9" y1="224" x2="317.9" y2="224" stroke="#1a1a1a" stroke-width="1.05"/>
<line x1="314.9" y1="215.85" x2="317.9" y2="215.85" stroke="#1a1a1a" stroke-width="1.05"/>
<line x1="314.9" y1="207.7" x2="317.9" y2="207.7" stroke="#1a1a1a" stroke-width="1.05"/>
<line x1="314.9" y1="370.7" x2="320.9" y2="370.7" stroke="#1a1a1a" stroke-width="1.05"/>
<line x1="314.9" y1="329.95" x2="320.9" y2="329.95" stroke="#1a1a1a" stroke-width="1.05"/>
<line x1="314.9" y1="289.2" x2="320.9" y2="289.2" stroke="#1a1a1a" stroke-width="1.05"/>
<line x1="314.9" y1="248.45" x2="320.9" y2="248.45" stroke="#1a1a1a" stroke-width="1.05"/>
<line x1="314.9" y1="207.7" x2="320.9" y2="207.7" stroke="#1a1a1a" stroke-width="1.05"/>
<line x1="500" y1="369.9" x2="497" y2="369.9" stroke="#1a1a1a" stroke-width="1.05"/>
<line x1="500" y1="361.73" x2="497" y2="361.73" stroke="#1a1a1a" stroke-width="1.05"/>
<line x1="500" y1="353.56" x2="497" y2="353.56" stroke="#1a1a1a" stroke-width="1.05"/>
<line x1="500" y1="345.39" x2="497" y2="345.39" stroke="#1a1a1a" stroke-width="1.05"/>
<line x1="500" y1="337.22" x2="497" y2="337.22" stroke="#1a1a1a" stroke-width="1.05"/>
<line x1="500" y1="329.05" x2="497" y2="329.05" stroke="#1a1a1a" stroke-width="1.05"/>
<line x1="500" y1="320.88" x2="497" y2="320.88" stroke="#1a1a1a" stroke-width="1.05"/>
<line x1="500" y1="312.71" x2="497" y2="312.71" stroke="#1a1a1a" stroke-width="1.05"/>
<line x1="500" y1="304.54" x2="497" y2="304.54" stroke="#1a1a1a" stroke-width="1.05"/>
<line x1="500" y1="296.37" x2="497" y2="296.37" stroke="#1a1a1a" stroke-width="1.05"/>
<line x1="500" y1="288.2" x2="497" y2="288.2" stroke="#1a1a1a" stroke-width="1.05"/>
<line x1="500" y1="280.03" x2="497" y2="280.03" stroke="#1a1a1a" stroke-width="1.05"/>
<line x1="500" y1="271.86" x2="497" y2="271.86" stroke="#1a1a1a" stroke-width="1.05"/>
<line x1="500" y1="263.69" x2="497" y2="263.69" stroke="#1a1a1a" stroke-width="1.05"/>
<line x1="500" y1="255.52" x2="497" y2="255.52" stroke="#1a1a1a" stroke-width="1.05"/>
<line x1="500" y1="247.35" x2="497" y2="247.35" stroke="#1a1a1a" stroke-width="1.05"/>
<line x1="500" y1="239.18" x2="497" y2="239.18" stroke="#1a1a1a" stroke-width="1.05"/>
<line x1="500" y1="231.01" x2="497" y2="231.01" stroke="#1a1a1a" stroke-width="1.05"/>
<line x1="500" y1="222.84" x2="497" y2="222.84" stroke="#1a1a1a" stroke-width="1.05"/>
<line x1="500" y1="214.67" x2="497" y2="214.67" stroke="#1a1a1a" stroke-width="1.05"/>
<line x1="500" y1="206.5" x2="497" y2="206.5" stroke="#1a1a1a" stroke-width="1.05"/>
<line x1="500" y1="369.9" x2="494" y2="369.9" stroke="#1a1a1a" stroke-width="1.05"/>
<line x1="500" y1="337.22" x2="494" y2="337.22" stroke="#1a1a1a" stroke-width="1.05"/>
<line x1="500" y1="304.54" x2="494" y2="304.54" stroke="#1a1a1a" stroke-width="1.05"/>
<line x1="500" y1="271.86" x2="494" y2="271.86" stroke="#1a1a1a" stroke-width="1.05"/>
<line x1="500" y1="239.18" x2="494" y2="239.18" stroke="#1a1a1a" stroke-width="1.05"/>
<line x1="500" y1="206.5" x2="494" y2="206.5" stroke="#1a1a1a" stroke-width="1.05"/>
<rect x="314.9" y="204" width="185.1" height="169.8" fill="none" stroke="#1a1a1a" stroke-width="1.1"/>
<text transform="translate(318.6,385.8) scale(1,1.08)" font-size="9.5" text-anchor="middle" >0</text>
<text transform="translate(348.18,385.8) scale(1,1.08)" font-size="9.5" text-anchor="middle" >50</text>
<text transform="translate(377.75,385.8) scale(1,1.08)" font-size="9.5" text-anchor="middle" >100</text>
<text transform="translate(407.33,385.8) scale(1,1.08)" font-size="9.5" text-anchor="middle" >150</text>
<text transform="translate(436.9,385.8) scale(1,1.08)" font-size="9.5" text-anchor="middle" >200</text>
<text transform="translate(466.48,385.8) scale(1,1.08)" font-size="9.5" text-anchor="middle" >250</text>
<text transform="translate(496.05,385.8) scale(1,1.08)" font-size="9.5" text-anchor="middle" >300</text>
<text transform="translate(503.4,373.3) scale(1,1.08)" font-size="9.5" text-anchor="start" >0.000</text>
<text transform="translate(503.4,340.62) scale(1,1.08)" font-size="9.5" text-anchor="start" >0.002</text>
<text transform="translate(503.4,307.94) scale(1,1.08)" font-size="9.5" text-anchor="start" >0.004</text>
<text transform="translate(503.4,275.26) scale(1,1.08)" font-size="9.5" text-anchor="start" >0.006</text>
<text transform="translate(503.4,242.58) scale(1,1.08)" font-size="9.5" text-anchor="start" >0.008</text>
<text transform="translate(503.4,209.9) scale(1,1.08)" font-size="9.5" text-anchor="start" >0.010</text>
<text transform="translate(311.6,374.3) scale(1,1.08)" font-size="9.5" text-anchor="end" >1.50</text>
<text transform="translate(311.6,333.55) scale(1,1.08)" font-size="9.5" text-anchor="end" >1.55</text>
<text transform="translate(311.6,292.8) scale(1,1.08)" font-size="9.5" text-anchor="end" >1.60</text>
<text transform="translate(311.6,252.05) scale(1,1.08)" font-size="9.5" text-anchor="end" >1.65</text>
<text transform="translate(405.2,400.3) scale(1,1.03)" font-size="9.8" text-anchor="middle" ><tspan font-style="italic">T</tspan>  (K)</text>
<text transform="translate(310,211.9) scale(1,1.08)" font-size="9.5" text-anchor="end" >1.70 x10<tspan dx="0.7" dy="-4.6" font-size="7.0">5</tspan></text>
<line x1="48.4" y1="579" x2="48.4" y2="576" stroke="#1a1a1a" stroke-width="1.05"/>
<line x1="48.4" y1="409.1" x2="48.4" y2="412.1" stroke="#1a1a1a" stroke-width="1.05"/>
<line x1="54.33" y1="579" x2="54.33" y2="576" stroke="#1a1a1a" stroke-width="1.05"/>
<line x1="54.33" y1="409.1" x2="54.33" y2="412.1" stroke="#1a1a1a" stroke-width="1.05"/>
<line x1="60.25" y1="579" x2="60.25" y2="576" stroke="#1a1a1a" stroke-width="1.05"/>
<line x1="60.25" y1="409.1" x2="60.25" y2="412.1" stroke="#1a1a1a" stroke-width="1.05"/>
<line x1="66.17" y1="579" x2="66.17" y2="576" stroke="#1a1a1a" stroke-width="1.05"/>
<line x1="66.17" y1="409.1" x2="66.17" y2="412.1" stroke="#1a1a1a" stroke-width="1.05"/>
<line x1="72.1" y1="579" x2="72.1" y2="576" stroke="#1a1a1a" stroke-width="1.05"/>
<line x1="72.1" y1="409.1" x2="72.1" y2="412.1" stroke="#1a1a1a" stroke-width="1.05"/>
<line x1="78.03" y1="579" x2="78.03" y2="576" stroke="#1a1a1a" stroke-width="1.05"/>
<line x1="78.03" y1="409.1" x2="78.03" y2="412.1" stroke="#1a1a1a" stroke-width="1.05"/>
<line x1="83.95" y1="579" x2="83.95" y2="576" stroke="#1a1a1a" stroke-width="1.05"/>
<line x1="83.95" y1="409.1" x2="83.95" y2="412.1" stroke="#1a1a1a" stroke-width="1.05"/>
<line x1="89.88" y1="579" x2="89.88" y2="576" stroke="#1a1a1a" stroke-width="1.05"/>
<line x1="89.88" y1="409.1" x2="89.88" y2="412.1" stroke="#1a1a1a" stroke-width="1.05"/>
<line x1="95.8" y1="579" x2="95.8" y2="576" stroke="#1a1a1a" stroke-width="1.05"/>
<line x1="95.8" y1="409.1" x2="95.8" y2="412.1" stroke="#1a1a1a" stroke-width="1.05"/>
<line x1="101.72" y1="579" x2="101.72" y2="576" stroke="#1a1a1a" stroke-width="1.05"/>
<line x1="101.72" y1="409.1" x2="101.72" y2="412.1" stroke="#1a1a1a" stroke-width="1.05"/>
<line x1="107.65" y1="579" x2="107.65" y2="576" stroke="#1a1a1a" stroke-width="1.05"/>
<line x1="107.65" y1="409.1" x2="107.65" y2="412.1" stroke="#1a1a1a" stroke-width="1.05"/>
<line x1="113.57" y1="579" x2="113.57" y2="576" stroke="#1a1a1a" stroke-width="1.05"/>
<line x1="113.57" y1="409.1" x2="113.57" y2="412.1" stroke="#1a1a1a" stroke-width="1.05"/>
<line x1="119.5" y1="579" x2="119.5" y2="576" stroke="#1a1a1a" stroke-width="1.05"/>
<line x1="119.5" y1="409.1" x2="119.5" y2="412.1" stroke="#1a1a1a" stroke-width="1.05"/>
<line x1="125.43" y1="579" x2="125.43" y2="576" stroke="#1a1a1a" stroke-width="1.05"/>
<line x1="125.43" y1="409.1" x2="125.43" y2="412.1" stroke="#1a1a1a" stroke-width="1.05"/>
<line x1="131.35" y1="579" x2="131.35" y2="576" stroke="#1a1a1a" stroke-width="1.05"/>
<line x1="131.35" y1="409.1" x2="131.35" y2="412.1" stroke="#1a1a1a" stroke-width="1.05"/>
<line x1="137.28" y1="579" x2="137.28" y2="576" stroke="#1a1a1a" stroke-width="1.05"/>
<line x1="137.28" y1="409.1" x2="137.28" y2="412.1" stroke="#1a1a1a" stroke-width="1.05"/>
<line x1="143.2" y1="579" x2="143.2" y2="576" stroke="#1a1a1a" stroke-width="1.05"/>
<line x1="143.2" y1="409.1" x2="143.2" y2="412.1" stroke="#1a1a1a" stroke-width="1.05"/>
<line x1="149.12" y1="579" x2="149.12" y2="576" stroke="#1a1a1a" stroke-width="1.05"/>
<line x1="149.12" y1="409.1" x2="149.12" y2="412.1" stroke="#1a1a1a" stroke-width="1.05"/>
<line x1="155.05" y1="579" x2="155.05" y2="576" stroke="#1a1a1a" stroke-width="1.05"/>
<line x1="155.05" y1="409.1" x2="155.05" y2="412.1" stroke="#1a1a1a" stroke-width="1.05"/>
<line x1="160.97" y1="579" x2="160.97" y2="576" stroke="#1a1a1a" stroke-width="1.05"/>
<line x1="160.97" y1="409.1" x2="160.97" y2="412.1" stroke="#1a1a1a" stroke-width="1.05"/>
<line x1="166.9" y1="579" x2="166.9" y2="576" stroke="#1a1a1a" stroke-width="1.05"/>
<line x1="166.9" y1="409.1" x2="166.9" y2="412.1" stroke="#1a1a1a" stroke-width="1.05"/>
<line x1="172.83" y1="579" x2="172.83" y2="576" stroke="#1a1a1a" stroke-width="1.05"/>
<line x1="172.83" y1="409.1" x2="172.83" y2="412.1" stroke="#1a1a1a" stroke-width="1.05"/>
<line x1="178.75" y1="579" x2="178.75" y2="576" stroke="#1a1a1a" stroke-width="1.05"/>
<line x1="178.75" y1="409.1" x2="178.75" y2="412.1" stroke="#1a1a1a" stroke-width="1.05"/>
<line x1="184.68" y1="579" x2="184.68" y2="576" stroke="#1a1a1a" stroke-width="1.05"/>
<line x1="184.68" y1="409.1" x2="184.68" y2="412.1" stroke="#1a1a1a" stroke-width="1.05"/>
<line x1="190.6" y1="579" x2="190.6" y2="576" stroke="#1a1a1a" stroke-width="1.05"/>
<line x1="190.6" y1="409.1" x2="190.6" y2="412.1" stroke="#1a1a1a" stroke-width="1.05"/>
<line x1="196.53" y1="579" x2="196.53" y2="576" stroke="#1a1a1a" stroke-width="1.05"/>
<line x1="196.53" y1="409.1" x2="196.53" y2="412.1" stroke="#1a1a1a" stroke-width="1.05"/>
<line x1="202.45" y1="579" x2="202.45" y2="576" stroke="#1a1a1a" stroke-width="1.05"/>
<line x1="202.45" y1="409.1" x2="202.45" y2="412.1" stroke="#1a1a1a" stroke-width="1.05"/>
<line x1="208.38" y1="579" x2="208.38" y2="576" stroke="#1a1a1a" stroke-width="1.05"/>
<line x1="208.38" y1="409.1" x2="208.38" y2="412.1" stroke="#1a1a1a" stroke-width="1.05"/>
<line x1="214.3" y1="579" x2="214.3" y2="576" stroke="#1a1a1a" stroke-width="1.05"/>
<line x1="214.3" y1="409.1" x2="214.3" y2="412.1" stroke="#1a1a1a" stroke-width="1.05"/>
<line x1="220.23" y1="579" x2="220.23" y2="576" stroke="#1a1a1a" stroke-width="1.05"/>
<line x1="220.23" y1="409.1" x2="220.23" y2="412.1" stroke="#1a1a1a" stroke-width="1.05"/>
<line x1="226.15" y1="579" x2="226.15" y2="576" stroke="#1a1a1a" stroke-width="1.05"/>
<line x1="226.15" y1="409.1" x2="226.15" y2="412.1" stroke="#1a1a1a" stroke-width="1.05"/>
<line x1="48.4" y1="579" x2="48.4" y2="573" stroke="#1a1a1a" stroke-width="1.05"/>
<line x1="48.4" y1="409.1" x2="48.4" y2="415.1" stroke="#1a1a1a" stroke-width="1.05"/>
<line x1="78.03" y1="579" x2="78.03" y2="573" stroke="#1a1a1a" stroke-width="1.05"/>
<line x1="78.03" y1="409.1" x2="78.03" y2="415.1" stroke="#1a1a1a" stroke-width="1.05"/>
<line x1="107.65" y1="579" x2="107.65" y2="573" stroke="#1a1a1a" stroke-width="1.05"/>
<line x1="107.65" y1="409.1" x2="107.65" y2="415.1" stroke="#1a1a1a" stroke-width="1.05"/>
<line x1="137.28" y1="579" x2="137.28" y2="573" stroke="#1a1a1a" stroke-width="1.05"/>
<line x1="137.28" y1="409.1" x2="137.28" y2="415.1" stroke="#1a1a1a" stroke-width="1.05"/>
<line x1="166.9" y1="579" x2="166.9" y2="573" stroke="#1a1a1a" stroke-width="1.05"/>
<line x1="166.9" y1="409.1" x2="166.9" y2="415.1" stroke="#1a1a1a" stroke-width="1.05"/>
<line x1="196.53" y1="579" x2="196.53" y2="573" stroke="#1a1a1a" stroke-width="1.05"/>
<line x1="196.53" y1="409.1" x2="196.53" y2="415.1" stroke="#1a1a1a" stroke-width="1.05"/>
<line x1="226.15" y1="579" x2="226.15" y2="573" stroke="#1a1a1a" stroke-width="1.05"/>
<line x1="226.15" y1="409.1" x2="226.15" y2="415.1" stroke="#1a1a1a" stroke-width="1.05"/>
<line x1="45" y1="575" x2="48" y2="575" stroke="#1a1a1a" stroke-width="1.05"/>
<line x1="45" y1="568.25" x2="48" y2="568.25" stroke="#1a1a1a" stroke-width="1.05"/>
<line x1="45" y1="561.5" x2="48" y2="561.5" stroke="#1a1a1a" stroke-width="1.05"/>
<line x1="45" y1="554.75" x2="48" y2="554.75" stroke="#1a1a1a" stroke-width="1.05"/>
<line x1="45" y1="548" x2="48" y2="548" stroke="#1a1a1a" stroke-width="1.05"/>
<line x1="45" y1="541.25" x2="48" y2="541.25" stroke="#1a1a1a" stroke-width="1.05"/>
<line x1="45" y1="534.5" x2="48" y2="534.5" stroke="#1a1a1a" stroke-width="1.05"/>
<line x1="45" y1="527.75" x2="48" y2="527.75" stroke="#1a1a1a" stroke-width="1.05"/>
<line x1="45" y1="521" x2="48" y2="521" stroke="#1a1a1a" stroke-width="1.05"/>
<line x1="45" y1="514.25" x2="48" y2="514.25" stroke="#1a1a1a" stroke-width="1.05"/>
<line x1="45" y1="507.5" x2="48" y2="507.5" stroke="#1a1a1a" stroke-width="1.05"/>
<line x1="45" y1="500.75" x2="48" y2="500.75" stroke="#1a1a1a" stroke-width="1.05"/>
<line x1="45" y1="494" x2="48" y2="494" stroke="#1a1a1a" stroke-width="1.05"/>
<line x1="45" y1="487.25" x2="48" y2="487.25" stroke="#1a1a1a" stroke-width="1.05"/>
<line x1="45" y1="480.5" x2="48" y2="480.5" stroke="#1a1a1a" stroke-width="1.05"/>
<line x1="45" y1="473.75" x2="48" y2="473.75" stroke="#1a1a1a" stroke-width="1.05"/>
<line x1="45" y1="467" x2="48" y2="467" stroke="#1a1a1a" stroke-width="1.05"/>
<line x1="45" y1="460.25" x2="48" y2="460.25" stroke="#1a1a1a" stroke-width="1.05"/>
<line x1="45" y1="453.5" x2="48" y2="453.5" stroke="#1a1a1a" stroke-width="1.05"/>
<line x1="45" y1="446.75" x2="48" y2="446.75" stroke="#1a1a1a" stroke-width="1.05"/>
<line x1="45" y1="440" x2="48" y2="440" stroke="#1a1a1a" stroke-width="1.05"/>
<line x1="45" y1="433.25" x2="48" y2="433.25" stroke="#1a1a1a" stroke-width="1.05"/>
<line x1="45" y1="426.5" x2="48" y2="426.5" stroke="#1a1a1a" stroke-width="1.05"/>
<line x1="45" y1="419.75" x2="48" y2="419.75" stroke="#1a1a1a" stroke-width="1.05"/>
<line x1="45" y1="413" x2="48" y2="413" stroke="#1a1a1a" stroke-width="1.05"/>
<line x1="45" y1="561.5" x2="51" y2="561.5" stroke="#1a1a1a" stroke-width="1.05"/>
<line x1="45" y1="534.5" x2="51" y2="534.5" stroke="#1a1a1a" stroke-width="1.05"/>
<line x1="45" y1="507.5" x2="51" y2="507.5" stroke="#1a1a1a" stroke-width="1.05"/>
<line x1="45" y1="480.5" x2="51" y2="480.5" stroke="#1a1a1a" stroke-width="1.05"/>
<line x1="45" y1="453.5" x2="51" y2="453.5" stroke="#1a1a1a" stroke-width="1.05"/>
<line x1="45" y1="426.5" x2="51" y2="426.5" stroke="#1a1a1a" stroke-width="1.05"/>
<line x1="230.1" y1="574.8" x2="227.1" y2="574.8" stroke="#1a1a1a" stroke-width="1.05"/>
<line x1="230.1" y1="569.39" x2="227.1" y2="569.39" stroke="#1a1a1a" stroke-width="1.05"/>
<line x1="230.1" y1="563.97" x2="227.1" y2="563.97" stroke="#1a1a1a" stroke-width="1.05"/>
<line x1="230.1" y1="558.56" x2="227.1" y2="558.56" stroke="#1a1a1a" stroke-width="1.05"/>
<line x1="230.1" y1="553.15" x2="227.1" y2="553.15" stroke="#1a1a1a" stroke-width="1.05"/>
<line x1="230.1" y1="547.74" x2="227.1" y2="547.74" stroke="#1a1a1a" stroke-width="1.05"/>
<line x1="230.1" y1="542.32" x2="227.1" y2="542.32" stroke="#1a1a1a" stroke-width="1.05"/>
<line x1="230.1" y1="536.91" x2="227.1" y2="536.91" stroke="#1a1a1a" stroke-width="1.05"/>
<line x1="230.1" y1="531.5" x2="227.1" y2="531.5" stroke="#1a1a1a" stroke-width="1.05"/>
<line x1="230.1" y1="526.09" x2="227.1" y2="526.09" stroke="#1a1a1a" stroke-width="1.05"/>
<line x1="230.1" y1="520.67" x2="227.1" y2="520.67" stroke="#1a1a1a" stroke-width="1.05"/>
<line x1="230.1" y1="515.26" x2="227.1" y2="515.26" stroke="#1a1a1a" stroke-width="1.05"/>
<line x1="230.1" y1="509.85" x2="227.1" y2="509.85" stroke="#1a1a1a" stroke-width="1.05"/>
<line x1="230.1" y1="504.44" x2="227.1" y2="504.44" stroke="#1a1a1a" stroke-width="1.05"/>
<line x1="230.1" y1="499.02" x2="227.1" y2="499.02" stroke="#1a1a1a" stroke-width="1.05"/>
<line x1="230.1" y1="493.61" x2="227.1" y2="493.61" stroke="#1a1a1a" stroke-width="1.05"/>
<line x1="230.1" y1="488.2" x2="227.1" y2="488.2" stroke="#1a1a1a" stroke-width="1.05"/>
<line x1="230.1" y1="482.79" x2="227.1" y2="482.79" stroke="#1a1a1a" stroke-width="1.05"/>
<line x1="230.1" y1="477.37" x2="227.1" y2="477.37" stroke="#1a1a1a" stroke-width="1.05"/>
<line x1="230.1" y1="471.96" x2="227.1" y2="471.96" stroke="#1a1a1a" stroke-width="1.05"/>
<line x1="230.1" y1="466.55" x2="227.1" y2="466.55" stroke="#1a1a1a" stroke-width="1.05"/>
<line x1="230.1" y1="461.14" x2="227.1" y2="461.14" stroke="#1a1a1a" stroke-width="1.05"/>
<line x1="230.1" y1="455.72" x2="227.1" y2="455.72" stroke="#1a1a1a" stroke-width="1.05"/>
<line x1="230.1" y1="450.31" x2="227.1" y2="450.31" stroke="#1a1a1a" stroke-width="1.05"/>
<line x1="230.1" y1="444.9" x2="227.1" y2="444.9" stroke="#1a1a1a" stroke-width="1.05"/>
<line x1="230.1" y1="439.49" x2="227.1" y2="439.49" stroke="#1a1a1a" stroke-width="1.05"/>
<line x1="230.1" y1="434.07" x2="227.1" y2="434.07" stroke="#1a1a1a" stroke-width="1.05"/>
<line x1="230.1" y1="428.66" x2="227.1" y2="428.66" stroke="#1a1a1a" stroke-width="1.05"/>
<line x1="230.1" y1="423.25" x2="227.1" y2="423.25" stroke="#1a1a1a" stroke-width="1.05"/>
<line x1="230.1" y1="417.84" x2="227.1" y2="417.84" stroke="#1a1a1a" stroke-width="1.05"/>
<line x1="230.1" y1="574.8" x2="224.1" y2="574.8" stroke="#1a1a1a" stroke-width="1.05"/>
<line x1="230.1" y1="553.15" x2="224.1" y2="553.15" stroke="#1a1a1a" stroke-width="1.05"/>
<line x1="230.1" y1="531.5" x2="224.1" y2="531.5" stroke="#1a1a1a" stroke-width="1.05"/>
<line x1="230.1" y1="509.85" x2="224.1" y2="509.85" stroke="#1a1a1a" stroke-width="1.05"/>
<line x1="230.1" y1="488.2" x2="224.1" y2="488.2" stroke="#1a1a1a" stroke-width="1.05"/>
<line x1="230.1" y1="466.55" x2="224.1" y2="466.55" stroke="#1a1a1a" stroke-width="1.05"/>
<line x1="230.1" y1="444.9" x2="224.1" y2="444.9" stroke="#1a1a1a" stroke-width="1.05"/>
<line x1="230.1" y1="423.25" x2="224.1" y2="423.25" stroke="#1a1a1a" stroke-width="1.05"/>
<rect x="45" y="409.1" width="185.1" height="169.9" fill="none" stroke="#1a1a1a" stroke-width="1.1"/>
<text transform="translate(48.4,591) scale(1,1.08)" font-size="9.5" text-anchor="middle" >0</text>
<text transform="translate(78.03,591) scale(1,1.08)" font-size="9.5" text-anchor="middle" >50</text>
<text transform="translate(107.65,591) scale(1,1.08)" font-size="9.5" text-anchor="middle" >100</text>
<text transform="translate(137.28,591) scale(1,1.08)" font-size="9.5" text-anchor="middle" >150</text>
<text transform="translate(166.9,591) scale(1,1.08)" font-size="9.5" text-anchor="middle" >200</text>
<text transform="translate(196.53,591) scale(1,1.08)" font-size="9.5" text-anchor="middle" >250</text>
<text transform="translate(226.15,591) scale(1,1.08)" font-size="9.5" text-anchor="middle" >300</text>
<text transform="translate(233.5,578.2) scale(1,1.08)" font-size="9.5" text-anchor="start" >0.000</text>
<text transform="translate(233.5,556.55) scale(1,1.08)" font-size="9.5" text-anchor="start" >0.002</text>
<text transform="translate(233.5,534.9) scale(1,1.08)" font-size="9.5" text-anchor="start" >0.004</text>
<text transform="translate(233.5,513.25) scale(1,1.08)" font-size="9.5" text-anchor="start" >0.006</text>
<text transform="translate(233.5,491.6) scale(1,1.08)" font-size="9.5" text-anchor="start" >0.008</text>
<text transform="translate(233.5,469.95) scale(1,1.08)" font-size="9.5" text-anchor="start" >0.010</text>
<text transform="translate(233.5,448.3) scale(1,1.08)" font-size="9.5" text-anchor="start" >0.012</text>
<text transform="translate(233.5,426.65) scale(1,1.08)" font-size="9.5" text-anchor="start" >0.014</text>
<text transform="translate(41.7,565.1) scale(1,1.08)" font-size="9.5" text-anchor="end" >2.6</text>
<text transform="translate(41.7,538.1) scale(1,1.08)" font-size="9.5" text-anchor="end" >2.8</text>
<text transform="translate(41.7,511.1) scale(1,1.08)" font-size="9.5" text-anchor="end" >3.0</text>
<text transform="translate(41.7,484.1) scale(1,1.08)" font-size="9.5" text-anchor="end" >3.2</text>
<text transform="translate(41.7,457.1) scale(1,1.08)" font-size="9.5" text-anchor="end" >3.4</text>
<text transform="translate(139.8,604.6) scale(1,1.03)" font-size="9.8" text-anchor="middle" ><tspan font-style="italic">T</tspan>  (K)</text>
<text transform="translate(40.8,431.2) scale(1,1.08)" font-size="9.5" text-anchor="end" >3.6 x10<tspan dx="0.7" dy="-4.6" font-size="7.0">-5</tspan></text>
<line x1="318.21" y1="579.2" x2="318.21" y2="576.2" stroke="#1a1a1a" stroke-width="1.05"/>
<line x1="318.21" y1="408.9" x2="318.21" y2="411.9" stroke="#1a1a1a" stroke-width="1.05"/>
<line x1="323.62" y1="579.2" x2="323.62" y2="576.2" stroke="#1a1a1a" stroke-width="1.05"/>
<line x1="323.62" y1="408.9" x2="323.62" y2="411.9" stroke="#1a1a1a" stroke-width="1.05"/>
<line x1="329.03" y1="579.2" x2="329.03" y2="576.2" stroke="#1a1a1a" stroke-width="1.05"/>
<line x1="329.03" y1="408.9" x2="329.03" y2="411.9" stroke="#1a1a1a" stroke-width="1.05"/>
<line x1="334.44" y1="579.2" x2="334.44" y2="576.2" stroke="#1a1a1a" stroke-width="1.05"/>
<line x1="334.44" y1="408.9" x2="334.44" y2="411.9" stroke="#1a1a1a" stroke-width="1.05"/>
<line x1="339.85" y1="579.2" x2="339.85" y2="576.2" stroke="#1a1a1a" stroke-width="1.05"/>
<line x1="339.85" y1="408.9" x2="339.85" y2="411.9" stroke="#1a1a1a" stroke-width="1.05"/>
<line x1="345.26" y1="579.2" x2="345.26" y2="576.2" stroke="#1a1a1a" stroke-width="1.05"/>
<line x1="345.26" y1="408.9" x2="345.26" y2="411.9" stroke="#1a1a1a" stroke-width="1.05"/>
<line x1="350.67" y1="579.2" x2="350.67" y2="576.2" stroke="#1a1a1a" stroke-width="1.05"/>
<line x1="350.67" y1="408.9" x2="350.67" y2="411.9" stroke="#1a1a1a" stroke-width="1.05"/>
<line x1="356.08" y1="579.2" x2="356.08" y2="576.2" stroke="#1a1a1a" stroke-width="1.05"/>
<line x1="356.08" y1="408.9" x2="356.08" y2="411.9" stroke="#1a1a1a" stroke-width="1.05"/>
<line x1="361.49" y1="579.2" x2="361.49" y2="576.2" stroke="#1a1a1a" stroke-width="1.05"/>
<line x1="361.49" y1="408.9" x2="361.49" y2="411.9" stroke="#1a1a1a" stroke-width="1.05"/>
<line x1="366.9" y1="579.2" x2="366.9" y2="576.2" stroke="#1a1a1a" stroke-width="1.05"/>
<line x1="366.9" y1="408.9" x2="366.9" y2="411.9" stroke="#1a1a1a" stroke-width="1.05"/>
<line x1="372.31" y1="579.2" x2="372.31" y2="576.2" stroke="#1a1a1a" stroke-width="1.05"/>
<line x1="372.31" y1="408.9" x2="372.31" y2="411.9" stroke="#1a1a1a" stroke-width="1.05"/>
<line x1="377.72" y1="579.2" x2="377.72" y2="576.2" stroke="#1a1a1a" stroke-width="1.05"/>
<line x1="377.72" y1="408.9" x2="377.72" y2="411.9" stroke="#1a1a1a" stroke-width="1.05"/>
<line x1="383.13" y1="579.2" x2="383.13" y2="576.2" stroke="#1a1a1a" stroke-width="1.05"/>
<line x1="383.13" y1="408.9" x2="383.13" y2="411.9" stroke="#1a1a1a" stroke-width="1.05"/>
<line x1="388.54" y1="579.2" x2="388.54" y2="576.2" stroke="#1a1a1a" stroke-width="1.05"/>
<line x1="388.54" y1="408.9" x2="388.54" y2="411.9" stroke="#1a1a1a" stroke-width="1.05"/>
<line x1="393.95" y1="579.2" x2="393.95" y2="576.2" stroke="#1a1a1a" stroke-width="1.05"/>
<line x1="393.95" y1="408.9" x2="393.95" y2="411.9" stroke="#1a1a1a" stroke-width="1.05"/>
<line x1="399.36" y1="579.2" x2="399.36" y2="576.2" stroke="#1a1a1a" stroke-width="1.05"/>
<line x1="399.36" y1="408.9" x2="399.36" y2="411.9" stroke="#1a1a1a" stroke-width="1.05"/>
<line x1="404.77" y1="579.2" x2="404.77" y2="576.2" stroke="#1a1a1a" stroke-width="1.05"/>
<line x1="404.77" y1="408.9" x2="404.77" y2="411.9" stroke="#1a1a1a" stroke-width="1.05"/>
<line x1="410.18" y1="579.2" x2="410.18" y2="576.2" stroke="#1a1a1a" stroke-width="1.05"/>
<line x1="410.18" y1="408.9" x2="410.18" y2="411.9" stroke="#1a1a1a" stroke-width="1.05"/>
<line x1="415.59" y1="579.2" x2="415.59" y2="576.2" stroke="#1a1a1a" stroke-width="1.05"/>
<line x1="415.59" y1="408.9" x2="415.59" y2="411.9" stroke="#1a1a1a" stroke-width="1.05"/>
<line x1="421" y1="579.2" x2="421" y2="576.2" stroke="#1a1a1a" stroke-width="1.05"/>
<line x1="421" y1="408.9" x2="421" y2="411.9" stroke="#1a1a1a" stroke-width="1.05"/>
<line x1="426.41" y1="579.2" x2="426.41" y2="576.2" stroke="#1a1a1a" stroke-width="1.05"/>
<line x1="426.41" y1="408.9" x2="426.41" y2="411.9" stroke="#1a1a1a" stroke-width="1.05"/>
<line x1="431.82" y1="579.2" x2="431.82" y2="576.2" stroke="#1a1a1a" stroke-width="1.05"/>
<line x1="431.82" y1="408.9" x2="431.82" y2="411.9" stroke="#1a1a1a" stroke-width="1.05"/>
<line x1="437.23" y1="579.2" x2="437.23" y2="576.2" stroke="#1a1a1a" stroke-width="1.05"/>
<line x1="437.23" y1="408.9" x2="437.23" y2="411.9" stroke="#1a1a1a" stroke-width="1.05"/>
<line x1="442.64" y1="579.2" x2="442.64" y2="576.2" stroke="#1a1a1a" stroke-width="1.05"/>
<line x1="442.64" y1="408.9" x2="442.64" y2="411.9" stroke="#1a1a1a" stroke-width="1.05"/>
<line x1="448.05" y1="579.2" x2="448.05" y2="576.2" stroke="#1a1a1a" stroke-width="1.05"/>
<line x1="448.05" y1="408.9" x2="448.05" y2="411.9" stroke="#1a1a1a" stroke-width="1.05"/>
<line x1="453.46" y1="579.2" x2="453.46" y2="576.2" stroke="#1a1a1a" stroke-width="1.05"/>
<line x1="453.46" y1="408.9" x2="453.46" y2="411.9" stroke="#1a1a1a" stroke-width="1.05"/>
<line x1="458.87" y1="579.2" x2="458.87" y2="576.2" stroke="#1a1a1a" stroke-width="1.05"/>
<line x1="458.87" y1="408.9" x2="458.87" y2="411.9" stroke="#1a1a1a" stroke-width="1.05"/>
<line x1="464.28" y1="579.2" x2="464.28" y2="576.2" stroke="#1a1a1a" stroke-width="1.05"/>
<line x1="464.28" y1="408.9" x2="464.28" y2="411.9" stroke="#1a1a1a" stroke-width="1.05"/>
<line x1="469.69" y1="579.2" x2="469.69" y2="576.2" stroke="#1a1a1a" stroke-width="1.05"/>
<line x1="469.69" y1="408.9" x2="469.69" y2="411.9" stroke="#1a1a1a" stroke-width="1.05"/>
<line x1="475.1" y1="579.2" x2="475.1" y2="576.2" stroke="#1a1a1a" stroke-width="1.05"/>
<line x1="475.1" y1="408.9" x2="475.1" y2="411.9" stroke="#1a1a1a" stroke-width="1.05"/>
<line x1="480.51" y1="579.2" x2="480.51" y2="576.2" stroke="#1a1a1a" stroke-width="1.05"/>
<line x1="480.51" y1="408.9" x2="480.51" y2="411.9" stroke="#1a1a1a" stroke-width="1.05"/>
<line x1="485.92" y1="579.2" x2="485.92" y2="576.2" stroke="#1a1a1a" stroke-width="1.05"/>
<line x1="485.92" y1="408.9" x2="485.92" y2="411.9" stroke="#1a1a1a" stroke-width="1.05"/>
<line x1="491.33" y1="579.2" x2="491.33" y2="576.2" stroke="#1a1a1a" stroke-width="1.05"/>
<line x1="491.33" y1="408.9" x2="491.33" y2="411.9" stroke="#1a1a1a" stroke-width="1.05"/>
<line x1="496.74" y1="579.2" x2="496.74" y2="576.2" stroke="#1a1a1a" stroke-width="1.05"/>
<line x1="496.74" y1="408.9" x2="496.74" y2="411.9" stroke="#1a1a1a" stroke-width="1.05"/>
<line x1="339.85" y1="579.2" x2="339.85" y2="574.7" stroke="#1a1a1a" stroke-width="1.05"/>
<line x1="339.85" y1="408.9" x2="339.85" y2="413.4" stroke="#1a1a1a" stroke-width="1.05"/>
<line x1="393.95" y1="579.2" x2="393.95" y2="574.7" stroke="#1a1a1a" stroke-width="1.05"/>
<line x1="393.95" y1="408.9" x2="393.95" y2="413.4" stroke="#1a1a1a" stroke-width="1.05"/>
<line x1="448.05" y1="579.2" x2="448.05" y2="574.7" stroke="#1a1a1a" stroke-width="1.05"/>
<line x1="448.05" y1="408.9" x2="448.05" y2="413.4" stroke="#1a1a1a" stroke-width="1.05"/>
<line x1="366.9" y1="579.2" x2="366.9" y2="573.2" stroke="#1a1a1a" stroke-width="1.05"/>
<line x1="366.9" y1="408.9" x2="366.9" y2="414.9" stroke="#1a1a1a" stroke-width="1.05"/>
<line x1="421" y1="579.2" x2="421" y2="573.2" stroke="#1a1a1a" stroke-width="1.05"/>
<line x1="421" y1="408.9" x2="421" y2="414.9" stroke="#1a1a1a" stroke-width="1.05"/>
<line x1="475.1" y1="579.2" x2="475.1" y2="573.2" stroke="#1a1a1a" stroke-width="1.05"/>
<line x1="475.1" y1="408.9" x2="475.1" y2="414.9" stroke="#1a1a1a" stroke-width="1.05"/>
<line x1="315.3" y1="575.91" x2="318.3" y2="575.91" stroke="#1a1a1a" stroke-width="1.05"/>
<line x1="315.3" y1="571.1" x2="318.3" y2="571.1" stroke="#1a1a1a" stroke-width="1.05"/>
<line x1="315.3" y1="566.28" x2="318.3" y2="566.28" stroke="#1a1a1a" stroke-width="1.05"/>
<line x1="315.3" y1="561.46" x2="318.3" y2="561.46" stroke="#1a1a1a" stroke-width="1.05"/>
<line x1="315.3" y1="556.65" x2="318.3" y2="556.65" stroke="#1a1a1a" stroke-width="1.05"/>
<line x1="315.3" y1="551.83" x2="318.3" y2="551.83" stroke="#1a1a1a" stroke-width="1.05"/>
<line x1="315.3" y1="547.02" x2="318.3" y2="547.02" stroke="#1a1a1a" stroke-width="1.05"/>
<line x1="315.3" y1="542.2" x2="318.3" y2="542.2" stroke="#1a1a1a" stroke-width="1.05"/>
<line x1="315.3" y1="537.39" x2="318.3" y2="537.39" stroke="#1a1a1a" stroke-width="1.05"/>
<line x1="315.3" y1="532.57" x2="318.3" y2="532.57" stroke="#1a1a1a" stroke-width="1.05"/>
<line x1="315.3" y1="527.76" x2="318.3" y2="527.76" stroke="#1a1a1a" stroke-width="1.05"/>
<line x1="315.3" y1="522.94" x2="318.3" y2="522.94" stroke="#1a1a1a" stroke-width="1.05"/>
<line x1="315.3" y1="518.13" x2="318.3" y2="518.13" stroke="#1a1a1a" stroke-width="1.05"/>
<line x1="315.3" y1="513.31" x2="318.3" y2="513.31" stroke="#1a1a1a" stroke-width="1.05"/>
<line x1="315.3" y1="508.5" x2="318.3" y2="508.5" stroke="#1a1a1a" stroke-width="1.05"/>
<line x1="315.3" y1="503.68" x2="318.3" y2="503.68" stroke="#1a1a1a" stroke-width="1.05"/>
<line x1="315.3" y1="498.87" x2="318.3" y2="498.87" stroke="#1a1a1a" stroke-width="1.05"/>
<line x1="315.3" y1="494.05" x2="318.3" y2="494.05" stroke="#1a1a1a" stroke-width="1.05"/>
<line x1="315.3" y1="489.24" x2="318.3" y2="489.24" stroke="#1a1a1a" stroke-width="1.05"/>
<line x1="315.3" y1="484.42" x2="318.3" y2="484.42" stroke="#1a1a1a" stroke-width="1.05"/>
<line x1="315.3" y1="479.61" x2="318.3" y2="479.61" stroke="#1a1a1a" stroke-width="1.05"/>
<line x1="315.3" y1="474.79" x2="318.3" y2="474.79" stroke="#1a1a1a" stroke-width="1.05"/>
<line x1="315.3" y1="469.98" x2="318.3" y2="469.98" stroke="#1a1a1a" stroke-width="1.05"/>
<line x1="315.3" y1="465.16" x2="318.3" y2="465.16" stroke="#1a1a1a" stroke-width="1.05"/>
<line x1="315.3" y1="460.35" x2="318.3" y2="460.35" stroke="#1a1a1a" stroke-width="1.05"/>
<line x1="315.3" y1="455.53" x2="318.3" y2="455.53" stroke="#1a1a1a" stroke-width="1.05"/>
<line x1="315.3" y1="450.72" x2="318.3" y2="450.72" stroke="#1a1a1a" stroke-width="1.05"/>
<line x1="315.3" y1="445.9" x2="318.3" y2="445.9" stroke="#1a1a1a" stroke-width="1.05"/>
<line x1="315.3" y1="441.09" x2="318.3" y2="441.09" stroke="#1a1a1a" stroke-width="1.05"/>
<line x1="315.3" y1="436.27" x2="318.3" y2="436.27" stroke="#1a1a1a" stroke-width="1.05"/>
<line x1="315.3" y1="431.46" x2="318.3" y2="431.46" stroke="#1a1a1a" stroke-width="1.05"/>
<line x1="315.3" y1="426.64" x2="318.3" y2="426.64" stroke="#1a1a1a" stroke-width="1.05"/>
<line x1="315.3" y1="421.83" x2="318.3" y2="421.83" stroke="#1a1a1a" stroke-width="1.05"/>
<line x1="315.3" y1="417.01" x2="318.3" y2="417.01" stroke="#1a1a1a" stroke-width="1.05"/>
<line x1="315.3" y1="412.2" x2="318.3" y2="412.2" stroke="#1a1a1a" stroke-width="1.05"/>
<line x1="499.2" y1="575.91" x2="496.2" y2="575.91" stroke="#1a1a1a" stroke-width="1.05"/>
<line x1="499.2" y1="571.1" x2="496.2" y2="571.1" stroke="#1a1a1a" stroke-width="1.05"/>
<line x1="499.2" y1="566.28" x2="496.2" y2="566.28" stroke="#1a1a1a" stroke-width="1.05"/>
<line x1="499.2" y1="561.46" x2="496.2" y2="561.46" stroke="#1a1a1a" stroke-width="1.05"/>
<line x1="499.2" y1="556.65" x2="496.2" y2="556.65" stroke="#1a1a1a" stroke-width="1.05"/>
<line x1="499.2" y1="551.83" x2="496.2" y2="551.83" stroke="#1a1a1a" stroke-width="1.05"/>
<line x1="499.2" y1="547.02" x2="496.2" y2="547.02" stroke="#1a1a1a" stroke-width="1.05"/>
<line x1="499.2" y1="542.2" x2="496.2" y2="542.2" stroke="#1a1a1a" stroke-width="1.05"/>
<line x1="499.2" y1="537.39" x2="496.2" y2="537.39" stroke="#1a1a1a" stroke-width="1.05"/>
<line x1="499.2" y1="532.57" x2="496.2" y2="532.57" stroke="#1a1a1a" stroke-width="1.05"/>
<line x1="499.2" y1="527.76" x2="496.2" y2="527.76" stroke="#1a1a1a" stroke-width="1.05"/>
<line x1="499.2" y1="522.94" x2="496.2" y2="522.94" stroke="#1a1a1a" stroke-width="1.05"/>
<line x1="499.2" y1="518.13" x2="496.2" y2="518.13" stroke="#1a1a1a" stroke-width="1.05"/>
<line x1="499.2" y1="513.31" x2="496.2" y2="513.31" stroke="#1a1a1a" stroke-width="1.05"/>
<line x1="499.2" y1="508.5" x2="496.2" y2="508.5" stroke="#1a1a1a" stroke-width="1.05"/>
<line x1="499.2" y1="503.68" x2="496.2" y2="503.68" stroke="#1a1a1a" stroke-width="1.05"/>
<line x1="499.2" y1="498.87" x2="496.2" y2="498.87" stroke="#1a1a1a" stroke-width="1.05"/>
<line x1="499.2" y1="494.05" x2="496.2" y2="494.05" stroke="#1a1a1a" stroke-width="1.05"/>
<line x1="499.2" y1="489.24" x2="496.2" y2="489.24" stroke="#1a1a1a" stroke-width="1.05"/>
<line x1="499.2" y1="484.42" x2="496.2" y2="484.42" stroke="#1a1a1a" stroke-width="1.05"/>
<line x1="499.2" y1="479.61" x2="496.2" y2="479.61" stroke="#1a1a1a" stroke-width="1.05"/>
<line x1="499.2" y1="474.79" x2="496.2" y2="474.79" stroke="#1a1a1a" stroke-width="1.05"/>
<line x1="499.2" y1="469.98" x2="496.2" y2="469.98" stroke="#1a1a1a" stroke-width="1.05"/>
<line x1="499.2" y1="465.16" x2="496.2" y2="465.16" stroke="#1a1a1a" stroke-width="1.05"/>
<line x1="499.2" y1="460.35" x2="496.2" y2="460.35" stroke="#1a1a1a" stroke-width="1.05"/>
<line x1="499.2" y1="455.53" x2="496.2" y2="455.53" stroke="#1a1a1a" stroke-width="1.05"/>
<line x1="499.2" y1="450.72" x2="496.2" y2="450.72" stroke="#1a1a1a" stroke-width="1.05"/>
<line x1="499.2" y1="445.9" x2="496.2" y2="445.9" stroke="#1a1a1a" stroke-width="1.05"/>
<line x1="499.2" y1="441.09" x2="496.2" y2="441.09" stroke="#1a1a1a" stroke-width="1.05"/>
<line x1="499.2" y1="436.27" x2="496.2" y2="436.27" stroke="#1a1a1a" stroke-width="1.05"/>
<line x1="499.2" y1="431.46" x2="496.2" y2="431.46" stroke="#1a1a1a" stroke-width="1.05"/>
<line x1="499.2" y1="426.64" x2="496.2" y2="426.64" stroke="#1a1a1a" stroke-width="1.05"/>
<line x1="499.2" y1="421.83" x2="496.2" y2="421.83" stroke="#1a1a1a" stroke-width="1.05"/>
<line x1="499.2" y1="417.01" x2="496.2" y2="417.01" stroke="#1a1a1a" stroke-width="1.05"/>
<line x1="499.2" y1="412.2" x2="496.2" y2="412.2" stroke="#1a1a1a" stroke-width="1.05"/>
<line x1="315.3" y1="566.28" x2="320.8" y2="566.28" stroke="#1a1a1a" stroke-width="1.05"/>
<line x1="315.3" y1="547.02" x2="320.8" y2="547.02" stroke="#1a1a1a" stroke-width="1.05"/>
<line x1="315.3" y1="527.76" x2="320.8" y2="527.76" stroke="#1a1a1a" stroke-width="1.05"/>
<line x1="315.3" y1="508.5" x2="320.8" y2="508.5" stroke="#1a1a1a" stroke-width="1.05"/>
<line x1="315.3" y1="489.24" x2="320.8" y2="489.24" stroke="#1a1a1a" stroke-width="1.05"/>
<line x1="315.3" y1="469.98" x2="320.8" y2="469.98" stroke="#1a1a1a" stroke-width="1.05"/>
<line x1="315.3" y1="450.72" x2="320.8" y2="450.72" stroke="#1a1a1a" stroke-width="1.05"/>
<line x1="315.3" y1="431.46" x2="320.8" y2="431.46" stroke="#1a1a1a" stroke-width="1.05"/>
<line x1="315.3" y1="412.2" x2="320.8" y2="412.2" stroke="#1a1a1a" stroke-width="1.05"/>
<line x1="499.2" y1="566.28" x2="493.7" y2="566.28" stroke="#1a1a1a" stroke-width="1.05"/>
<line x1="499.2" y1="547.02" x2="493.7" y2="547.02" stroke="#1a1a1a" stroke-width="1.05"/>
<line x1="499.2" y1="527.76" x2="493.7" y2="527.76" stroke="#1a1a1a" stroke-width="1.05"/>
<line x1="499.2" y1="508.5" x2="493.7" y2="508.5" stroke="#1a1a1a" stroke-width="1.05"/>
<line x1="499.2" y1="489.24" x2="493.7" y2="489.24" stroke="#1a1a1a" stroke-width="1.05"/>
<line x1="499.2" y1="469.98" x2="493.7" y2="469.98" stroke="#1a1a1a" stroke-width="1.05"/>
<line x1="499.2" y1="450.72" x2="493.7" y2="450.72" stroke="#1a1a1a" stroke-width="1.05"/>
<line x1="499.2" y1="431.46" x2="493.7" y2="431.46" stroke="#1a1a1a" stroke-width="1.05"/>
<line x1="499.2" y1="412.2" x2="493.7" y2="412.2" stroke="#1a1a1a" stroke-width="1.05"/>
<rect x="315.3" y="408.9" width="183.9" height="170.3" fill="none" stroke="#1a1a1a" stroke-width="1.1"/>
<text transform="translate(366.9,590.6) scale(1,1.08)" font-size="9.5" text-anchor="middle" >0.0120</text>
<text transform="translate(421,590.6) scale(1,1.08)" font-size="9.5" text-anchor="middle" >0.0130</text>
<text transform="translate(475.1,590.6) scale(1,1.08)" font-size="9.5" text-anchor="middle" >0.0140</text>
<text transform="translate(311.8,416.5) scale(1,1.08)" font-size="9.5" text-anchor="end" >-14.6</text>
<text transform="translate(311.8,435.76) scale(1,1.08)" font-size="9.5" text-anchor="end" >-14.8</text>
<text transform="translate(311.8,455.02) scale(1,1.08)" font-size="9.5" text-anchor="end" >-15.0</text>
<text transform="translate(311.8,474.28) scale(1,1.08)" font-size="9.5" text-anchor="end" >-15.2</text>
<text transform="translate(311.8,493.54) scale(1,1.08)" font-size="9.5" text-anchor="end" >-15.4</text>
<text transform="translate(311.8,512.8) scale(1,1.08)" font-size="9.5" text-anchor="end" >-15.6</text>
<text transform="translate(311.8,532.06) scale(1,1.08)" font-size="9.5" text-anchor="end" >-15.8</text>
<text transform="translate(311.8,551.32) scale(1,1.08)" font-size="9.5" text-anchor="end" >-16.0</text>
<text transform="translate(311.8,570.58) scale(1,1.08)" font-size="9.5" text-anchor="end" >-16.2</text>
<circle cx="325.57" cy="560.5" r="2.3" fill="#f00"/>
<circle cx="354.17" cy="557.13" r="2.3" fill="#f00"/>
<circle cx="429.54" cy="464.2" r="2.3" fill="#f00"/>
<circle cx="448.78" cy="493.09" r="2.3" fill="#f00"/>
<circle cx="490.56" cy="427.61" r="2.3" fill="#f00"/>
<line x1="326.3" y1="569.4" x2="490.3" y2="434.7" stroke="#f22" stroke-width="1.1"/>
<text transform="translate(464.8,429.2) scale(1,1.1)" font-size="12.3" text-anchor="middle" >(f)</text>
<text x="406.5" y="603.3" font-size="9.8" text-anchor="middle" >1/<tspan font-style="italic">T</tspan><tspan dy="1.8" font-size="6.2">m</tspan><tspan dy="-1.8"> (K</tspan><tspan dy="-3.8" font-size="6.6">-1</tspan><tspan dy="3.8">)</tspan></text>
<text transform="translate(285.8,493.3) rotate(-90)" font-size="10.3" text-anchor="middle" >lnτ (τ in seconds)</text>
<text transform="translate(11,76.3) rotate(-90)" font-size="9.8" text-anchor="middle" ><tspan font-style="italic">f</tspan><tspan dx="0.3" dy="-4.4" font-size="6.8">2</tspan><tspan dx="0.8" dy="4.4"> (kHz</tspan><tspan dy="-4.4" font-size="6.8">2</tspan><tspan dy="4.4">)</tspan></text>
<text transform="translate(256.5,88.8) rotate(90)" font-size="9.8" text-anchor="middle" ><tspan font-style="italic">Q</tspan><tspan dy="-3.6" font-size="6.6">-1</tspan></text>
<text transform="translate(283,86.3) rotate(-90)" font-size="9.8" text-anchor="middle" ><tspan font-style="italic">f</tspan><tspan dx="0.3" dy="-4.4" font-size="6.8">2</tspan><tspan dx="0.8" dy="4.4"> (kHz</tspan><tspan dy="-4.4" font-size="6.8">2</tspan><tspan dy="4.4">)</tspan></text>
<text transform="translate(529.1,91.3) rotate(90)" font-size="9.8" text-anchor="middle" ><tspan font-style="italic">Q</tspan><tspan dy="-3.6" font-size="6.6">-1</tspan></text>
<text transform="translate(11.3,283) rotate(-90)" font-size="9.8" text-anchor="middle" ><tspan font-style="italic">f</tspan><tspan dx="0.3" dy="-4.4" font-size="6.8">2</tspan><tspan dx="0.8" dy="4.4"> (kHz</tspan><tspan dy="-4.4" font-size="6.8">2</tspan><tspan dy="4.4">)</tspan></text>
<text transform="translate(256.4,291.8) rotate(90)" font-size="9.8" text-anchor="middle" ><tspan font-style="italic">Q</tspan><tspan dy="-3.6" font-size="6.6">-1</tspan></text>
<text transform="translate(282.9,290) rotate(-90)" font-size="9.8" text-anchor="middle" ><tspan font-style="italic">f</tspan><tspan dx="0.3" dy="-4.4" font-size="6.8">2</tspan><tspan dx="0.8" dy="4.4"> (kHz</tspan><tspan dy="-4.4" font-size="6.8">2</tspan><tspan dy="4.4">)</tspan></text>
<text transform="translate(528.7,291) rotate(90)" font-size="9.8" text-anchor="middle" ><tspan font-style="italic">Q</tspan><tspan dy="-3.6" font-size="6.6">-1</tspan></text>
<text transform="translate(12.1,491.3) rotate(-90)" font-size="9.8" text-anchor="middle" ><tspan font-style="italic">f</tspan><tspan dx="0.3" dy="-4.4" font-size="6.8">2</tspan><tspan dx="0.8" dy="4.4"> (kHz</tspan><tspan dy="-4.4" font-size="6.8">2</tspan><tspan dy="4.4">)</tspan></text>
<text transform="translate(258.1,502.6) rotate(90)" font-size="9.8" text-anchor="middle" ><tspan font-style="italic">Q</tspan><tspan dy="-3.6" font-size="6.6">-1</tspan></text>
<text transform="translate(212,17.8) scale(1,1.1)" font-size="12.3" text-anchor="middle" >(a)</text>
<text transform="translate(482,18) scale(1,1.1)" font-size="12.3" text-anchor="middle" >(b)</text>
<text transform="translate(211.6,222.9) scale(1,1.1)" font-size="12.3" text-anchor="middle" >(c)</text>
<text transform="translate(482,222.9) scale(1,1.1)" font-size="12.3" text-anchor="middle" >(d)</text>
<text transform="translate(212.7,427.7) scale(1,1.1)" font-size="12.3" text-anchor="middle" >(e)</text>
<line x1="56.3" y1="5" x2="56.3" y2="49.85" stroke="#111" stroke-width="1" stroke-dasharray="1 2.15"/>
<line x1="56.3" y1="69.65" x2="56.3" y2="171" stroke="#111" stroke-width="1" stroke-dasharray="1 2.15"/>
<text transform="translate(59.9,59.75) rotate(-90)" font-size="8.1" text-anchor="middle" >17 K</text>
<line x1="70.5" y1="5" x2="70.5" y2="50.95" stroke="#111" stroke-width="1" stroke-dasharray="1 2.15"/>
<line x1="70.5" y1="70.75" x2="70.5" y2="171" stroke="#111" stroke-width="1" stroke-dasharray="1 2.15"/>
<text transform="translate(73.8,60.85) rotate(-90)" font-size="8.1" text-anchor="middle" >41 K</text>
<text x="130.7" y="31" font-size="8.0" text-anchor="start"  class="md">GdMnO<tspan dy="1.9" font-size="5.9">3</tspan><tspan dy="-1.9">, 790 kHz</tspan></text>
<rect x="75.9" y="85.03" width="59.14" height="17.65" fill="#fff"/>
<text x="76.2" y="90.1" font-size="6.5" text-anchor="start"  class="sm">Ea fixed at 0.034 eV</text>
<text x="76.2" y="96" font-size="6.5" text-anchor="start"  class="sm">Qm = 0.0037</text>
<text x="76.2" y="101.9" font-size="6.5" text-anchor="start"  class="sm">Tm = 74 ± 1 K</text>
<rect x="149.7" y="111.43" width="63.43" height="17.85" fill="#fff"/>
<text x="150" y="116.5" font-size="6.5" text-anchor="start"  class="sm">Ea: 0.055 ± 0.004  eV</text>
<text x="150" y="122.5" font-size="6.5" text-anchor="start"  class="sm">Qm: 0.0024</text>
<text x="150" y="128.5" font-size="6.5" text-anchor="start"  class="sm">Tm: 137 ± 2 K</text>
<line x1="333.2" y1="7" x2="333.2" y2="78.25" stroke="#111" stroke-width="1" stroke-dasharray="1 2.15"/>
<line x1="333.2" y1="98.85" x2="333.2" y2="172.5" stroke="#111" stroke-width="1" stroke-dasharray="1 2.15"/>
<text transform="translate(336.84,88.55) rotate(-90)" font-size="8.5" text-anchor="middle" >26 K</text>
<line x1="342.6" y1="7" x2="342.6" y2="78.25" stroke="#111" stroke-width="1" stroke-dasharray="1 2.15"/>
<line x1="342.6" y1="98.85" x2="342.6" y2="172.5" stroke="#111" stroke-width="1" stroke-dasharray="1 2.15"/>
<text transform="translate(345.84,88.55) rotate(-90)" font-size="8.5" text-anchor="middle" >42 K</text>
<text x="383.3" y="38.5" font-size="8.0" text-anchor="start"  class="md">TbMnO<tspan dy="1.9" font-size="5.9">3</tspan><tspan dy="-1.9"> Crystal 1, 1560 kHz</tspan></text>
<rect x="360.2" y="147.73" width="59.14" height="19.25" fill="#fff"/>
<text x="360.5" y="152.8" font-size="6.5" text-anchor="start"  class="sm">Ea fixed at 0.043 eV</text>
<text x="360.5" y="159.5" font-size="6.5" text-anchor="start"  class="sm">Qm = 0.0041</text>
<text x="360.5" y="166.2" font-size="6.5" text-anchor="start"  class="sm">Tm = 85 ± 1 K</text>
<rect x="429.4" y="99.73" width="67.23" height="18.65" fill="#fff"/>
<text x="429.7" y="104.8" font-size="6.5" text-anchor="start"  class="sm">Ea = 0.082 ± 0.003  eV</text>
<text x="429.7" y="111.2" font-size="6.5" text-anchor="start"  class="sm">Qm = 0.0043</text>
<text x="429.7" y="117.6" font-size="6.5" text-anchor="start"  class="sm">Tm = 147 ± 1 K</text>
<line x1="347.5" y1="163.5" x2="359.2" y2="163.5" stroke="#111" stroke-width="0.9"/>
<line x1="494.8" y1="105.3" x2="499.2" y2="105.3" stroke="#111" stroke-width="0.9"/>
<line x1="63" y1="207.5" x2="63" y2="264.1" stroke="#111" stroke-width="1" stroke-dasharray="1 2.15"/>
<line x1="63" y1="283.9" x2="63" y2="373.5" stroke="#111" stroke-width="1" stroke-dasharray="1 2.15"/>
<text transform="translate(65.8,274) rotate(-90)" font-size="8.1" text-anchor="middle" >27 K</text>
<line x1="71.9" y1="207.5" x2="71.9" y2="284" stroke="#111" stroke-width="1" stroke-dasharray="1 2.15"/>
<line x1="71.9" y1="303.8" x2="71.9" y2="373.5" stroke="#111" stroke-width="1" stroke-dasharray="1 2.15"/>
<text transform="translate(75.7,293.9) rotate(-90)" font-size="8.1" text-anchor="middle" >41 K</text>
<text x="106.1" y="242.9" font-size="8.0" text-anchor="start"  class="md">TbMnO<tspan dy="1.9" font-size="5.9">3</tspan><tspan dy="-1.9"> Crystal 2, 1610 kHz</tspan></text>
<rect x="103" y="346.93" width="63.43" height="18.85" fill="#fff"/>
<text x="103.3" y="352" font-size="6.5" text-anchor="start"  class="sm">Ea: 0.041 ± 0.002  eV</text>
<text x="103.3" y="358.5" font-size="6.5" text-anchor="start"  class="sm">Qm: 0.0022</text>
<text x="103.3" y="365" font-size="6.5" text-anchor="start"  class="sm">Tm: 89 ± 1 K</text>
<line x1="331.5" y1="207.5" x2="331.5" y2="255.1" stroke="#111" stroke-width="1" stroke-dasharray="1 2.15"/>
<line x1="331.5" y1="274.9" x2="331.5" y2="373" stroke="#111" stroke-width="1" stroke-dasharray="1 2.15"/>
<text transform="translate(334.3,265) rotate(-90)" font-size="8.1" text-anchor="middle" >22 K</text>
<line x1="340.9" y1="207.5" x2="340.9" y2="255.1" stroke="#111" stroke-width="1" stroke-dasharray="1 2.15"/>
<line x1="340.9" y1="274.9" x2="340.9" y2="373" stroke="#111" stroke-width="1" stroke-dasharray="1 2.15"/>
<text transform="translate(343.8,265) rotate(-90)" font-size="8.1" text-anchor="middle" >38 K</text>
<text x="424.1" y="241.5" font-size="8.0" text-anchor="start"  class="md">TbMn<tspan dy="1.9" font-size="5.9">0.98</tspan><tspan dy="-1.9">Fe</tspan><tspan dy="1.9" font-size="7.6">0.02</tspan><tspan dy="-1.9">O</tspan><tspan dy="1.9" font-size="5.9">3</tspan></text>
<text x="426" y="252.3" font-size="8.0" text-anchor="start"  class="md">399 kHz</text>
<rect x="377.8" y="337.43" width="59.14" height="19.05" fill="#fff"/>
<text x="378.1" y="342.5" font-size="6.5" text-anchor="start"  class="sm">Ea fixed at 0.034 eV</text>
<text x="378.1" y="349.1" font-size="6.5" text-anchor="start"  class="sm">Qm = 0.0035</text>
<text x="378.1" y="355.7" font-size="6.5" text-anchor="start"  class="sm">Tm = 70 ± 1 K</text>
<rect x="432.2" y="307.03" width="65.42" height="19.45" fill="#fff"/>
<text x="432.5" y="312.1" font-size="6.5" text-anchor="start"  class="sm">Ea = 0.087 ± 0.006 eV</text>
<text x="432.5" y="318.9" font-size="6.5" text-anchor="start"  class="sm">Qm = 0.0092</text>
<text x="432.5" y="325.7" font-size="6.5" text-anchor="start"  class="sm">Tm = 144 ± 2 K</text>
<line x1="64.5" y1="412" x2="64.5" y2="437.1" stroke="#111" stroke-width="1" stroke-dasharray="1 2.15"/>
<line x1="64.5" y1="456.9" x2="64.5" y2="578.5" stroke="#111" stroke-width="1" stroke-dasharray="1 2.15"/>
<text transform="translate(67.7,447) rotate(-90)" font-size="8.1" text-anchor="middle" >27 K</text>
<line x1="78" y1="412" x2="78" y2="437.4" stroke="#111" stroke-width="1" stroke-dasharray="1 2.15"/>
<line x1="78" y1="457.2" x2="78" y2="578.5" stroke="#111" stroke-width="1" stroke-dasharray="1 2.15"/>
<text transform="translate(81.8,447.3) rotate(-90)" font-size="8.1" text-anchor="middle" >50 K</text>
<text x="142.6" y="427.6" font-size="8.0" text-anchor="start"  class="md">Sm<tspan dy="1.9" font-size="5.9">0.6</tspan><tspan dy="-1.9">Y</tspan><tspan dy="1.9" font-size="5.9">0.4</tspan><tspan dy="-1.9">MnO</tspan><tspan dy="1.9" font-size="5.9">3</tspan></text>
<text x="142.6" y="436" font-size="8.0" text-anchor="start"  class="md">570 kHz</text>
<text x="85.8" y="558.7" font-size="6.5" text-anchor="start"  class="sm">Ea = 0.042 ± 0.003 eV</text>
<text x="85.8" y="565.6" font-size="6.5" text-anchor="start"  class="sm">Qm = 0.011</text>
<text x="85.8" y="572.5" font-size="6.5" text-anchor="start"  class="sm">Tm= 76 ± 1 K</text>
<rect x="157.9" y="532.53" width="65.42" height="19.25" fill="#fff"/>
<text x="158.2" y="537.6" font-size="6.5" text-anchor="start"  class="sm">Ea = 0.104 ± 0.006 eV</text>
<text x="158.2" y="544.3" font-size="6.5" text-anchor="start"  class="sm">Qm = 0.0047</text>
<text x="158.2" y="551" font-size="6.5" text-anchor="start"  class="sm">Tm = 156 ± 2 K</text>
<line x1="78.4" y1="564.2" x2="84.9" y2="562.4" stroke="#111" stroke-width="0.9"/>
</svg></body></html>
